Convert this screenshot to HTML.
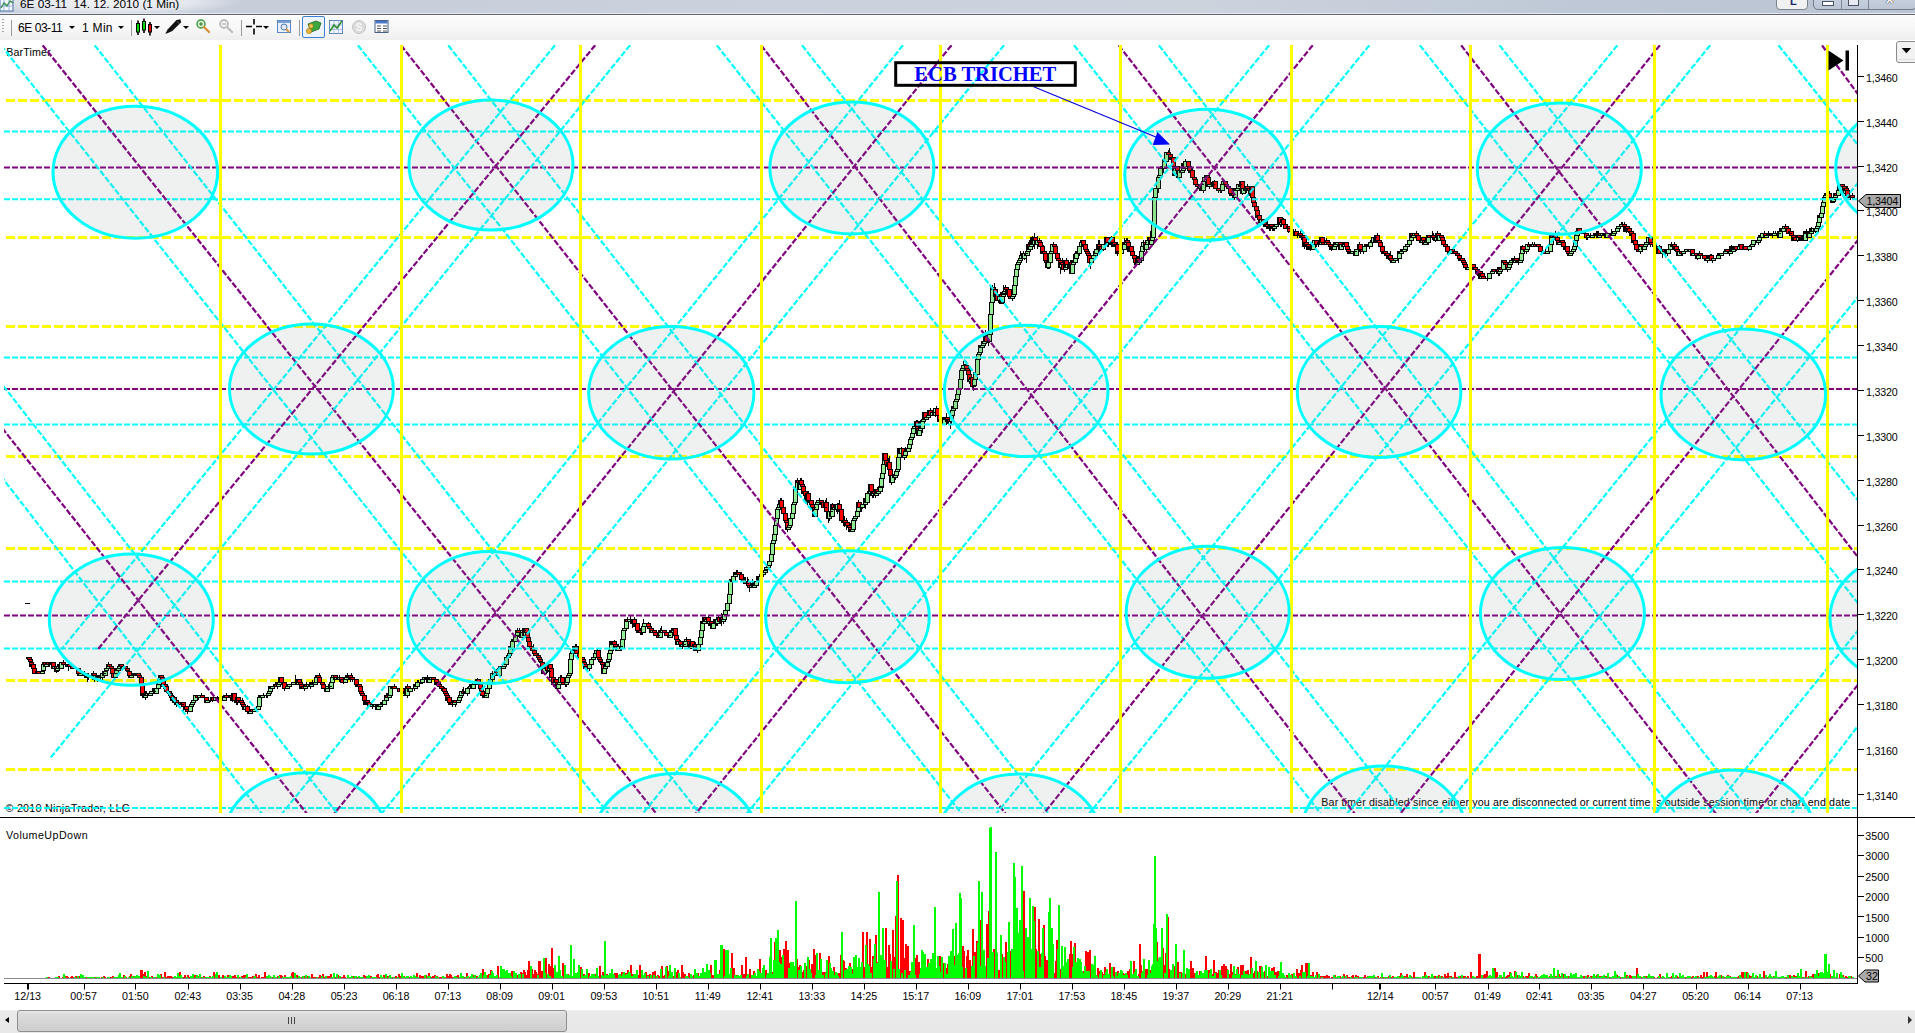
<!DOCTYPE html>
<html><head><meta charset="utf-8"><title>6E 03-11 14. 12. 2010 (1 Min)</title>
<style>
html,body{margin:0;padding:0;background:#fff;}
body{width:1915px;height:1033px;overflow:hidden;position:relative;font-family:"Liberation Sans",sans-serif;}
#title{position:absolute;left:0;top:0;width:1915px;height:14px;background:linear-gradient(90deg,#c9d0dc 0,#c6ceda 300px,#cbd2dd 800px,#ccd3dd 1200px,#bec8d6 1600px,#bac4d3 1915px);}
#title .glow{position:absolute;left:-20px;top:-14px;width:260px;height:30px;background:radial-gradient(ellipse at center,rgba(255,255,255,.75) 0,rgba(255,255,255,.5) 45%,rgba(255,255,255,0) 72%);}
#title .txt{position:absolute;left:20px;top:-3px;font-size:11.800px;line-height:14px;color:#000;white-space:pre;}
#tline{position:absolute;left:0;top:13px;width:1915px;height:2px;background:linear-gradient(#e6eaf2 0,#e6eaf2 50%,#60656d 50%,#60656d 100%);}
#tool{position:absolute;left:0;top:15px;width:1915px;height:25px;background:linear-gradient(#ffffff 0,#ffffff 4%,#fbfbfb 8%,#f8f8f8 50%,#eeeeee 100%);}
#tool .t{position:absolute;top:5.500px;font-size:12px;line-height:14px;color:#000;white-space:pre;}
.sep{position:absolute;top:5px;width:1px;height:16px;background:#9a9a9a;}
.dd{position:absolute;top:11px;width:0;height:0;border-left:3px solid transparent;border-right:3px solid transparent;border-top:3px solid #000;}
svg{position:absolute;left:0;top:0;}
.ax{font-family:"Liberation Sans",sans-serif;font-size:10.7px;fill:#000;}
.sm{font-family:"Liberation Sans",sans-serif;font-size:10.7px;fill:#000;}
#scroll{position:absolute;left:0;top:1010px;width:1915px;height:23px;background:linear-gradient(#efefef 0,#e9e9e9 3px,#e8e8e8 100%);}
#thumb{position:absolute;left:17px;top:0px;width:550px;height:22px;border:1px solid #8e8e8e;border-radius:3px;background:linear-gradient(#e9e9e9 0,#dcdcdc 12%,#d6d6d6 50%,#cdcdcd 100%);box-sizing:border-box;}
</style></head><body>
<div id="title"><div class="glow"></div>
<svg width="16" height="14" viewBox="0 0 16 14"><rect x="0" y="-4" width="13" height="15" fill="#f4f8ff" stroke="#4a6fa5" stroke-width="1"/><path d="M1 8 L4 3 L7 6 L10 1 L13 3" stroke="#2a8a2a" stroke-width="1.4" fill="none"/><path d="M0 6H13M4 -3V11M9 -3V11" stroke="#7b9bd0" stroke-width=".7"/></svg>
<div class="txt">6E 03-11  14. 12. 2010 (1 Min)</div>
<!-- window buttons -->
<div style="position:absolute;left:1776px;top:-4px;width:32px;height:14px;border:1px solid #7a8190;border-radius:0 0 4px 4px;background:#f1f1f1;box-sizing:border-box;"></div>
<div style="position:absolute;left:1790px;top:-5px;font-size:11px;line-height:12px;color:#1a2a6a;font-weight:bold;">L</div>
<div style="position:absolute;left:1813px;top:-4px;width:104px;height:14px;border:1px solid #6f7a8c;border-radius:0 0 5px 5px;background:linear-gradient(#c9d2df,#bcc6d5);box-sizing:border-box;"></div>
<div style="position:absolute;left:1841px;top:0;width:1px;height:10px;background:#7d8797;"></div>
<div style="position:absolute;left:1868px;top:0;width:1px;height:10px;background:#7d8797;"></div>
<div style="position:absolute;left:1822px;top:1px;width:10px;height:3px;border:1px solid #4a5261;background:#fff;"></div>
<div style="position:absolute;left:1848px;top:-3px;width:9px;height:7px;border:1px solid #4a5261;background:#e8ecf2;"></div>
<div style="position:absolute;left:1886px;top:-7px;font-size:13px;line-height:12px;color:#fff;font-weight:bold;text-shadow:0 0 1px #333,0 0 1px #333;">x</div>
</div>
<div id="tline"></div>
<div id="tool">
 <div style="position:absolute;left:2px;top:4px;width:2px;height:15px;background:repeating-linear-gradient(#a8a8a8 0,#a8a8a8 1.500px,transparent 1.500px,transparent 3px);"></div>
 <div class="sep" style="left:11px"></div>
 <div class="t" style="left:18px;letter-spacing:-0.450px">6E 03-11</div><div class="dd" style="left:69px"></div>
 <div class="t" style="left:82px;letter-spacing:0.300px">1 Min</div><div class="dd" style="left:118px"></div>
 <div class="sep" style="left:131px"></div>
 <svg width="400" height="25" viewBox="0 15 400 25" style="left:0;top:0">
  <!-- candle icon -->
  <path d="M138 20.500V35M144 18.500V33M150 22V35.500" stroke="#000" stroke-width="1.600"/>
  <rect x="136" y="23" width="4" height="9.500" fill="#000"/><rect x="137" y="24" width="2" height="7.500" fill="#00e000"/>
  <rect x="142" y="21" width="4" height="9.500" fill="#000"/><rect x="143" y="22" width="2" height="7.500" fill="#00e000"/>
  <rect x="148" y="24" width="4" height="8.500" fill="#000"/><rect x="149" y="25" width="2" height="6.500" fill="#f00000"/>
  <path d="M154 26h6l-3 3z" fill="#000"/>
  <!-- pen -->
  <path d="M165.300 33.800 L167.800 29.300 L176.500 20 L180.300 19.300 L181.200 22.300 L172.300 31 L167.300 33.300 Z" fill="#111"/><path d="M177 21.500 l2.500 2" stroke="#777" stroke-width=".8"/>
  <path d="M183 26h6l-3 3z" fill="#000"/>
  <!-- zoom in -->
  <circle cx="201" cy="24" r="4" fill="#e8f6e0" stroke="#3a9a3a" stroke-width="1.5"/><path d="M199 24h4M201 22v4" stroke="#1a7a1a" stroke-width="1"/><path d="M204 27l5 5" stroke="#d9903a" stroke-width="2.4" stroke-linecap="round"/>
  <!-- zoom out -->
  <circle cx="224" cy="24" r="4" fill="#f0f0f0" stroke="#b0b0b0" stroke-width="1.5"/><path d="M222 24h4" stroke="#aaa" stroke-width="1"/><path d="M227 27l5 5" stroke="#bdbdbd" stroke-width="2.4" stroke-linecap="round"/>
  <!-- crosshair -->
  <path d="M246 26.5h6M256 26.5h6M254 19v5.5M254 28.500v6" stroke="#000" stroke-width="1.6"/>
  <path d="M263 26h6l-3 3z" fill="#000"/>
  <!-- data box -->
  <rect x="277.5" y="20.500" width="13" height="12" fill="#eaf1fb" stroke="#5d86c4" stroke-width="1"/><rect x="278" y="21" width="12" height="2" fill="#7aa0d8"/><circle cx="284" cy="27" r="3" fill="#dbe9fa" stroke="#5578a8" stroke-width="1"/><path d="M286 29l3 3" stroke="#d9903a" stroke-width="1.8"/>
  <!-- selected button -->
  <rect x="302.5" y="16.5" width="22" height="21" rx="1.500" fill="#eef4fb" stroke="#3c7fd8" stroke-width="1"/>
  <path d="M308 24 l8 -3 l5 2 l-2 6 l-8 3z" fill="#3fa63f" stroke="#1d6b1d" stroke-width=".8"/><circle cx="309" cy="31" r="2.600" fill="#e8b73a" stroke="#a67a12" stroke-width=".7"/><circle cx="311" cy="26" r="2.200" fill="#f0c850" stroke="#a67a12" stroke-width=".7"/>
  <!-- chart icon -->
  <rect x="329.5" y="20.500" width="13" height="13" fill="#f3f7fd" stroke="#5d86c4" stroke-width="1"/><path d="M329.500 25h13M329.500 29.500h13M334 20.500v13M338.500 20.500v13" stroke="#9db8e0" stroke-width=".8"/><path d="M330 31l4-6 3 3 5-7" stroke="#2a8a2a" stroke-width="1.500" fill="none"/>
  <!-- disabled S -->
  <circle cx="359" cy="27" r="6.500" fill="#dcdcdc" stroke="#c4c4c4" stroke-width="1"/><text x="359" y="31" font-size="10" text-anchor="middle" fill="#f6f6f6" font-family="Liberation Sans" font-weight="bold">S</text>
  <!-- table icon -->
  <rect x="375" y="20.500" width="13" height="12" fill="#fff" stroke="#4a5f86" stroke-width="1"/><rect x="375.500" y="21" width="12" height="2.500" fill="#4a78c8"/><path d="M377 26h4M383 26h4M377 28.500h4M383 28.500h4M377 31h4M383 31h4" stroke="#555" stroke-width="1"/>
 </svg>
 <div class="sep" style="left:241px"></div>
 <div class="sep" style="left:299px"></div>
</div>

<svg width="1915" height="1033" viewBox="0 0 1915 1033">
<defs><clipPath id="cc"><rect x="4" y="45" width="1853" height="768"/></clipPath>
<clipPath id="vc"><rect x="4" y="818" width="1853" height="161"/></clipPath></defs>
<text x="6.200" y="56" class="sm" textLength="44.500">BarTimer</text>
<text x="5.500" y="812" class="sm" textLength="124">© 2010 NinjaTrader, LLC</text>
<text x="1321.300" y="806" class="sm" textLength="529">Bar timer disabled since either you are disconnected or current time is outside session time or chart end date</text>
<g clip-path="url(#cc)">
<line x1="6" y1="100.5" x2="1857" y2="100.5" stroke="#FFFF00" stroke-width="3" stroke-dasharray="9 3"/>
<line x1="6" y1="237.5" x2="1857" y2="237.5" stroke="#FFFF00" stroke-width="3" stroke-dasharray="9 3"/>
<line x1="6" y1="326.5" x2="1857" y2="326.5" stroke="#FFFF00" stroke-width="3" stroke-dasharray="9 3"/>
<line x1="6" y1="456.5" x2="1857" y2="456.5" stroke="#FFFF00" stroke-width="3" stroke-dasharray="9 3"/>
<line x1="6" y1="548.5" x2="1857" y2="548.5" stroke="#FFFF00" stroke-width="3" stroke-dasharray="9 3"/>
<line x1="6" y1="680.5" x2="1857" y2="680.5" stroke="#FFFF00" stroke-width="3" stroke-dasharray="9 3"/>
<line x1="6" y1="769.5" x2="1857" y2="769.5" stroke="#FFFF00" stroke-width="3" stroke-dasharray="9 3"/>
<g shape-rendering="crispEdges">
<path d="M28.5 657.5V658.0M29.5 657.5V659.7M30.5 659.7V662.0M31.5 662.0V666.5M32.5 664.2V666.5M33.5 664.2V671.0M34.5 668.7V673.2M35.5 671.0V673.2M36.5 673.2V673.2M37.5 671.0V673.2M38.5 671.0V673.2M39.5 671.0V673.2M40.5 671.0V673.2M41.5 671.0V673.2M42.5 671.0V673.2M43.5 664.2V671.0M44.5 662.0V664.2M45.5 662.0V666.5M46.5 664.2V666.5M47.5 662.0V664.2M48.5 662.0V664.2M49.5 664.2V666.5M50.5 662.0V664.2M51.5 662.0V664.2M52.5 662.0V666.5M53.5 662.0V668.7M54.5 666.5V668.7M55.5 666.5V668.7M56.5 666.5V673.2M57.5 668.7V671.0M58.5 664.2V668.7M59.5 664.2V666.5M60.5 664.2V668.7M61.5 662.0V668.7M62.5 662.0V662.0M63.5 659.7V664.2M64.5 664.2V664.2M65.5 664.2V666.5M66.5 664.2V664.2M67.5 664.2V666.5M68.5 664.2V671.0M69.5 664.2V666.5M70.5 666.5V668.7M71.5 664.2V666.5M72.5 666.5V668.7M73.5 668.7V668.7M74.5 668.7V668.7M75.5 668.7V668.7M76.5 668.7V668.7M77.5 668.7V668.7M78.5 668.7V673.2M79.5 673.2V675.4M80.5 673.2V675.4M81.5 673.2V673.2M82.5 671.0V675.4M83.5 673.2V673.2M84.5 671.0V675.4M85.5 673.2V675.4M86.5 673.2V677.7M87.5 675.4V682.2M88.5 675.4V679.9M89.5 677.7V677.7M90.5 677.7V677.7M91.5 675.4V677.7M92.5 675.4V677.7M93.5 671.0V679.9M94.5 673.2V682.2M95.5 673.2V679.9M96.5 673.2V675.4M97.5 675.4V682.2M98.5 675.4V679.9M99.5 675.4V677.7M100.5 675.4V677.7M101.5 675.4V677.7M102.5 671.0V679.9M103.5 673.2V675.4M104.5 673.2V675.4M105.5 671.0V675.4M106.5 668.7V671.0M107.5 668.7V668.7M108.5 662.0V668.7M109.5 664.2V666.5M110.5 664.2V666.5M111.5 666.5V673.2M112.5 668.7V673.2M113.5 673.2V677.7M114.5 675.4V677.7M115.5 673.2V677.7M116.5 668.7V673.2M117.5 666.5V671.0M118.5 666.5V673.2M119.5 664.2V668.7M120.5 664.2V666.5M121.5 664.2V666.5M122.5 664.2V668.7M123.5 666.5V668.7M124.5 666.5V666.5M125.5 666.5V668.7M126.5 668.7V668.7M127.5 668.7V671.0M128.5 671.0V673.2M129.5 668.7V675.4M130.5 675.4V677.7M131.5 675.4V677.7M132.5 673.2V677.7M133.5 675.4V675.4M134.5 675.4V675.4M135.5 673.2V675.4M136.5 673.2V675.4M137.5 673.2V675.4M138.5 673.2V675.4M139.5 675.4V679.9M140.5 675.4V677.7M141.5 677.7V684.4M142.5 684.4V697.9M143.5 691.2V697.9M144.5 691.2V697.9M145.5 691.2V700.1M146.5 691.2V695.6M147.5 693.4V695.6M148.5 693.4V693.4M149.5 693.4V695.6M150.5 693.4V695.6M151.5 691.2V693.4M152.5 688.9V693.4M153.5 691.2V691.2M154.5 688.9V693.4M155.5 688.9V693.4M156.5 688.9V693.4M157.5 686.7V688.9M158.5 684.4V688.9M159.5 679.9V686.7M160.5 675.4V679.9M161.5 675.4V677.7M162.5 675.4V679.9M163.5 679.9V688.9M164.5 684.4V686.7M165.5 684.4V688.9M166.5 686.7V693.4M167.5 691.2V691.2M168.5 688.9V691.2M169.5 691.2V695.6M170.5 693.4V697.9M171.5 695.6V697.9M172.5 697.9V700.1M173.5 697.9V700.1M174.5 695.6V702.4M175.5 700.1V702.4M176.5 700.1V706.9M177.5 702.4V704.6M178.5 702.4V702.4M179.5 702.4V702.4M180.5 702.4V704.6M181.5 704.6V704.6M182.5 702.4V704.6M183.5 702.4V711.3M184.5 704.6V706.9M185.5 706.9V706.9M186.5 706.9V709.1M187.5 709.1V713.6M188.5 709.1V711.3M189.5 709.1V711.3M190.5 706.9V711.3M191.5 704.6V706.9M192.5 702.4V709.1M193.5 697.9V702.4M194.5 700.1V700.1M195.5 695.6V702.4M196.5 695.6V697.9M197.5 695.6V697.9M198.5 697.9V700.1M199.5 695.6V697.9M200.5 695.6V695.6M201.5 693.4V695.6M202.5 695.6V697.9M203.5 697.9V697.9M204.5 697.9V697.9M205.5 697.9V697.9M206.5 697.9V702.4M207.5 700.1V702.4M208.5 700.1V702.4M209.5 700.1V702.4M210.5 700.1V702.4M211.5 700.1V700.1M212.5 697.9V702.4M213.5 697.9V700.1M214.5 700.1V700.1M215.5 697.9V700.1M216.5 697.9V700.1M217.5 695.6V700.1M218.5 697.9V700.1M219.5 697.9V700.1M220.5 695.6V700.1M221.5 697.9V697.9M222.5 695.6V700.1M223.5 697.9V700.1M224.5 697.9V700.1M225.5 695.6V697.9M226.5 693.4V697.9M227.5 697.9V697.9M228.5 697.9V697.9M229.5 697.9V697.9M230.5 695.6V697.9M231.5 695.6V697.9M232.5 697.9V702.4M233.5 693.4V700.1M234.5 693.4V700.1M235.5 700.1V700.1M236.5 700.1V704.6M237.5 697.9V704.6M238.5 697.9V702.4M239.5 702.4V702.4M240.5 697.9V702.4M241.5 700.1V704.6M242.5 697.9V704.6M243.5 704.6V706.9M244.5 706.9V709.1M245.5 706.9V711.3M246.5 706.9V706.9M247.5 704.6V711.3M248.5 711.3V713.6M249.5 711.3V713.6M250.5 709.1V713.6M251.5 709.1V711.3M252.5 709.1V711.3M253.5 709.1V711.3M254.5 709.1V711.3M255.5 709.1V709.1M256.5 709.1V709.1M257.5 709.1V709.1M258.5 706.9V709.1M259.5 695.6V706.9M260.5 695.6V697.9M261.5 695.6V697.9M262.5 695.6V697.9M263.5 693.4V695.6M264.5 695.6V695.6M265.5 695.6V695.6M266.5 695.6V697.9M267.5 693.4V697.9M268.5 693.4V695.6M269.5 691.2V693.4M270.5 686.7V691.2M271.5 686.7V688.9M272.5 686.7V691.2M273.5 686.7V686.7M274.5 686.7V686.7M275.5 682.2V686.7M276.5 682.2V686.7M277.5 686.7V688.9M278.5 684.4V686.7M279.5 682.2V686.7M280.5 677.7V682.2M281.5 677.7V682.2M282.5 682.2V684.4M283.5 679.9V684.4M284.5 682.2V691.2M285.5 686.7V688.9M286.5 688.9V688.9M287.5 686.7V688.9M288.5 686.7V686.7M289.5 684.4V686.7M290.5 684.4V684.4M291.5 684.4V684.4M292.5 684.4V684.4M293.5 682.2V684.4M294.5 682.2V682.2M295.5 675.4V682.2M296.5 682.2V684.4M297.5 682.2V684.4M298.5 679.9V684.4M299.5 679.9V684.4M300.5 682.2V686.7M301.5 684.4V688.9M302.5 684.4V688.9M303.5 686.7V688.9M304.5 688.9V691.2M305.5 684.4V688.9M306.5 682.2V688.9M307.5 686.7V686.7M308.5 684.4V686.7M309.5 684.4V684.4M310.5 684.4V688.9M311.5 682.2V686.7M312.5 679.9V684.4M313.5 682.2V684.4M314.5 679.9V684.4M315.5 679.9V684.4M316.5 677.7V682.2M317.5 675.4V677.7M318.5 675.4V677.7M319.5 673.2V682.2M320.5 682.2V684.4M321.5 682.2V682.2M322.5 682.2V684.4M323.5 684.4V688.9M324.5 688.9V688.9M325.5 686.7V688.9M326.5 686.7V691.2M327.5 686.7V691.2M328.5 684.4V688.9M329.5 686.7V686.7M330.5 686.7V688.9M331.5 682.2V688.9M332.5 677.7V684.4M333.5 675.4V679.9M334.5 675.4V677.7M335.5 675.4V679.9M336.5 677.7V679.9M337.5 677.7V677.7M338.5 677.7V679.9M339.5 675.4V682.2M340.5 677.7V677.7M341.5 677.7V679.9M342.5 679.9V682.2M343.5 682.2V684.4M344.5 682.2V682.2M345.5 679.9V682.2M346.5 677.7V679.9M347.5 673.2V677.7M348.5 675.4V679.9M349.5 675.4V677.7M350.5 675.4V682.2M351.5 673.2V679.9M352.5 677.7V682.2M353.5 679.9V679.9M354.5 679.9V679.9M355.5 679.9V682.2M356.5 679.9V684.4M357.5 684.4V686.7M358.5 684.4V686.7M359.5 684.4V686.7M360.5 686.7V691.2M361.5 691.2V693.4M362.5 693.4V695.6M363.5 693.4V695.6M364.5 693.4V700.1M365.5 700.1V704.6M366.5 700.1V704.6M367.5 700.1V704.6M368.5 700.1V704.6M369.5 702.4V706.9M370.5 706.9V706.9M371.5 706.9V706.9M372.5 704.6V709.1M373.5 704.6V704.6M374.5 704.6V706.9M375.5 704.6V706.9M376.5 704.6V704.6M377.5 704.6V709.1M378.5 704.6V709.1M379.5 704.6V706.9M380.5 704.6V706.9M381.5 702.4V704.6M382.5 702.4V704.6M383.5 702.4V704.6M384.5 700.1V704.6M385.5 700.1V700.1M386.5 693.4V700.1M387.5 693.4V697.9M388.5 697.9V697.9M389.5 695.6V697.9M390.5 686.7V695.6M391.5 686.7V686.7M392.5 686.7V688.9M393.5 686.7V688.9M394.5 684.4V688.9M395.5 686.7V688.9M396.5 688.9V688.9M397.5 688.9V688.9M398.5 688.9V688.9M399.5 688.9V691.2M400.5 688.9V691.2M401.5 688.9V693.4M402.5 688.9V691.2M403.5 691.2V695.6M404.5 693.4V695.6M405.5 691.2V693.4M406.5 688.9V695.6M407.5 684.4V697.9M408.5 686.7V688.9M409.5 688.9V691.2M410.5 688.9V691.2M411.5 688.9V691.2M412.5 688.9V688.9M413.5 688.9V688.9M414.5 688.9V691.2M415.5 684.4V688.9M416.5 682.2V688.9M417.5 679.9V686.7M418.5 679.9V682.2M419.5 682.2V682.2M420.5 679.9V684.4M421.5 682.2V684.4M422.5 679.9V684.4M423.5 679.9V679.9M424.5 677.7V679.9M425.5 677.7V677.7M426.5 677.7V679.9M427.5 675.4V679.9M428.5 677.7V682.2M429.5 677.7V682.2M430.5 677.7V682.2M431.5 677.7V679.9M432.5 677.7V679.9M433.5 677.7V679.9M434.5 677.7V679.9M435.5 679.9V682.2M436.5 679.9V684.4M437.5 682.2V686.7M438.5 682.2V684.4M439.5 684.4V686.7M440.5 686.7V688.9M441.5 686.7V691.2M442.5 688.9V688.9M443.5 688.9V688.9M444.5 686.7V691.2M445.5 691.2V695.6M446.5 693.4V695.6M447.5 695.6V700.1M448.5 697.9V700.1M449.5 697.9V702.4M450.5 700.1V704.6M451.5 702.4V704.6M452.5 702.4V706.9M453.5 704.6V704.6M454.5 700.1V704.6M455.5 700.1V706.9M456.5 700.1V704.6M457.5 700.1V702.4M458.5 700.1V702.4M459.5 697.9V702.4M460.5 691.2V700.1M461.5 691.2V697.9M462.5 688.9V691.2M463.5 686.7V693.4M464.5 693.4V693.4M465.5 691.2V693.4M466.5 691.2V693.4M467.5 686.7V695.6M468.5 686.7V688.9M469.5 688.9V688.9M470.5 686.7V688.9M471.5 684.4V686.7M472.5 682.2V688.9M473.5 684.4V688.9M474.5 682.2V684.4M475.5 679.9V682.2M476.5 682.2V682.2M477.5 677.7V682.2M478.5 679.9V684.4M479.5 682.2V684.4M480.5 682.2V688.9M481.5 688.9V691.2M482.5 688.9V697.9M483.5 693.4V695.6M484.5 695.6V695.6M485.5 695.6V697.9M486.5 693.4V697.9M487.5 688.9V693.4M488.5 688.9V688.9M489.5 682.2V688.9M490.5 679.9V684.4M491.5 677.7V679.9M492.5 671.0V679.9M493.5 673.2V673.2M494.5 673.2V677.7M495.5 675.4V675.4M496.5 668.7V675.4M497.5 671.0V673.2M498.5 673.2V675.4M499.5 668.7V675.4M500.5 666.5V668.7M501.5 666.5V666.5M502.5 666.5V668.7M503.5 666.5V668.7M504.5 664.2V666.5M505.5 664.2V664.2M506.5 655.2V664.2M507.5 655.2V657.5M508.5 655.2V657.5M509.5 653.0V657.5M510.5 646.3V653.0M511.5 644.0V648.5M512.5 641.8V650.8M513.5 639.5V641.8M514.5 639.5V641.8M515.5 635.1V641.8M516.5 635.1V637.3M517.5 628.3V635.1M518.5 630.6V637.3M519.5 628.3V635.1M520.5 632.8V637.3M521.5 632.8V637.3M522.5 628.3V637.3M523.5 630.6V630.6M524.5 630.6V635.1M525.5 628.3V635.1M526.5 628.3V632.8M527.5 632.8V637.3M528.5 635.1V641.8M529.5 641.8V646.3M530.5 646.3V648.5M531.5 646.3V648.5M532.5 648.5V653.0M533.5 644.0V650.8M534.5 648.5V653.0M535.5 653.0V655.2M536.5 653.0V657.5M537.5 653.0V655.2M538.5 653.0V657.5M539.5 655.2V659.7M540.5 659.7V662.0M541.5 662.0V664.2M542.5 659.7V666.5M543.5 666.5V673.2M544.5 666.5V673.2M545.5 666.5V668.7M546.5 664.2V668.7M547.5 664.2V673.2M548.5 671.0V671.0M549.5 664.2V673.2M550.5 664.2V671.0M551.5 666.5V677.7M552.5 675.4V677.7M553.5 675.4V686.7M554.5 682.2V684.4M555.5 679.9V684.4M556.5 679.9V684.4M557.5 682.2V691.2M558.5 684.4V688.9M559.5 679.9V686.7M560.5 675.4V682.2M561.5 675.4V677.7M562.5 677.7V684.4M563.5 682.2V684.4M564.5 684.4V684.4M565.5 684.4V686.7M566.5 679.9V686.7M567.5 677.7V682.2M568.5 673.2V677.7M569.5 673.2V675.4M570.5 659.7V677.7M571.5 653.0V662.0M572.5 646.3V653.0M573.5 650.8V653.0M574.5 648.5V650.8M575.5 644.0V653.0M576.5 644.0V653.0M577.5 653.0V653.0M578.5 650.8V653.0M579.5 653.0V659.7M580.5 655.2V659.7M581.5 657.5V657.5M582.5 657.5V659.7M583.5 659.7V662.0M584.5 659.7V664.2M585.5 662.0V668.7M586.5 664.2V668.7M587.5 666.5V671.0M588.5 668.7V668.7M589.5 662.0V671.0M590.5 664.2V664.2M591.5 657.5V664.2M592.5 657.5V662.0M593.5 657.5V659.7M594.5 657.5V657.5M595.5 653.0V659.7M596.5 650.8V653.0M597.5 648.5V653.0M598.5 650.8V657.5M599.5 657.5V662.0M600.5 657.5V662.0M601.5 662.0V666.5M602.5 662.0V664.2M603.5 664.2V673.2M604.5 668.7V673.2M605.5 664.2V668.7M606.5 662.0V666.5M607.5 657.5V666.5M608.5 659.7V662.0M609.5 653.0V662.0M610.5 650.8V653.0M611.5 641.8V650.8M612.5 641.8V646.3M613.5 641.8V644.0M614.5 639.5V646.3M615.5 641.8V648.5M616.5 644.0V648.5M617.5 648.5V650.8M618.5 644.0V650.8M619.5 646.3V648.5M620.5 646.3V648.5M621.5 646.3V650.8M622.5 639.5V648.5M623.5 628.3V639.5M624.5 628.3V632.8M625.5 628.3V628.3M626.5 619.3V628.3M627.5 617.1V621.6M628.5 621.6V621.6M629.5 619.3V621.6M630.5 614.9V619.3M631.5 619.3V619.3M632.5 619.3V628.3M633.5 619.3V623.8M634.5 617.1V626.1M635.5 623.8V628.3M636.5 623.8V628.3M637.5 623.8V630.6M638.5 626.1V632.8M639.5 630.6V632.8M640.5 628.3V635.1M641.5 632.8V635.1M642.5 632.8V635.1M643.5 619.3V632.8M644.5 623.8V626.1M645.5 623.8V623.8M646.5 623.8V626.1M647.5 623.8V623.8M648.5 621.6V626.1M649.5 626.1V630.6M650.5 628.3V632.8M651.5 626.1V632.8M652.5 630.6V632.8M653.5 630.6V632.8M654.5 630.6V632.8M655.5 632.8V635.1M656.5 635.1V635.1M657.5 635.1V637.3M658.5 635.1V637.3M659.5 637.3V637.3M660.5 628.3V637.3M661.5 626.1V632.8M662.5 630.6V635.1M663.5 630.6V630.6M664.5 630.6V632.8M665.5 632.8V632.8M666.5 632.8V635.1M667.5 635.1V637.3M668.5 632.8V635.1M669.5 635.1V637.3M670.5 632.8V637.3M671.5 628.3V632.8M672.5 628.3V632.8M673.5 628.3V632.8M674.5 628.3V630.6M675.5 628.3V635.1M676.5 635.1V639.5M677.5 635.1V644.0M678.5 639.5V644.0M679.5 639.5V641.8M680.5 639.5V644.0M681.5 644.0V646.3M682.5 644.0V648.5M683.5 644.0V644.0M684.5 644.0V646.3M685.5 641.8V646.3M686.5 637.3V644.0M687.5 639.5V639.5M688.5 639.5V641.8M689.5 641.8V644.0M690.5 644.0V648.5M691.5 641.8V648.5M692.5 641.8V646.3M693.5 646.3V646.3M694.5 641.8V648.5M695.5 641.8V650.8M696.5 648.5V650.8M697.5 648.5V653.0M698.5 644.0V650.8M699.5 641.8V644.0M700.5 635.1V644.0M701.5 630.6V637.3M702.5 619.3V632.8M703.5 621.6V623.8M704.5 617.1V623.8M705.5 617.1V621.6M706.5 619.3V621.6M707.5 617.1V619.3M708.5 614.9V626.1M709.5 621.6V626.1M710.5 621.6V621.6M711.5 621.6V623.8M712.5 623.8V628.3M713.5 623.8V628.3M714.5 623.8V626.1M715.5 619.3V623.8M716.5 619.3V626.1M717.5 619.3V626.1M718.5 614.9V619.3M719.5 617.1V623.8M720.5 619.3V623.8M721.5 612.6V626.1M722.5 614.9V621.6M723.5 619.3V623.8M724.5 612.6V621.6M725.5 610.4V614.9M726.5 610.4V610.4M727.5 603.6V612.6M728.5 603.6V605.9M729.5 592.4V608.1M730.5 581.2V594.7M731.5 576.7V581.2M732.5 579.0V583.4M733.5 576.7V581.2M734.5 576.7V576.7M735.5 572.2V579.0M736.5 570.0V574.5M737.5 570.0V574.5M738.5 572.2V574.5M739.5 574.5V574.5M740.5 574.5V574.5M741.5 572.2V581.2M742.5 579.0V579.0M743.5 576.7V583.4M744.5 576.7V581.2M745.5 576.7V583.4M746.5 583.4V583.4M747.5 576.7V587.9M748.5 579.0V585.7M749.5 585.7V592.4M750.5 585.7V587.9M751.5 585.7V587.9M752.5 579.0V587.9M753.5 581.2V587.9M754.5 583.4V587.9M755.5 581.2V587.9M756.5 581.2V585.7M757.5 581.2V581.2M758.5 576.7V581.2M759.5 576.7V581.2M760.5 576.7V581.2M761.5 574.5V576.7M762.5 574.5V574.5M763.5 572.2V574.5M764.5 572.2V572.2M765.5 570.0V574.5M766.5 567.7V570.0M767.5 567.7V567.7M768.5 565.5V570.0M769.5 558.8V570.0M770.5 561.0V561.0M771.5 549.8V561.0M772.5 540.8V554.3M773.5 540.8V543.0M774.5 531.8V540.8M775.5 520.6V538.6M776.5 518.4V525.1M777.5 509.4V520.6M778.5 507.1V511.6M779.5 502.7V507.1M780.5 498.2V507.1M781.5 498.2V507.1M782.5 507.1V507.1M783.5 504.9V513.9M784.5 511.6V513.9M785.5 513.9V520.6M786.5 518.4V525.1M787.5 520.6V531.8M788.5 525.1V529.6M789.5 522.9V529.6M790.5 516.1V529.6M791.5 516.1V518.4M792.5 513.9V520.6M793.5 504.9V516.1M794.5 502.7V504.9M795.5 486.9V507.1M796.5 486.9V489.2M797.5 478.0V491.4M798.5 480.2V482.5M799.5 480.2V489.2M800.5 478.0V489.2M801.5 478.0V484.7M802.5 484.7V491.4M803.5 484.7V495.9M804.5 486.9V493.7M805.5 491.4V498.2M806.5 495.9V502.7M807.5 491.4V504.9M808.5 491.4V500.4M809.5 500.4V502.7M810.5 500.4V507.1M811.5 500.4V509.4M812.5 502.7V507.1M813.5 507.1V509.4M814.5 507.1V516.1M815.5 507.1V516.1M816.5 504.9V509.4M817.5 502.7V507.1M818.5 500.4V504.9M819.5 498.2V502.7M820.5 500.4V500.4M821.5 500.4V504.9M822.5 500.4V507.1M823.5 502.7V507.1M824.5 507.1V509.4M825.5 500.4V507.1M826.5 498.2V511.6M827.5 507.1V511.6M828.5 511.6V522.9M829.5 511.6V520.6M830.5 507.1V513.9M831.5 511.6V518.4M832.5 502.7V516.1M833.5 504.9V511.6M834.5 504.9V511.6M835.5 504.9V509.4M836.5 504.9V511.6M837.5 502.7V513.9M838.5 502.7V511.6M839.5 500.4V509.4M840.5 507.1V511.6M841.5 504.9V522.9M842.5 520.6V522.9M843.5 513.9V525.1M844.5 516.1V527.3M845.5 520.6V525.1M846.5 518.4V529.6M847.5 520.6V525.1M848.5 525.1V531.8M849.5 525.1V527.3M850.5 522.9V531.8M851.5 527.3V531.8M852.5 527.3V531.8M853.5 518.4V529.6M854.5 516.1V520.6M855.5 513.9V525.1M856.5 513.9V516.1M857.5 509.4V518.4M858.5 500.4V513.9M859.5 502.7V509.4M860.5 507.1V507.1M861.5 507.1V511.6M862.5 504.9V509.4M863.5 498.2V507.1M864.5 504.9V504.9M865.5 498.2V509.4M866.5 498.2V502.7M867.5 491.4V502.7M868.5 493.7V495.9M869.5 491.4V495.9M870.5 484.7V493.7M871.5 484.7V491.4M872.5 491.4V498.2M873.5 491.4V498.2M874.5 489.2V493.7M875.5 491.4V498.2M876.5 489.2V495.9M877.5 486.9V495.9M878.5 489.2V493.7M879.5 489.2V491.4M880.5 486.9V491.4M881.5 478.0V491.4M882.5 464.5V478.0M883.5 457.8V473.5M884.5 453.3V466.8M885.5 453.3V460.0M886.5 460.0V464.5M887.5 464.5V466.8M888.5 457.8V473.5M889.5 455.5V469.0M890.5 466.8V475.7M891.5 475.7V484.7M892.5 473.5V482.5M893.5 473.5V475.7M894.5 473.5V478.0M895.5 475.7V480.2M896.5 471.2V475.7M897.5 469.0V471.2M898.5 455.5V471.2M899.5 448.8V462.3M900.5 448.8V457.8M901.5 446.6V453.3M902.5 448.8V451.0M903.5 448.8V457.8M904.5 455.5V460.0M905.5 446.6V455.5M906.5 448.8V453.3M907.5 446.6V451.0M908.5 448.8V451.0M909.5 442.1V448.8M910.5 437.6V446.6M911.5 437.6V439.8M912.5 430.8V437.6M913.5 426.4V433.1M914.5 421.9V428.6M915.5 426.4V428.6M916.5 419.6V426.4M917.5 419.6V428.6M918.5 428.6V435.3M919.5 430.8V435.3M920.5 419.6V433.1M921.5 421.9V428.6M922.5 421.9V433.1M923.5 419.6V421.9M924.5 412.9V419.6M925.5 412.9V419.6M926.5 417.4V419.6M927.5 417.4V417.4M928.5 412.9V419.6M929.5 410.7V415.1M930.5 408.4V415.1M931.5 415.1V415.1M932.5 410.7V415.1M933.5 412.9V412.9M934.5 412.9V415.1M935.5 408.4V417.4M936.5 406.2V412.9M937.5 408.4V421.9M938.5 412.9V417.4M939.5 412.9V424.1M940.5 419.6V421.9M941.5 415.1V421.9M942.5 417.4V421.9M943.5 417.4V424.1M944.5 417.4V424.1M945.5 419.6V419.6M946.5 412.9V419.6M947.5 417.4V424.1M948.5 419.6V424.1M949.5 419.6V421.9M950.5 419.6V428.6M951.5 415.1V424.1M952.5 408.4V415.1M953.5 406.2V410.7M954.5 406.2V410.7M955.5 394.9V408.4M956.5 399.4V401.7M957.5 394.9V399.4M958.5 386.0V394.9M959.5 386.0V388.2M960.5 379.2V390.5M961.5 368.0V379.2M962.5 368.0V372.5M963.5 361.3V370.3M964.5 363.5V365.8M965.5 363.5V365.8M966.5 361.3V368.0M967.5 368.0V374.7M968.5 370.3V374.7M969.5 372.5V383.7M970.5 379.2V381.5M971.5 374.7V383.7M972.5 377.0V388.2M973.5 386.0V390.5M974.5 379.2V386.0M975.5 370.3V379.2M976.5 372.5V377.0M977.5 359.0V374.7M978.5 354.6V361.3M979.5 350.1V354.6M980.5 345.6V352.3M981.5 341.1V354.6M982.5 343.3V350.1M983.5 343.3V345.6M984.5 341.1V343.3M985.5 329.9V341.1M986.5 332.1V343.3M987.5 341.1V343.3M988.5 341.1V345.6M989.5 332.1V343.3M990.5 314.2V334.4M991.5 300.7V314.2M992.5 285.0V305.2M993.5 287.2V289.5M994.5 282.7V289.5M995.5 289.5V300.7M996.5 294.0V296.2M997.5 291.7V300.7M998.5 298.5V302.9M999.5 294.0V300.7M1000.5 291.7V296.2M1001.5 291.7V302.9M1002.5 296.2V302.9M1003.5 285.0V296.2M1004.5 291.7V298.5M1005.5 285.0V294.0M1006.5 287.2V289.5M1007.5 289.5V294.0M1008.5 287.2V298.5M1009.5 289.5V298.5M1010.5 296.2V298.5M1011.5 294.0V298.5M1012.5 294.0V300.7M1013.5 294.0V296.2M1014.5 285.0V294.0M1015.5 273.8V285.0M1016.5 267.0V276.0M1017.5 262.5V269.3M1018.5 258.1V264.8M1019.5 260.3V264.8M1020.5 251.3V264.8M1021.5 255.8V258.1M1022.5 253.6V255.8M1023.5 251.3V258.1M1024.5 253.6V260.3M1025.5 251.3V253.6M1026.5 253.6V262.5M1027.5 246.8V255.8M1028.5 242.4V255.8M1029.5 240.1V251.3M1030.5 246.8V249.1M1031.5 242.4V249.1M1032.5 235.6V244.6M1033.5 237.9V244.6M1034.5 233.4V249.1M1035.5 237.9V242.4M1036.5 240.1V244.6M1037.5 235.6V249.1M1038.5 240.1V242.4M1039.5 237.9V242.4M1040.5 242.4V246.8M1041.5 246.8V246.8M1042.5 246.8V253.6M1043.5 244.6V255.8M1044.5 251.3V253.6M1045.5 253.6V264.8M1046.5 260.3V264.8M1047.5 260.3V269.3M1048.5 255.8V269.3M1049.5 260.3V269.3M1050.5 251.3V264.8M1051.5 249.1V253.6M1052.5 244.6V251.3M1053.5 242.4V244.6M1054.5 244.6V246.8M1055.5 244.6V253.6M1056.5 253.6V253.6M1057.5 253.6V258.1M1058.5 258.1V260.3M1059.5 258.1V260.3M1060.5 260.3V273.8M1061.5 260.3V267.0M1062.5 258.1V267.0M1063.5 262.5V269.3M1064.5 267.0V271.5M1065.5 260.3V269.3M1066.5 258.1V267.0M1067.5 264.8V267.0M1068.5 260.3V269.3M1069.5 264.8V267.0M1070.5 260.3V267.0M1071.5 260.3V273.8M1072.5 264.8V273.8M1073.5 253.6V267.0M1074.5 258.1V262.5M1075.5 258.1V264.8M1076.5 251.3V260.3M1077.5 251.3V255.8M1078.5 251.3V253.6M1079.5 246.8V255.8M1080.5 244.6V249.1M1081.5 242.4V249.1M1082.5 240.1V242.4M1083.5 240.1V246.8M1084.5 242.4V249.1M1085.5 244.6V249.1M1086.5 249.1V251.3M1087.5 251.3V253.6M1088.5 251.3V260.3M1089.5 255.8V264.8M1090.5 262.5V269.3M1091.5 255.8V264.8M1092.5 255.8V260.3M1093.5 251.3V260.3M1094.5 255.8V260.3M1095.5 251.3V258.1M1096.5 246.8V255.8M1097.5 246.8V249.1M1098.5 240.1V253.6M1099.5 240.1V253.6M1100.5 246.8V249.1M1101.5 246.8V249.1M1102.5 246.8V249.1M1103.5 244.6V251.3M1104.5 244.6V246.8M1105.5 242.4V246.8M1106.5 237.9V244.6M1107.5 237.9V246.8M1108.5 240.1V246.8M1109.5 240.1V242.4M1110.5 240.1V244.6M1111.5 235.6V246.8M1112.5 237.9V246.8M1113.5 237.9V244.6M1114.5 240.1V246.8M1115.5 244.6V246.8M1116.5 244.6V246.8M1117.5 242.4V255.8M1118.5 249.1V253.6M1119.5 251.3V253.6M1120.5 249.1V253.6M1121.5 242.4V255.8M1122.5 249.1V249.1M1123.5 249.1V249.1M1124.5 237.9V249.1M1125.5 242.4V244.6M1126.5 237.9V249.1M1127.5 237.9V242.4M1128.5 242.4V246.8M1129.5 244.6V251.3M1130.5 244.6V251.3M1131.5 246.8V251.3M1132.5 249.1V255.8M1133.5 255.8V258.1M1134.5 255.8V258.1M1135.5 255.8V267.0M1136.5 262.5V264.8M1137.5 255.8V264.8M1138.5 255.8V262.5M1139.5 258.1V264.8M1140.5 260.3V260.3M1141.5 251.3V260.3M1142.5 246.8V255.8M1143.5 240.1V249.1M1144.5 242.4V244.6M1145.5 240.1V249.1M1146.5 242.4V251.3M1147.5 237.9V244.6M1148.5 240.1V240.1M1149.5 237.9V244.6M1150.5 231.1V244.6M1151.5 237.9V246.8M1152.5 237.9V240.1M1153.5 222.2V240.1M1154.5 195.2V224.4M1155.5 188.5V197.5M1156.5 186.3V188.5M1157.5 186.3V190.7M1158.5 175.0V193.0M1159.5 175.0V179.5M1160.5 168.3V177.3M1161.5 168.3V168.3M1162.5 163.8V168.3M1163.5 163.8V172.8M1164.5 159.3V168.3M1165.5 159.3V161.6M1166.5 152.6V161.6M1167.5 152.6V152.6M1168.5 150.3V157.1M1169.5 148.1V157.1M1170.5 154.8V157.1M1171.5 157.1V159.3M1172.5 154.8V159.3M1173.5 157.1V168.3M1174.5 163.8V175.0M1175.5 166.1V175.0M1176.5 166.1V168.3M1177.5 166.1V170.5M1178.5 170.5V177.3M1179.5 170.5V179.5M1180.5 170.5V170.5M1181.5 170.5V172.8M1182.5 168.3V172.8M1183.5 163.8V170.5M1184.5 163.8V170.5M1185.5 159.3V168.3M1186.5 161.6V161.6M1187.5 161.6V163.8M1188.5 161.6V168.3M1189.5 163.8V170.5M1190.5 170.5V172.8M1191.5 170.5V172.8M1192.5 168.3V177.3M1193.5 177.3V177.3M1194.5 175.0V179.5M1195.5 179.5V186.3M1196.5 184.0V186.3M1197.5 184.0V186.3M1198.5 186.3V186.3M1199.5 186.3V190.7M1200.5 184.0V188.5M1201.5 184.0V184.0M1202.5 181.8V190.7M1203.5 181.8V193.0M1204.5 177.3V181.8M1205.5 175.0V179.5M1206.5 175.0V177.3M1207.5 175.0V179.5M1208.5 175.0V186.3M1209.5 184.0V188.5M1210.5 184.0V186.3M1211.5 181.8V184.0M1212.5 184.0V184.0M1213.5 184.0V186.3M1214.5 179.5V188.5M1215.5 181.8V188.5M1216.5 186.3V190.7M1217.5 188.5V188.5M1218.5 188.5V193.0M1219.5 190.7V190.7M1220.5 190.7V193.0M1221.5 190.7V193.0M1222.5 184.0V190.7M1223.5 179.5V184.0M1224.5 179.5V181.8M1225.5 181.8V184.0M1226.5 184.0V186.3M1227.5 186.3V188.5M1228.5 184.0V188.5M1229.5 188.5V190.7M1230.5 188.5V193.0M1231.5 193.0V195.2M1232.5 193.0V195.2M1233.5 193.0V195.2M1234.5 195.2V199.7M1235.5 188.5V197.5M1236.5 188.5V190.7M1237.5 188.5V190.7M1238.5 184.0V188.5M1239.5 184.0V186.3M1240.5 181.8V186.3M1241.5 181.8V186.3M1242.5 181.8V195.2M1243.5 184.0V193.0M1244.5 186.3V190.7M1245.5 188.5V193.0M1246.5 186.3V193.0M1247.5 184.0V190.7M1248.5 188.5V190.7M1249.5 188.5V190.7M1250.5 190.7V195.2M1251.5 186.3V197.5M1252.5 186.3V199.7M1253.5 197.5V204.2M1254.5 202.0V206.4M1255.5 206.4V208.7M1256.5 206.4V210.9M1257.5 210.9V217.7M1258.5 215.4V217.7M1259.5 215.4V219.9M1260.5 219.9V222.2M1261.5 217.7V224.4M1262.5 219.9V222.2M1263.5 219.9V224.4M1264.5 222.2V224.4M1265.5 224.4V226.6M1266.5 224.4V228.9M1267.5 219.9V228.9M1268.5 226.6V226.6M1269.5 224.4V231.1M1270.5 224.4V231.1M1271.5 224.4V228.9M1272.5 226.6V231.1M1273.5 226.6V231.1M1274.5 226.6V231.1M1275.5 226.6V226.6M1276.5 224.4V226.6M1277.5 224.4V226.6M1278.5 224.4V224.4M1279.5 217.7V224.4M1280.5 217.7V226.6M1281.5 219.9V226.6M1282.5 219.9V222.2M1283.5 217.7V224.4M1284.5 222.2V224.4M1285.5 224.4V228.9M1286.5 226.6V228.9M1287.5 228.9V228.9M1288.5 226.6V233.4M1289.5 226.6V231.1M1290.5 228.9V235.6M1291.5 231.1V233.4M1292.5 228.9V231.1M1293.5 228.9V233.4M1294.5 233.4V235.6M1295.5 228.9V235.6M1296.5 231.1V235.6M1297.5 235.6V237.9M1298.5 235.6V235.6M1299.5 233.4V235.6M1300.5 231.1V235.6M1301.5 235.6V240.1M1302.5 235.6V237.9M1303.5 235.6V240.1M1304.5 235.6V249.1M1305.5 242.4V246.8M1306.5 240.1V246.8M1307.5 244.6V246.8M1308.5 242.4V249.1M1309.5 246.8V249.1M1310.5 244.6V251.3M1311.5 246.8V249.1M1312.5 246.8V249.1M1313.5 244.6V249.1M1314.5 240.1V244.6M1315.5 240.1V240.1M1316.5 240.1V246.8M1317.5 244.6V244.6M1318.5 244.6V246.8M1319.5 242.4V244.6M1320.5 242.4V244.6M1321.5 237.9V244.6M1322.5 237.9V242.4M1323.5 242.4V244.6M1324.5 244.6V244.6M1325.5 244.6V244.6M1326.5 237.9V244.6M1327.5 240.1V244.6M1328.5 242.4V244.6M1329.5 244.6V249.1M1330.5 242.4V249.1M1331.5 246.8V251.3M1332.5 246.8V249.1M1333.5 246.8V249.1M1334.5 246.8V249.1M1335.5 242.4V249.1M1336.5 242.4V244.6M1337.5 242.4V246.8M1338.5 242.4V242.4M1339.5 242.4V244.6M1340.5 242.4V249.1M1341.5 244.6V249.1M1342.5 244.6V246.8M1343.5 244.6V246.8M1344.5 244.6V246.8M1345.5 242.4V244.6M1346.5 242.4V246.8M1347.5 246.8V249.1M1348.5 249.1V251.3M1349.5 251.3V253.6M1350.5 249.1V253.6M1351.5 251.3V253.6M1352.5 251.3V253.6M1353.5 251.3V251.3M1354.5 249.1V251.3M1355.5 251.3V255.8M1356.5 249.1V255.8M1357.5 249.1V249.1M1358.5 249.1V249.1M1359.5 242.4V249.1M1360.5 244.6V253.6M1361.5 249.1V251.3M1362.5 249.1V251.3M1363.5 251.3V253.6M1364.5 246.8V251.3M1365.5 246.8V246.8M1366.5 244.6V246.8M1367.5 244.6V246.8M1368.5 244.6V246.8M1369.5 244.6V249.1M1370.5 240.1V246.8M1371.5 242.4V242.4M1372.5 242.4V242.4M1373.5 237.9V242.4M1374.5 237.9V237.9M1375.5 237.9V242.4M1376.5 235.6V242.4M1377.5 233.4V242.4M1378.5 237.9V242.4M1379.5 240.1V244.6M1380.5 242.4V249.1M1381.5 246.8V249.1M1382.5 246.8V251.3M1383.5 251.3V253.6M1384.5 249.1V255.8M1385.5 251.3V253.6M1386.5 253.6V253.6M1387.5 253.6V255.8M1388.5 253.6V260.3M1389.5 255.8V258.1M1390.5 251.3V258.1M1391.5 258.1V260.3M1392.5 260.3V262.5M1393.5 260.3V262.5M1394.5 258.1V260.3M1395.5 258.1V262.5M1396.5 258.1V258.1M1397.5 258.1V258.1M1398.5 258.1V262.5M1399.5 251.3V258.1M1400.5 251.3V253.6M1401.5 251.3V253.6M1402.5 249.1V251.3M1403.5 249.1V251.3M1404.5 249.1V251.3M1405.5 246.8V249.1M1406.5 246.8V246.8M1407.5 244.6V251.3M1408.5 244.6V244.6M1409.5 240.1V244.6M1410.5 240.1V240.1M1411.5 233.4V242.4M1412.5 233.4V237.9M1413.5 235.6V237.9M1414.5 233.4V237.9M1415.5 233.4V233.4M1416.5 231.1V235.6M1417.5 235.6V235.6M1418.5 235.6V240.1M1419.5 240.1V240.1M1420.5 240.1V240.1M1421.5 240.1V242.4M1422.5 237.9V242.4M1423.5 237.9V240.1M1424.5 240.1V244.6M1425.5 242.4V244.6M1426.5 240.1V242.4M1427.5 237.9V242.4M1428.5 235.6V244.6M1429.5 235.6V237.9M1430.5 237.9V237.9M1431.5 237.9V237.9M1432.5 231.1V240.1M1433.5 233.4V237.9M1434.5 235.6V237.9M1435.5 237.9V242.4M1436.5 235.6V240.1M1437.5 231.1V237.9M1438.5 233.4V240.1M1439.5 235.6V240.1M1440.5 235.6V235.6M1441.5 235.6V237.9M1442.5 237.9V240.1M1443.5 240.1V244.6M1444.5 242.4V244.6M1445.5 244.6V246.8M1446.5 244.6V246.8M1447.5 244.6V251.3M1448.5 251.3V251.3M1449.5 251.3V253.6M1450.5 249.1V253.6M1451.5 249.1V251.3M1452.5 249.1V251.3M1453.5 249.1V251.3M1454.5 251.3V251.3M1455.5 251.3V253.6M1456.5 251.3V255.8M1457.5 253.6V255.8M1458.5 255.8V255.8M1459.5 255.8V258.1M1460.5 258.1V260.3M1461.5 258.1V260.3M1462.5 258.1V260.3M1463.5 260.3V264.8M1464.5 262.5V267.0M1465.5 264.8V267.0M1466.5 267.0V267.0M1467.5 267.0V269.3M1468.5 267.0V269.3M1469.5 267.0V267.0M1470.5 267.0V267.0M1471.5 267.0V269.3M1472.5 264.8V269.3M1473.5 264.8V269.3M1474.5 267.0V269.3M1475.5 267.0V269.3M1476.5 269.3V269.3M1477.5 269.3V276.0M1478.5 271.5V273.8M1479.5 271.5V271.5M1480.5 271.5V278.3M1481.5 273.8V278.3M1482.5 273.8V278.3M1483.5 276.0V278.3M1484.5 278.3V278.3M1485.5 278.3V278.3M1486.5 278.3V278.3M1487.5 278.3V280.5M1488.5 278.3V278.3M1489.5 273.8V278.3M1490.5 273.8V273.8M1491.5 271.5V273.8M1492.5 271.5V273.8M1493.5 269.3V273.8M1494.5 269.3V271.5M1495.5 271.5V271.5M1496.5 271.5V271.5M1497.5 267.0V273.8M1498.5 269.3V276.0M1499.5 271.5V276.0M1500.5 267.0V271.5M1501.5 267.0V269.3M1502.5 269.3V269.3M1503.5 260.3V269.3M1504.5 260.3V262.5M1505.5 262.5V267.0M1506.5 262.5V264.8M1507.5 264.8V271.5M1508.5 267.0V269.3M1509.5 264.8V267.0M1510.5 262.5V264.8M1511.5 258.1V262.5M1512.5 260.3V260.3M1513.5 258.1V260.3M1514.5 255.8V262.5M1515.5 258.1V262.5M1516.5 258.1V262.5M1517.5 260.3V262.5M1518.5 260.3V264.8M1519.5 260.3V262.5M1520.5 258.1V262.5M1521.5 251.3V262.5M1522.5 244.6V253.6M1523.5 246.8V249.1M1524.5 249.1V251.3M1525.5 249.1V251.3M1526.5 249.1V253.6M1527.5 244.6V251.3M1528.5 242.4V244.6M1529.5 244.6V246.8M1530.5 246.8V246.8M1531.5 244.6V246.8M1532.5 242.4V246.8M1533.5 244.6V246.8M1534.5 242.4V244.6M1535.5 244.6V246.8M1536.5 246.8V246.8M1537.5 244.6V246.8M1538.5 244.6V246.8M1539.5 244.6V246.8M1540.5 246.8V251.3M1541.5 251.3V253.6M1542.5 251.3V251.3M1543.5 251.3V253.6M1544.5 251.3V251.3M1545.5 249.1V253.6M1546.5 253.6V253.6M1547.5 251.3V253.6M1548.5 251.3V253.6M1549.5 249.1V251.3M1550.5 244.6V251.3M1551.5 235.6V244.6M1552.5 233.4V240.1M1553.5 235.6V240.1M1554.5 233.4V240.1M1555.5 231.1V240.1M1556.5 237.9V240.1M1557.5 237.9V240.1M1558.5 240.1V244.6M1559.5 242.4V244.6M1560.5 240.1V242.4M1561.5 240.1V244.6M1562.5 240.1V242.4M1563.5 242.4V249.1M1564.5 246.8V246.8M1565.5 246.8V249.1M1566.5 246.8V249.1M1567.5 246.8V253.6M1568.5 251.3V255.8M1569.5 253.6V255.8M1570.5 253.6V255.8M1571.5 251.3V253.6M1572.5 251.3V253.6M1573.5 246.8V251.3M1574.5 244.6V249.1M1575.5 237.9V249.1M1576.5 235.6V242.4M1577.5 231.1V237.9M1578.5 228.9V231.1M1579.5 228.9V233.4M1580.5 233.4V233.4M1581.5 231.1V233.4M1582.5 231.1V231.1M1583.5 231.1V233.4M1584.5 233.4V233.4M1585.5 233.4V233.4M1586.5 233.4V240.1M1587.5 237.9V240.1M1588.5 235.6V237.9M1589.5 235.6V235.6M1590.5 233.4V235.6M1591.5 235.6V237.9M1592.5 235.6V237.9M1593.5 233.4V235.6M1594.5 235.6V235.6M1595.5 233.4V235.6M1596.5 231.1V235.6M1597.5 231.1V235.6M1598.5 231.1V237.9M1599.5 233.4V237.9M1600.5 233.4V235.6M1601.5 235.6V235.6M1602.5 233.4V235.6M1603.5 233.4V233.4M1604.5 233.4V235.6M1605.5 233.4V235.6M1606.5 233.4V237.9M1607.5 233.4V237.9M1608.5 233.4V233.4M1609.5 233.4V235.6M1610.5 233.4V233.4M1611.5 228.9V233.4M1612.5 233.4V235.6M1613.5 231.1V235.6M1614.5 231.1V233.4M1615.5 231.1V231.1M1616.5 231.1V231.1M1617.5 226.6V231.1M1618.5 226.6V228.9M1619.5 226.6V226.6M1620.5 224.4V228.9M1621.5 222.2V226.6M1622.5 222.2V224.4M1623.5 224.4V224.4M1624.5 222.2V226.6M1625.5 224.4V231.1M1626.5 226.6V233.4M1627.5 226.6V231.1M1628.5 228.9V233.4M1629.5 228.9V231.1M1630.5 231.1V231.1M1631.5 231.1V235.6M1632.5 233.4V235.6M1633.5 231.1V242.4M1634.5 240.1V244.6M1635.5 240.1V244.6M1636.5 242.4V251.3M1637.5 249.1V251.3M1638.5 249.1V251.3M1639.5 251.3V251.3M1640.5 244.6V253.6M1641.5 244.6V249.1M1642.5 244.6V246.8M1643.5 246.8V249.1M1644.5 246.8V249.1M1645.5 244.6V246.8M1646.5 242.4V244.6M1647.5 242.4V242.4M1648.5 237.9V244.6M1649.5 237.9V237.9M1650.5 237.9V246.8M1651.5 242.4V244.6M1652.5 244.6V244.6M1653.5 242.4V244.6M1654.5 240.1V249.1M1655.5 246.8V249.1M1656.5 249.1V249.1M1657.5 249.1V253.6M1658.5 246.8V253.6M1659.5 244.6V253.6M1660.5 253.6V253.6M1661.5 251.3V253.6M1662.5 249.1V258.1M1663.5 249.1V251.3M1664.5 249.1V251.3M1665.5 249.1V258.1M1666.5 249.1V253.6M1667.5 249.1V255.8M1668.5 249.1V253.6M1669.5 249.1V249.1M1670.5 244.6V249.1M1671.5 242.4V244.6M1672.5 244.6V249.1M1673.5 244.6V249.1M1674.5 242.4V251.3M1675.5 246.8V249.1M1676.5 244.6V249.1M1677.5 249.1V253.6M1678.5 251.3V255.8M1679.5 251.3V255.8M1680.5 251.3V251.3M1681.5 251.3V253.6M1682.5 253.6V255.8M1683.5 251.3V253.6M1684.5 251.3V251.3M1685.5 251.3V251.3M1686.5 249.1V251.3M1687.5 249.1V249.1M1688.5 249.1V249.1M1689.5 249.1V251.3M1690.5 249.1V251.3M1691.5 249.1V249.1M1692.5 249.1V255.8M1693.5 253.6V255.8M1694.5 251.3V253.6M1695.5 253.6V253.6M1696.5 253.6V258.1M1697.5 255.8V260.3M1698.5 255.8V258.1M1699.5 251.3V255.8M1700.5 253.6V255.8M1701.5 253.6V255.8M1702.5 255.8V255.8M1703.5 255.8V255.8M1704.5 255.8V260.3M1705.5 258.1V258.1M1706.5 258.1V260.3M1707.5 258.1V262.5M1708.5 255.8V258.1M1709.5 255.8V258.1M1710.5 253.6V258.1M1711.5 253.6V260.3M1712.5 260.3V262.5M1713.5 258.1V260.3M1714.5 258.1V258.1M1715.5 258.1V258.1M1716.5 258.1V258.1M1717.5 255.8V258.1M1718.5 255.8V258.1M1719.5 253.6V255.8M1720.5 253.6V258.1M1721.5 253.6V255.8M1722.5 253.6V253.6M1723.5 253.6V253.6M1724.5 253.6V253.6M1725.5 251.3V253.6M1726.5 249.1V253.6M1727.5 249.1V253.6M1728.5 251.3V253.6M1729.5 251.3V255.8M1730.5 251.3V253.6M1731.5 244.6V251.3M1732.5 246.8V251.3M1733.5 246.8V251.3M1734.5 246.8V249.1M1735.5 246.8V251.3M1736.5 246.8V251.3M1737.5 249.1V249.1M1738.5 249.1V249.1M1739.5 246.8V249.1M1740.5 244.6V246.8M1741.5 244.6V249.1M1742.5 246.8V249.1M1743.5 249.1V249.1M1744.5 246.8V249.1M1745.5 246.8V249.1M1746.5 249.1V249.1M1747.5 246.8V249.1M1748.5 246.8V251.3M1749.5 244.6V249.1M1750.5 244.6V246.8M1751.5 246.8V249.1M1752.5 242.4V246.8M1753.5 240.1V244.6M1754.5 240.1V242.4M1755.5 240.1V244.6M1756.5 240.1V242.4M1757.5 240.1V242.4M1758.5 237.9V244.6M1759.5 237.9V242.4M1760.5 233.4V237.9M1761.5 235.6V237.9M1762.5 233.4V237.9M1763.5 233.4V233.4M1764.5 231.1V235.6M1765.5 233.4V237.9M1766.5 233.4V237.9M1767.5 235.6V235.6M1768.5 231.1V237.9M1769.5 233.4V235.6M1770.5 233.4V235.6M1771.5 233.4V235.6M1772.5 233.4V237.9M1773.5 231.1V235.6M1774.5 233.4V235.6M1775.5 231.1V233.4M1776.5 233.4V233.4M1777.5 231.1V233.4M1778.5 231.1V233.4M1779.5 231.1V237.9M1780.5 231.1V237.9M1781.5 228.9V231.1M1782.5 228.9V231.1M1783.5 228.9V231.1M1784.5 226.6V228.9M1785.5 224.4V228.9M1786.5 226.6V231.1M1787.5 228.9V228.9M1788.5 228.9V233.4M1789.5 233.4V235.6M1790.5 231.1V233.4M1791.5 231.1V235.6M1792.5 233.4V235.6M1793.5 235.6V240.1M1794.5 237.9V240.1M1795.5 237.9V240.1M1796.5 240.1V240.1M1797.5 237.9V242.4M1798.5 235.6V240.1M1799.5 235.6V237.9M1800.5 235.6V240.1M1801.5 235.6V240.1M1802.5 237.9V240.1M1803.5 235.6V240.1M1804.5 235.6V240.1M1805.5 231.1V240.1M1806.5 228.9V235.6M1807.5 231.1V233.4M1808.5 231.1V237.9M1809.5 231.1V237.9M1810.5 228.9V233.4M1811.5 226.6V233.4M1812.5 228.9V231.1M1813.5 228.9V233.4M1814.5 228.9V228.9M1815.5 226.6V233.4M1816.5 228.9V231.1M1817.5 226.6V228.9M1818.5 219.9V228.9M1819.5 215.4V224.4M1820.5 215.4V217.7M1821.5 213.2V217.7M1822.5 206.4V217.7M1823.5 202.0V206.4M1824.5 197.5V204.2M1825.5 195.2V197.5M1826.5 193.0V195.2M1827.5 193.0V195.2M1828.5 190.7V197.5M1829.5 190.7V199.7M1830.5 199.7V202.0M1831.5 197.5V202.0M1832.5 197.5V202.0M1833.5 197.5V202.0M1834.5 197.5V199.7M1835.5 193.0V199.7M1836.5 193.0V195.2M1837.5 195.2V195.2M1838.5 190.7V195.2M1839.5 184.0V190.7M1840.5 184.0V190.7M1841.5 184.0V190.7M1842.5 184.0V188.5M1843.5 186.3V186.3M1844.5 186.3V193.0M1845.5 188.5V195.2M1846.5 188.5V190.7M1847.5 186.3V195.2M1848.5 193.0V197.5M1849.5 195.2V197.5M1850.5 197.5V199.7M1851.5 195.2V197.5M1852.5 193.0V199.7" stroke="#000" stroke-width="1" fill="none"/>
<path d="M26.5 657.5h4v0.5h-4z" fill="#90EE90" stroke="#000" stroke-width="1"/>
<path d="M27.5 657.5h4v2.2h-4zM28.5 659.7h4v2.2h-4zM29.5 662.0h4v4.5h-4z" fill="#FF0000" stroke="#000" stroke-width="1"/>
<path d="M30.5 664.2h4v2.2h-4z" fill="#90EE90" stroke="#000" stroke-width="1"/>
<path d="M31.5 664.2h4v4.5h-4zM32.5 668.7h4v4.5h-4z" fill="#FF0000" stroke="#000" stroke-width="1"/>
<path d="M35.5 671.0h4v2.2h-4z" fill="#90EE90" stroke="#000" stroke-width="1"/>
<path d="M36.5 671.0h4v2.2h-4z" fill="#FF0000" stroke="#000" stroke-width="1"/>
<path d="M40.5 671.0h4v2.2h-4zM41.5 664.2h4v6.7h-4zM42.5 662.0h4v2.2h-4z" fill="#90EE90" stroke="#000" stroke-width="1"/>
<path d="M43.5 662.0h4v4.5h-4z" fill="#FF0000" stroke="#000" stroke-width="1"/>
<path d="M44.5 664.2h4v2.2h-4zM45.5 662.0h4v2.2h-4z" fill="#90EE90" stroke="#000" stroke-width="1"/>
<path d="M46.5 662.0h4v2.2h-4z" fill="#FF0000" stroke="#000" stroke-width="1"/>
<path d="M48.5 662.0h4v2.2h-4z" fill="#90EE90" stroke="#000" stroke-width="1"/>
<path d="M49.5 662.0h4v2.2h-4z" fill="#FF0000" stroke="#000" stroke-width="1"/>
<path d="M50.5 662.0h4v2.2h-4z" fill="#90EE90" stroke="#000" stroke-width="1"/>
<path d="M51.5 662.0h4v6.7h-4z" fill="#FF0000" stroke="#000" stroke-width="1"/>
<path d="M52.5 666.5h4v2.2h-4z" fill="#90EE90" stroke="#000" stroke-width="1"/>
<path d="M54.5 666.5h4v4.5h-4z" fill="#FF0000" stroke="#000" stroke-width="1"/>
<path d="M55.5 668.7h4v2.2h-4zM56.5 666.5h4v2.2h-4zM57.5 664.2h4v2.2h-4z" fill="#90EE90" stroke="#000" stroke-width="1"/>
<path d="M58.5 664.2h4v4.5h-4z" fill="#FF0000" stroke="#000" stroke-width="1"/>
<path d="M59.5 662.0h4v6.7h-4z" fill="#90EE90" stroke="#000" stroke-width="1"/>
<path d="M61.5 662.0h4v2.2h-4zM65.5 664.2h4v2.2h-4z" fill="#FF0000" stroke="#000" stroke-width="1"/>
<path d="M66.5 664.2h4v2.2h-4z" fill="#90EE90" stroke="#000" stroke-width="1"/>
<path d="M67.5 664.2h4v2.2h-4zM70.5 666.5h4v2.2h-4zM76.5 668.7h4v4.5h-4zM77.5 673.2h4v2.2h-4z" fill="#FF0000" stroke="#000" stroke-width="1"/>
<path d="M78.5 673.2h4v2.2h-4z" fill="#90EE90" stroke="#000" stroke-width="1"/>
<path d="M82.5 673.2h4v2.2h-4z" fill="#FF0000" stroke="#000" stroke-width="1"/>
<path d="M83.5 673.2h4v2.2h-4z" fill="#90EE90" stroke="#000" stroke-width="1"/>
<path d="M84.5 673.2h4v4.5h-4z" fill="#FF0000" stroke="#000" stroke-width="1"/>
<path d="M85.5 675.4h4v2.2h-4z" fill="#90EE90" stroke="#000" stroke-width="1"/>
<path d="M86.5 675.4h4v2.2h-4z" fill="#FF0000" stroke="#000" stroke-width="1"/>
<path d="M89.5 675.4h4v2.2h-4z" fill="#90EE90" stroke="#000" stroke-width="1"/>
<path d="M90.5 675.4h4v2.2h-4z" fill="#FF0000" stroke="#000" stroke-width="1"/>
<path d="M91.5 673.2h4v4.5h-4z" fill="#90EE90" stroke="#000" stroke-width="1"/>
<path d="M92.5 673.2h4v6.7h-4z" fill="#FF0000" stroke="#000" stroke-width="1"/>
<path d="M93.5 675.4h4v4.5h-4z" fill="#90EE90" stroke="#000" stroke-width="1"/>
<path d="M95.5 675.4h4v4.5h-4z" fill="#FF0000" stroke="#000" stroke-width="1"/>
<path d="M96.5 675.4h4v4.5h-4z" fill="#90EE90" stroke="#000" stroke-width="1"/>
<path d="M97.5 675.4h4v2.2h-4z" fill="#FF0000" stroke="#000" stroke-width="1"/>
<path d="M98.5 675.4h4v2.2h-4z" fill="#90EE90" stroke="#000" stroke-width="1"/>
<path d="M99.5 675.4h4v2.2h-4z" fill="#FF0000" stroke="#000" stroke-width="1"/>
<path d="M100.5 673.2h4v4.5h-4z" fill="#90EE90" stroke="#000" stroke-width="1"/>
<path d="M102.5 673.2h4v2.2h-4z" fill="#FF0000" stroke="#000" stroke-width="1"/>
<path d="M103.5 671.0h4v4.5h-4zM104.5 668.7h4v2.2h-4zM106.5 664.2h4v4.5h-4z" fill="#90EE90" stroke="#000" stroke-width="1"/>
<path d="M107.5 664.2h4v2.2h-4zM109.5 666.5h4v2.2h-4zM110.5 668.7h4v4.5h-4zM111.5 673.2h4v4.5h-4z" fill="#FF0000" stroke="#000" stroke-width="1"/>
<path d="M113.5 673.2h4v4.5h-4zM114.5 668.7h4v4.5h-4z" fill="#90EE90" stroke="#000" stroke-width="1"/>
<path d="M115.5 668.7h4v2.2h-4z" fill="#FF0000" stroke="#000" stroke-width="1"/>
<path d="M116.5 668.7h4v2.2h-4zM117.5 666.5h4v2.2h-4zM118.5 664.2h4v2.2h-4z" fill="#90EE90" stroke="#000" stroke-width="1"/>
<path d="M119.5 664.2h4v2.2h-4zM120.5 666.5h4v2.2h-4z" fill="#FF0000" stroke="#000" stroke-width="1"/>
<path d="M121.5 666.5h4v2.2h-4z" fill="#90EE90" stroke="#000" stroke-width="1"/>
<path d="M123.5 666.5h4v2.2h-4zM125.5 668.7h4v2.2h-4zM127.5 671.0h4v4.5h-4zM128.5 675.4h4v2.2h-4z" fill="#FF0000" stroke="#000" stroke-width="1"/>
<path d="M129.5 675.4h4v2.2h-4zM133.5 673.2h4v2.2h-4z" fill="#90EE90" stroke="#000" stroke-width="1"/>
<path d="M134.5 673.2h4v2.2h-4z" fill="#FF0000" stroke="#000" stroke-width="1"/>
<path d="M135.5 673.2h4v2.2h-4z" fill="#90EE90" stroke="#000" stroke-width="1"/>
<path d="M136.5 673.2h4v2.2h-4zM137.5 675.4h4v2.2h-4zM139.5 677.7h4v6.7h-4zM140.5 684.4h4v11.2h-4z" fill="#FF0000" stroke="#000" stroke-width="1"/>
<path d="M141.5 693.4h4v2.2h-4z" fill="#90EE90" stroke="#000" stroke-width="1"/>
<path d="M142.5 693.4h4v4.5h-4z" fill="#FF0000" stroke="#000" stroke-width="1"/>
<path d="M143.5 693.4h4v4.5h-4z" fill="#90EE90" stroke="#000" stroke-width="1"/>
<path d="M144.5 693.4h4v2.2h-4z" fill="#FF0000" stroke="#000" stroke-width="1"/>
<path d="M145.5 693.4h4v2.2h-4z" fill="#90EE90" stroke="#000" stroke-width="1"/>
<path d="M147.5 693.4h4v2.2h-4z" fill="#FF0000" stroke="#000" stroke-width="1"/>
<path d="M148.5 693.4h4v2.2h-4zM149.5 691.2h4v2.2h-4zM152.5 688.9h4v2.2h-4z" fill="#90EE90" stroke="#000" stroke-width="1"/>
<path d="M153.5 688.9h4v4.5h-4z" fill="#FF0000" stroke="#000" stroke-width="1"/>
<path d="M154.5 688.9h4v4.5h-4zM156.5 684.4h4v4.5h-4zM157.5 679.9h4v4.5h-4zM158.5 675.4h4v4.5h-4z" fill="#90EE90" stroke="#000" stroke-width="1"/>
<path d="M159.5 675.4h4v2.2h-4zM160.5 677.7h4v2.2h-4zM161.5 679.9h4v6.7h-4z" fill="#FF0000" stroke="#000" stroke-width="1"/>
<path d="M162.5 684.4h4v2.2h-4z" fill="#90EE90" stroke="#000" stroke-width="1"/>
<path d="M163.5 684.4h4v2.2h-4zM164.5 686.7h4v4.5h-4zM167.5 691.2h4v2.2h-4zM168.5 693.4h4v2.2h-4zM169.5 695.6h4v2.2h-4zM170.5 697.9h4v2.2h-4z" fill="#FF0000" stroke="#000" stroke-width="1"/>
<path d="M171.5 697.9h4v2.2h-4z" fill="#90EE90" stroke="#000" stroke-width="1"/>
<path d="M172.5 697.9h4v4.5h-4z" fill="#FF0000" stroke="#000" stroke-width="1"/>
<path d="M173.5 700.1h4v2.2h-4z" fill="#90EE90" stroke="#000" stroke-width="1"/>
<path d="M174.5 700.1h4v4.5h-4z" fill="#FF0000" stroke="#000" stroke-width="1"/>
<path d="M175.5 702.4h4v2.2h-4z" fill="#90EE90" stroke="#000" stroke-width="1"/>
<path d="M178.5 702.4h4v2.2h-4z" fill="#FF0000" stroke="#000" stroke-width="1"/>
<path d="M180.5 702.4h4v2.2h-4z" fill="#90EE90" stroke="#000" stroke-width="1"/>
<path d="M181.5 702.4h4v4.5h-4zM184.5 706.9h4v2.2h-4zM185.5 709.1h4v2.2h-4z" fill="#FF0000" stroke="#000" stroke-width="1"/>
<path d="M188.5 706.9h4v4.5h-4zM189.5 704.6h4v2.2h-4zM190.5 702.4h4v2.2h-4zM191.5 700.1h4v2.2h-4zM193.5 695.6h4v4.5h-4z" fill="#90EE90" stroke="#000" stroke-width="1"/>
<path d="M195.5 695.6h4v2.2h-4z" fill="#FF0000" stroke="#000" stroke-width="1"/>
<path d="M197.5 695.6h4v2.2h-4z" fill="#90EE90" stroke="#000" stroke-width="1"/>
<path d="M200.5 695.6h4v2.2h-4zM204.5 697.9h4v4.5h-4z" fill="#FF0000" stroke="#000" stroke-width="1"/>
<path d="M205.5 700.1h4v2.2h-4zM210.5 697.9h4v2.2h-4z" fill="#90EE90" stroke="#000" stroke-width="1"/>
<path d="M211.5 697.9h4v2.2h-4z" fill="#FF0000" stroke="#000" stroke-width="1"/>
<path d="M213.5 697.9h4v2.2h-4z" fill="#90EE90" stroke="#000" stroke-width="1"/>
<path d="M217.5 697.9h4v2.2h-4z" fill="#FF0000" stroke="#000" stroke-width="1"/>
<path d="M218.5 697.9h4v2.2h-4z" fill="#90EE90" stroke="#000" stroke-width="1"/>
<path d="M221.5 697.9h4v2.2h-4z" fill="#FF0000" stroke="#000" stroke-width="1"/>
<path d="M222.5 697.9h4v2.2h-4zM223.5 695.6h4v2.2h-4z" fill="#90EE90" stroke="#000" stroke-width="1"/>
<path d="M224.5 695.6h4v2.2h-4z" fill="#FF0000" stroke="#000" stroke-width="1"/>
<path d="M228.5 695.6h4v2.2h-4z" fill="#90EE90" stroke="#000" stroke-width="1"/>
<path d="M229.5 695.6h4v2.2h-4zM230.5 697.9h4v2.2h-4z" fill="#FF0000" stroke="#000" stroke-width="1"/>
<path d="M231.5 693.4h4v6.7h-4z" fill="#90EE90" stroke="#000" stroke-width="1"/>
<path d="M232.5 693.4h4v6.7h-4zM234.5 700.1h4v2.2h-4z" fill="#FF0000" stroke="#000" stroke-width="1"/>
<path d="M235.5 697.9h4v4.5h-4z" fill="#90EE90" stroke="#000" stroke-width="1"/>
<path d="M236.5 697.9h4v4.5h-4z" fill="#FF0000" stroke="#000" stroke-width="1"/>
<path d="M238.5 700.1h4v2.2h-4z" fill="#90EE90" stroke="#000" stroke-width="1"/>
<path d="M239.5 700.1h4v2.2h-4zM240.5 702.4h4v2.2h-4zM241.5 704.6h4v2.2h-4zM242.5 706.9h4v2.2h-4z" fill="#FF0000" stroke="#000" stroke-width="1"/>
<path d="M243.5 706.9h4v2.2h-4z" fill="#90EE90" stroke="#000" stroke-width="1"/>
<path d="M245.5 706.9h4v4.5h-4zM247.5 711.3h4v2.2h-4z" fill="#FF0000" stroke="#000" stroke-width="1"/>
<path d="M248.5 711.3h4v2.2h-4zM249.5 709.1h4v2.2h-4z" fill="#90EE90" stroke="#000" stroke-width="1"/>
<path d="M250.5 709.1h4v2.2h-4z" fill="#FF0000" stroke="#000" stroke-width="1"/>
<path d="M252.5 709.1h4v2.2h-4zM256.5 706.9h4v2.2h-4zM257.5 697.9h4v9.0h-4zM258.5 695.6h4v2.2h-4z" fill="#90EE90" stroke="#000" stroke-width="1"/>
<path d="M259.5 695.6h4v2.2h-4z" fill="#FF0000" stroke="#000" stroke-width="1"/>
<path d="M260.5 695.6h4v2.2h-4zM266.5 693.4h4v2.2h-4zM267.5 691.2h4v2.2h-4zM268.5 686.7h4v4.5h-4z" fill="#90EE90" stroke="#000" stroke-width="1"/>
<path d="M269.5 686.7h4v2.2h-4z" fill="#FF0000" stroke="#000" stroke-width="1"/>
<path d="M270.5 686.7h4v2.2h-4zM273.5 684.4h4v2.2h-4z" fill="#90EE90" stroke="#000" stroke-width="1"/>
<path d="M274.5 684.4h4v2.2h-4z" fill="#FF0000" stroke="#000" stroke-width="1"/>
<path d="M276.5 684.4h4v2.2h-4zM277.5 682.2h4v2.2h-4zM278.5 677.7h4v4.5h-4z" fill="#90EE90" stroke="#000" stroke-width="1"/>
<path d="M279.5 677.7h4v4.5h-4zM282.5 682.2h4v6.7h-4z" fill="#FF0000" stroke="#000" stroke-width="1"/>
<path d="M285.5 686.7h4v2.2h-4zM287.5 684.4h4v2.2h-4zM291.5 682.2h4v2.2h-4z" fill="#90EE90" stroke="#000" stroke-width="1"/>
<path d="M295.5 682.2h4v2.2h-4z" fill="#FF0000" stroke="#000" stroke-width="1"/>
<path d="M296.5 679.9h4v4.5h-4z" fill="#90EE90" stroke="#000" stroke-width="1"/>
<path d="M297.5 679.9h4v2.2h-4zM298.5 682.2h4v2.2h-4zM299.5 684.4h4v4.5h-4z" fill="#FF0000" stroke="#000" stroke-width="1"/>
<path d="M300.5 686.7h4v2.2h-4z" fill="#90EE90" stroke="#000" stroke-width="1"/>
<path d="M301.5 686.7h4v2.2h-4z" fill="#FF0000" stroke="#000" stroke-width="1"/>
<path d="M303.5 684.4h4v4.5h-4z" fill="#90EE90" stroke="#000" stroke-width="1"/>
<path d="M304.5 684.4h4v2.2h-4z" fill="#FF0000" stroke="#000" stroke-width="1"/>
<path d="M306.5 684.4h4v2.2h-4z" fill="#90EE90" stroke="#000" stroke-width="1"/>
<path d="M308.5 684.4h4v2.2h-4z" fill="#FF0000" stroke="#000" stroke-width="1"/>
<path d="M309.5 682.2h4v4.5h-4z" fill="#90EE90" stroke="#000" stroke-width="1"/>
<path d="M310.5 682.2h4v2.2h-4z" fill="#FF0000" stroke="#000" stroke-width="1"/>
<path d="M311.5 682.2h4v2.2h-4z" fill="#90EE90" stroke="#000" stroke-width="1"/>
<path d="M312.5 682.2h4v2.2h-4z" fill="#FF0000" stroke="#000" stroke-width="1"/>
<path d="M313.5 682.2h4v2.2h-4zM314.5 677.7h4v4.5h-4zM315.5 675.4h4v2.2h-4z" fill="#90EE90" stroke="#000" stroke-width="1"/>
<path d="M316.5 675.4h4v2.2h-4zM317.5 677.7h4v4.5h-4zM320.5 682.2h4v2.2h-4zM321.5 684.4h4v4.5h-4zM324.5 688.9h4v2.2h-4z" fill="#FF0000" stroke="#000" stroke-width="1"/>
<path d="M325.5 686.7h4v4.5h-4z" fill="#90EE90" stroke="#000" stroke-width="1"/>
<path d="M328.5 686.7h4v2.2h-4z" fill="#FF0000" stroke="#000" stroke-width="1"/>
<path d="M329.5 682.2h4v6.7h-4zM330.5 677.7h4v4.5h-4zM331.5 675.4h4v2.2h-4z" fill="#90EE90" stroke="#000" stroke-width="1"/>
<path d="M333.5 675.4h4v4.5h-4z" fill="#FF0000" stroke="#000" stroke-width="1"/>
<path d="M334.5 677.7h4v2.2h-4z" fill="#90EE90" stroke="#000" stroke-width="1"/>
<path d="M336.5 677.7h4v2.2h-4z" fill="#FF0000" stroke="#000" stroke-width="1"/>
<path d="M337.5 677.7h4v2.2h-4z" fill="#90EE90" stroke="#000" stroke-width="1"/>
<path d="M339.5 677.7h4v2.2h-4zM340.5 679.9h4v2.2h-4z" fill="#FF0000" stroke="#000" stroke-width="1"/>
<path d="M343.5 679.9h4v2.2h-4zM344.5 677.7h4v2.2h-4zM345.5 675.4h4v2.2h-4z" fill="#90EE90" stroke="#000" stroke-width="1"/>
<path d="M346.5 675.4h4v2.2h-4z" fill="#FF0000" stroke="#000" stroke-width="1"/>
<path d="M347.5 675.4h4v2.2h-4z" fill="#90EE90" stroke="#000" stroke-width="1"/>
<path d="M348.5 675.4h4v4.5h-4z" fill="#FF0000" stroke="#000" stroke-width="1"/>
<path d="M349.5 677.7h4v2.2h-4z" fill="#90EE90" stroke="#000" stroke-width="1"/>
<path d="M350.5 677.7h4v2.2h-4zM354.5 679.9h4v4.5h-4zM355.5 684.4h4v2.2h-4z" fill="#FF0000" stroke="#000" stroke-width="1"/>
<path d="M356.5 684.4h4v2.2h-4z" fill="#90EE90" stroke="#000" stroke-width="1"/>
<path d="M357.5 684.4h4v2.2h-4zM358.5 686.7h4v4.5h-4zM359.5 691.2h4v2.2h-4zM360.5 693.4h4v2.2h-4zM362.5 695.6h4v4.5h-4zM363.5 700.1h4v4.5h-4z" fill="#FF0000" stroke="#000" stroke-width="1"/>
<path d="M364.5 700.1h4v4.5h-4z" fill="#90EE90" stroke="#000" stroke-width="1"/>
<path d="M365.5 700.1h4v4.5h-4z" fill="#FF0000" stroke="#000" stroke-width="1"/>
<path d="M366.5 702.4h4v2.2h-4z" fill="#90EE90" stroke="#000" stroke-width="1"/>
<path d="M367.5 702.4h4v4.5h-4z" fill="#FF0000" stroke="#000" stroke-width="1"/>
<path d="M370.5 704.6h4v2.2h-4z" fill="#90EE90" stroke="#000" stroke-width="1"/>
<path d="M372.5 704.6h4v2.2h-4z" fill="#FF0000" stroke="#000" stroke-width="1"/>
<path d="M373.5 704.6h4v2.2h-4z" fill="#90EE90" stroke="#000" stroke-width="1"/>
<path d="M375.5 704.6h4v4.5h-4z" fill="#FF0000" stroke="#000" stroke-width="1"/>
<path d="M376.5 704.6h4v4.5h-4z" fill="#90EE90" stroke="#000" stroke-width="1"/>
<path d="M377.5 704.6h4v2.2h-4z" fill="#FF0000" stroke="#000" stroke-width="1"/>
<path d="M378.5 704.6h4v2.2h-4zM380.5 702.4h4v2.2h-4z" fill="#90EE90" stroke="#000" stroke-width="1"/>
<path d="M381.5 702.4h4v2.2h-4z" fill="#FF0000" stroke="#000" stroke-width="1"/>
<path d="M382.5 700.1h4v4.5h-4zM384.5 695.6h4v4.5h-4z" fill="#90EE90" stroke="#000" stroke-width="1"/>
<path d="M385.5 695.6h4v2.2h-4z" fill="#FF0000" stroke="#000" stroke-width="1"/>
<path d="M387.5 695.6h4v2.2h-4zM388.5 686.7h4v9.0h-4z" fill="#90EE90" stroke="#000" stroke-width="1"/>
<path d="M390.5 686.7h4v2.2h-4z" fill="#FF0000" stroke="#000" stroke-width="1"/>
<path d="M391.5 686.7h4v2.2h-4z" fill="#90EE90" stroke="#000" stroke-width="1"/>
<path d="M392.5 686.7h4v2.2h-4zM397.5 688.9h4v2.2h-4z" fill="#FF0000" stroke="#000" stroke-width="1"/>
<path d="M399.5 688.9h4v2.2h-4z" fill="#90EE90" stroke="#000" stroke-width="1"/>
<path d="M400.5 688.9h4v2.2h-4zM401.5 691.2h4v4.5h-4z" fill="#FF0000" stroke="#000" stroke-width="1"/>
<path d="M402.5 693.4h4v2.2h-4zM403.5 691.2h4v2.2h-4z" fill="#90EE90" stroke="#000" stroke-width="1"/>
<path d="M404.5 691.2h4v4.5h-4z" fill="#FF0000" stroke="#000" stroke-width="1"/>
<path d="M405.5 686.7h4v9.0h-4z" fill="#90EE90" stroke="#000" stroke-width="1"/>
<path d="M406.5 686.7h4v2.2h-4zM407.5 688.9h4v2.2h-4z" fill="#FF0000" stroke="#000" stroke-width="1"/>
<path d="M408.5 688.9h4v2.2h-4zM413.5 684.4h4v4.5h-4z" fill="#90EE90" stroke="#000" stroke-width="1"/>
<path d="M414.5 684.4h4v2.2h-4z" fill="#FF0000" stroke="#000" stroke-width="1"/>
<path d="M415.5 682.2h4v4.5h-4zM420.5 679.9h4v2.2h-4zM422.5 677.7h4v2.2h-4z" fill="#90EE90" stroke="#000" stroke-width="1"/>
<path d="M424.5 677.7h4v2.2h-4z" fill="#FF0000" stroke="#000" stroke-width="1"/>
<path d="M425.5 677.7h4v2.2h-4z" fill="#90EE90" stroke="#000" stroke-width="1"/>
<path d="M426.5 677.7h4v4.5h-4z" fill="#FF0000" stroke="#000" stroke-width="1"/>
<path d="M427.5 677.7h4v4.5h-4z" fill="#90EE90" stroke="#000" stroke-width="1"/>
<path d="M428.5 677.7h4v2.2h-4z" fill="#FF0000" stroke="#000" stroke-width="1"/>
<path d="M429.5 677.7h4v2.2h-4z" fill="#90EE90" stroke="#000" stroke-width="1"/>
<path d="M431.5 677.7h4v2.2h-4zM434.5 679.9h4v4.5h-4z" fill="#FF0000" stroke="#000" stroke-width="1"/>
<path d="M435.5 682.2h4v2.2h-4z" fill="#90EE90" stroke="#000" stroke-width="1"/>
<path d="M436.5 682.2h4v2.2h-4zM437.5 684.4h4v2.2h-4zM439.5 686.7h4v2.2h-4zM442.5 688.9h4v2.2h-4zM443.5 691.2h4v2.2h-4zM444.5 693.4h4v2.2h-4zM445.5 695.6h4v4.5h-4z" fill="#FF0000" stroke="#000" stroke-width="1"/>
<path d="M446.5 697.9h4v2.2h-4z" fill="#90EE90" stroke="#000" stroke-width="1"/>
<path d="M447.5 697.9h4v4.5h-4zM448.5 702.4h4v2.2h-4z" fill="#FF0000" stroke="#000" stroke-width="1"/>
<path d="M449.5 702.4h4v2.2h-4z" fill="#90EE90" stroke="#000" stroke-width="1"/>
<path d="M450.5 702.4h4v2.2h-4z" fill="#FF0000" stroke="#000" stroke-width="1"/>
<path d="M452.5 700.1h4v4.5h-4z" fill="#90EE90" stroke="#000" stroke-width="1"/>
<path d="M453.5 700.1h4v2.2h-4z" fill="#FF0000" stroke="#000" stroke-width="1"/>
<path d="M456.5 700.1h4v2.2h-4zM457.5 697.9h4v2.2h-4zM458.5 695.6h4v2.2h-4zM459.5 691.2h4v4.5h-4z" fill="#90EE90" stroke="#000" stroke-width="1"/>
<path d="M461.5 691.2h4v2.2h-4z" fill="#FF0000" stroke="#000" stroke-width="1"/>
<path d="M463.5 691.2h4v2.2h-4z" fill="#90EE90" stroke="#000" stroke-width="1"/>
<path d="M464.5 691.2h4v2.2h-4z" fill="#FF0000" stroke="#000" stroke-width="1"/>
<path d="M465.5 688.9h4v4.5h-4zM468.5 686.7h4v2.2h-4zM469.5 684.4h4v2.2h-4z" fill="#90EE90" stroke="#000" stroke-width="1"/>
<path d="M470.5 684.4h4v4.5h-4z" fill="#FF0000" stroke="#000" stroke-width="1"/>
<path d="M471.5 684.4h4v4.5h-4zM472.5 682.2h4v2.2h-4zM475.5 679.9h4v2.2h-4z" fill="#90EE90" stroke="#000" stroke-width="1"/>
<path d="M476.5 679.9h4v2.2h-4zM477.5 682.2h4v2.2h-4zM478.5 684.4h4v4.5h-4zM479.5 688.9h4v2.2h-4zM480.5 691.2h4v4.5h-4zM483.5 695.6h4v2.2h-4z" fill="#FF0000" stroke="#000" stroke-width="1"/>
<path d="M484.5 693.4h4v4.5h-4zM485.5 688.9h4v4.5h-4zM487.5 682.2h4v6.7h-4zM488.5 679.9h4v2.2h-4zM490.5 673.2h4v6.7h-4z" fill="#90EE90" stroke="#000" stroke-width="1"/>
<path d="M492.5 673.2h4v2.2h-4z" fill="#FF0000" stroke="#000" stroke-width="1"/>
<path d="M494.5 671.0h4v4.5h-4z" fill="#90EE90" stroke="#000" stroke-width="1"/>
<path d="M495.5 671.0h4v2.2h-4zM496.5 673.2h4v2.2h-4z" fill="#FF0000" stroke="#000" stroke-width="1"/>
<path d="M497.5 668.7h4v6.7h-4zM498.5 666.5h4v2.2h-4z" fill="#90EE90" stroke="#000" stroke-width="1"/>
<path d="M500.5 666.5h4v2.2h-4z" fill="#FF0000" stroke="#000" stroke-width="1"/>
<path d="M501.5 666.5h4v2.2h-4zM502.5 664.2h4v2.2h-4zM504.5 657.5h4v6.7h-4zM506.5 655.2h4v2.2h-4zM507.5 653.0h4v2.2h-4zM508.5 646.3h4v6.7h-4z" fill="#90EE90" stroke="#000" stroke-width="1"/>
<path d="M509.5 646.3h4v2.2h-4z" fill="#FF0000" stroke="#000" stroke-width="1"/>
<path d="M510.5 641.8h4v6.7h-4zM511.5 639.5h4v2.2h-4z" fill="#90EE90" stroke="#000" stroke-width="1"/>
<path d="M512.5 639.5h4v2.2h-4z" fill="#FF0000" stroke="#000" stroke-width="1"/>
<path d="M513.5 635.1h4v6.7h-4zM515.5 630.6h4v4.5h-4z" fill="#90EE90" stroke="#000" stroke-width="1"/>
<path d="M516.5 630.6h4v2.2h-4zM519.5 632.8h4v4.5h-4z" fill="#FF0000" stroke="#000" stroke-width="1"/>
<path d="M520.5 630.6h4v6.7h-4z" fill="#90EE90" stroke="#000" stroke-width="1"/>
<path d="M522.5 630.6h4v4.5h-4z" fill="#FF0000" stroke="#000" stroke-width="1"/>
<path d="M523.5 628.3h4v6.7h-4z" fill="#90EE90" stroke="#000" stroke-width="1"/>
<path d="M524.5 628.3h4v4.5h-4zM525.5 632.8h4v4.5h-4zM526.5 637.3h4v4.5h-4zM527.5 641.8h4v4.5h-4zM529.5 646.3h4v2.2h-4zM530.5 648.5h4v2.2h-4zM532.5 650.8h4v2.2h-4zM533.5 653.0h4v2.2h-4zM536.5 655.2h4v2.2h-4zM537.5 657.5h4v2.2h-4zM538.5 659.7h4v2.2h-4zM540.5 662.0h4v4.5h-4zM541.5 666.5h4v6.7h-4z" fill="#FF0000" stroke="#000" stroke-width="1"/>
<path d="M542.5 666.5h4v6.7h-4z" fill="#90EE90" stroke="#000" stroke-width="1"/>
<path d="M543.5 666.5h4v2.2h-4z" fill="#FF0000" stroke="#000" stroke-width="1"/>
<path d="M544.5 664.2h4v4.5h-4z" fill="#90EE90" stroke="#000" stroke-width="1"/>
<path d="M545.5 664.2h4v6.7h-4z" fill="#FF0000" stroke="#000" stroke-width="1"/>
<path d="M547.5 664.2h4v6.7h-4z" fill="#90EE90" stroke="#000" stroke-width="1"/>
<path d="M548.5 664.2h4v4.5h-4zM549.5 668.7h4v9.0h-4zM551.5 677.7h4v6.7h-4z" fill="#FF0000" stroke="#000" stroke-width="1"/>
<path d="M552.5 682.2h4v2.2h-4zM553.5 679.9h4v2.2h-4z" fill="#90EE90" stroke="#000" stroke-width="1"/>
<path d="M554.5 679.9h4v2.2h-4zM555.5 682.2h4v6.7h-4z" fill="#FF0000" stroke="#000" stroke-width="1"/>
<path d="M556.5 684.4h4v4.5h-4zM557.5 682.2h4v2.2h-4zM558.5 677.7h4v4.5h-4z" fill="#90EE90" stroke="#000" stroke-width="1"/>
<path d="M560.5 677.7h4v4.5h-4zM561.5 682.2h4v2.2h-4z" fill="#FF0000" stroke="#000" stroke-width="1"/>
<path d="M564.5 682.2h4v2.2h-4zM565.5 677.7h4v4.5h-4zM566.5 675.4h4v2.2h-4zM567.5 673.2h4v2.2h-4zM568.5 659.7h4v13.5h-4zM569.5 653.0h4v6.7h-4zM570.5 650.8h4v2.2h-4zM573.5 646.3h4v4.5h-4z" fill="#90EE90" stroke="#000" stroke-width="1"/>
<path d="M574.5 646.3h4v6.7h-4zM577.5 653.0h4v4.5h-4zM580.5 657.5h4v2.2h-4zM581.5 659.7h4v2.2h-4zM582.5 662.0h4v2.2h-4zM583.5 664.2h4v4.5h-4z" fill="#FF0000" stroke="#000" stroke-width="1"/>
<path d="M584.5 666.5h4v2.2h-4z" fill="#90EE90" stroke="#000" stroke-width="1"/>
<path d="M585.5 666.5h4v2.2h-4z" fill="#FF0000" stroke="#000" stroke-width="1"/>
<path d="M587.5 664.2h4v4.5h-4zM589.5 659.7h4v4.5h-4zM591.5 657.5h4v2.2h-4zM593.5 653.0h4v4.5h-4zM594.5 650.8h4v2.2h-4z" fill="#90EE90" stroke="#000" stroke-width="1"/>
<path d="M596.5 650.8h4v6.7h-4zM597.5 657.5h4v2.2h-4zM598.5 659.7h4v2.2h-4zM600.5 662.0h4v2.2h-4zM601.5 664.2h4v9.0h-4z" fill="#FF0000" stroke="#000" stroke-width="1"/>
<path d="M602.5 668.7h4v4.5h-4zM603.5 664.2h4v4.5h-4z" fill="#90EE90" stroke="#000" stroke-width="1"/>
<path d="M604.5 664.2h4v2.2h-4z" fill="#FF0000" stroke="#000" stroke-width="1"/>
<path d="M605.5 662.0h4v4.5h-4zM606.5 659.7h4v2.2h-4zM607.5 653.0h4v6.7h-4zM608.5 650.8h4v2.2h-4zM609.5 641.8h4v9.0h-4z" fill="#90EE90" stroke="#000" stroke-width="1"/>
<path d="M610.5 641.8h4v2.2h-4z" fill="#FF0000" stroke="#000" stroke-width="1"/>
<path d="M611.5 641.8h4v2.2h-4z" fill="#90EE90" stroke="#000" stroke-width="1"/>
<path d="M612.5 641.8h4v2.2h-4zM613.5 644.0h4v2.2h-4zM614.5 646.3h4v2.2h-4zM615.5 648.5h4v2.2h-4z" fill="#FF0000" stroke="#000" stroke-width="1"/>
<path d="M616.5 646.3h4v4.5h-4z" fill="#90EE90" stroke="#000" stroke-width="1"/>
<path d="M619.5 646.3h4v2.2h-4z" fill="#FF0000" stroke="#000" stroke-width="1"/>
<path d="M620.5 639.5h4v9.0h-4zM621.5 630.6h4v9.0h-4zM622.5 628.3h4v2.2h-4zM624.5 619.3h4v9.0h-4z" fill="#90EE90" stroke="#000" stroke-width="1"/>
<path d="M625.5 619.3h4v2.2h-4z" fill="#FF0000" stroke="#000" stroke-width="1"/>
<path d="M627.5 619.3h4v2.2h-4z" fill="#90EE90" stroke="#000" stroke-width="1"/>
<path d="M630.5 619.3h4v4.5h-4z" fill="#FF0000" stroke="#000" stroke-width="1"/>
<path d="M631.5 619.3h4v4.5h-4z" fill="#90EE90" stroke="#000" stroke-width="1"/>
<path d="M632.5 619.3h4v4.5h-4zM633.5 623.8h4v2.2h-4z" fill="#FF0000" stroke="#000" stroke-width="1"/>
<path d="M634.5 623.8h4v2.2h-4z" fill="#90EE90" stroke="#000" stroke-width="1"/>
<path d="M635.5 623.8h4v6.7h-4zM636.5 630.6h4v2.2h-4z" fill="#FF0000" stroke="#000" stroke-width="1"/>
<path d="M637.5 630.6h4v2.2h-4z" fill="#90EE90" stroke="#000" stroke-width="1"/>
<path d="M638.5 630.6h4v2.2h-4z" fill="#FF0000" stroke="#000" stroke-width="1"/>
<path d="M641.5 626.1h4v6.7h-4zM642.5 623.8h4v2.2h-4z" fill="#90EE90" stroke="#000" stroke-width="1"/>
<path d="M646.5 623.8h4v2.2h-4zM647.5 626.1h4v2.2h-4zM649.5 628.3h4v4.5h-4z" fill="#FF0000" stroke="#000" stroke-width="1"/>
<path d="M650.5 630.6h4v2.2h-4z" fill="#90EE90" stroke="#000" stroke-width="1"/>
<path d="M652.5 630.6h4v2.2h-4zM653.5 632.8h4v2.2h-4zM656.5 635.1h4v2.2h-4z" fill="#FF0000" stroke="#000" stroke-width="1"/>
<path d="M658.5 630.6h4v6.7h-4z" fill="#90EE90" stroke="#000" stroke-width="1"/>
<path d="M659.5 630.6h4v2.2h-4z" fill="#FF0000" stroke="#000" stroke-width="1"/>
<path d="M660.5 630.6h4v2.2h-4z" fill="#90EE90" stroke="#000" stroke-width="1"/>
<path d="M662.5 630.6h4v2.2h-4zM664.5 632.8h4v2.2h-4zM667.5 635.1h4v2.2h-4z" fill="#FF0000" stroke="#000" stroke-width="1"/>
<path d="M668.5 632.8h4v4.5h-4zM669.5 630.6h4v2.2h-4z" fill="#90EE90" stroke="#000" stroke-width="1"/>
<path d="M670.5 630.6h4v2.2h-4z" fill="#FF0000" stroke="#000" stroke-width="1"/>
<path d="M671.5 630.6h4v2.2h-4zM672.5 628.3h4v2.2h-4z" fill="#90EE90" stroke="#000" stroke-width="1"/>
<path d="M673.5 628.3h4v6.7h-4zM674.5 635.1h4v4.5h-4zM675.5 639.5h4v4.5h-4z" fill="#FF0000" stroke="#000" stroke-width="1"/>
<path d="M676.5 641.8h4v2.2h-4z" fill="#90EE90" stroke="#000" stroke-width="1"/>
<path d="M678.5 641.8h4v2.2h-4zM679.5 644.0h4v2.2h-4z" fill="#FF0000" stroke="#000" stroke-width="1"/>
<path d="M680.5 644.0h4v2.2h-4z" fill="#90EE90" stroke="#000" stroke-width="1"/>
<path d="M682.5 644.0h4v2.2h-4z" fill="#FF0000" stroke="#000" stroke-width="1"/>
<path d="M683.5 641.8h4v4.5h-4zM684.5 639.5h4v2.2h-4z" fill="#90EE90" stroke="#000" stroke-width="1"/>
<path d="M686.5 639.5h4v2.2h-4zM687.5 641.8h4v2.2h-4zM688.5 644.0h4v4.5h-4z" fill="#FF0000" stroke="#000" stroke-width="1"/>
<path d="M689.5 641.8h4v6.7h-4z" fill="#90EE90" stroke="#000" stroke-width="1"/>
<path d="M690.5 641.8h4v4.5h-4z" fill="#FF0000" stroke="#000" stroke-width="1"/>
<path d="M692.5 644.0h4v2.2h-4z" fill="#90EE90" stroke="#000" stroke-width="1"/>
<path d="M693.5 644.0h4v6.7h-4z" fill="#FF0000" stroke="#000" stroke-width="1"/>
<path d="M694.5 648.5h4v2.2h-4z" fill="#90EE90" stroke="#000" stroke-width="1"/>
<path d="M695.5 648.5h4v2.2h-4z" fill="#FF0000" stroke="#000" stroke-width="1"/>
<path d="M696.5 644.0h4v6.7h-4zM698.5 637.3h4v6.7h-4zM699.5 630.6h4v6.7h-4zM700.5 621.6h4v9.0h-4z" fill="#90EE90" stroke="#000" stroke-width="1"/>
<path d="M701.5 621.6h4v2.2h-4z" fill="#FF0000" stroke="#000" stroke-width="1"/>
<path d="M702.5 617.1h4v6.7h-4z" fill="#90EE90" stroke="#000" stroke-width="1"/>
<path d="M703.5 617.1h4v4.5h-4z" fill="#FF0000" stroke="#000" stroke-width="1"/>
<path d="M704.5 619.3h4v2.2h-4zM705.5 617.1h4v2.2h-4z" fill="#90EE90" stroke="#000" stroke-width="1"/>
<path d="M706.5 617.1h4v6.7h-4z" fill="#FF0000" stroke="#000" stroke-width="1"/>
<path d="M707.5 621.6h4v2.2h-4z" fill="#90EE90" stroke="#000" stroke-width="1"/>
<path d="M709.5 621.6h4v2.2h-4zM710.5 623.8h4v4.5h-4z" fill="#FF0000" stroke="#000" stroke-width="1"/>
<path d="M711.5 623.8h4v4.5h-4zM713.5 619.3h4v4.5h-4z" fill="#90EE90" stroke="#000" stroke-width="1"/>
<path d="M714.5 619.3h4v4.5h-4z" fill="#FF0000" stroke="#000" stroke-width="1"/>
<path d="M715.5 619.3h4v4.5h-4zM716.5 617.1h4v2.2h-4z" fill="#90EE90" stroke="#000" stroke-width="1"/>
<path d="M717.5 617.1h4v4.5h-4z" fill="#FF0000" stroke="#000" stroke-width="1"/>
<path d="M719.5 617.1h4v4.5h-4z" fill="#90EE90" stroke="#000" stroke-width="1"/>
<path d="M720.5 617.1h4v4.5h-4z" fill="#FF0000" stroke="#000" stroke-width="1"/>
<path d="M721.5 619.3h4v2.2h-4zM722.5 614.9h4v4.5h-4zM723.5 610.4h4v4.5h-4zM725.5 603.6h4v6.7h-4zM727.5 594.7h4v9.0h-4zM728.5 581.2h4v13.5h-4zM729.5 579.0h4v2.2h-4z" fill="#90EE90" stroke="#000" stroke-width="1"/>
<path d="M730.5 579.0h4v2.2h-4z" fill="#FF0000" stroke="#000" stroke-width="1"/>
<path d="M731.5 576.7h4v4.5h-4zM733.5 572.2h4v4.5h-4z" fill="#90EE90" stroke="#000" stroke-width="1"/>
<path d="M734.5 572.2h4v2.2h-4z" fill="#FF0000" stroke="#000" stroke-width="1"/>
<path d="M735.5 572.2h4v2.2h-4z" fill="#90EE90" stroke="#000" stroke-width="1"/>
<path d="M736.5 572.2h4v2.2h-4zM739.5 574.5h4v4.5h-4zM741.5 579.0h4v2.2h-4zM743.5 581.2h4v2.2h-4z" fill="#FF0000" stroke="#000" stroke-width="1"/>
<path d="M745.5 581.2h4v2.2h-4z" fill="#90EE90" stroke="#000" stroke-width="1"/>
<path d="M746.5 581.2h4v4.5h-4zM747.5 585.7h4v2.2h-4z" fill="#FF0000" stroke="#000" stroke-width="1"/>
<path d="M749.5 585.7h4v2.2h-4zM750.5 583.4h4v2.2h-4z" fill="#90EE90" stroke="#000" stroke-width="1"/>
<path d="M751.5 583.4h4v4.5h-4z" fill="#FF0000" stroke="#000" stroke-width="1"/>
<path d="M752.5 583.4h4v4.5h-4z" fill="#90EE90" stroke="#000" stroke-width="1"/>
<path d="M753.5 583.4h4v2.2h-4z" fill="#FF0000" stroke="#000" stroke-width="1"/>
<path d="M754.5 581.2h4v4.5h-4zM756.5 576.7h4v4.5h-4z" fill="#90EE90" stroke="#000" stroke-width="1"/>
<path d="M757.5 576.7h4v4.5h-4z" fill="#FF0000" stroke="#000" stroke-width="1"/>
<path d="M758.5 576.7h4v4.5h-4zM759.5 574.5h4v2.2h-4zM761.5 572.2h4v2.2h-4zM763.5 570.0h4v2.2h-4zM764.5 567.7h4v2.2h-4zM766.5 565.5h4v2.2h-4zM767.5 561.0h4v4.5h-4zM769.5 554.3h4v6.7h-4zM770.5 543.0h4v11.2h-4zM771.5 540.8h4v2.2h-4zM772.5 534.1h4v6.7h-4zM773.5 525.1h4v9.0h-4zM774.5 518.4h4v6.7h-4zM775.5 509.4h4v9.0h-4zM776.5 507.1h4v2.2h-4zM777.5 504.9h4v2.2h-4zM778.5 500.4h4v4.5h-4z" fill="#90EE90" stroke="#000" stroke-width="1"/>
<path d="M779.5 500.4h4v6.7h-4zM781.5 507.1h4v6.7h-4zM783.5 513.9h4v6.7h-4zM784.5 520.6h4v2.2h-4zM785.5 522.9h4v6.7h-4z" fill="#FF0000" stroke="#000" stroke-width="1"/>
<path d="M786.5 527.3h4v2.2h-4zM787.5 525.1h4v2.2h-4zM788.5 518.4h4v6.7h-4zM790.5 513.9h4v4.5h-4zM791.5 504.9h4v9.0h-4zM792.5 502.7h4v2.2h-4zM793.5 489.2h4v13.5h-4zM795.5 480.2h4v9.0h-4z" fill="#90EE90" stroke="#000" stroke-width="1"/>
<path d="M796.5 480.2h4v2.2h-4zM797.5 482.5h4v6.7h-4z" fill="#FF0000" stroke="#000" stroke-width="1"/>
<path d="M798.5 480.2h4v9.0h-4z" fill="#90EE90" stroke="#000" stroke-width="1"/>
<path d="M799.5 480.2h4v4.5h-4zM800.5 484.7h4v2.2h-4zM801.5 486.9h4v6.7h-4z" fill="#FF0000" stroke="#000" stroke-width="1"/>
<path d="M802.5 491.4h4v2.2h-4z" fill="#90EE90" stroke="#000" stroke-width="1"/>
<path d="M803.5 491.4h4v4.5h-4zM804.5 495.9h4v4.5h-4z" fill="#FF0000" stroke="#000" stroke-width="1"/>
<path d="M805.5 493.7h4v6.7h-4z" fill="#90EE90" stroke="#000" stroke-width="1"/>
<path d="M806.5 493.7h4v6.7h-4zM807.5 500.4h4v2.2h-4z" fill="#FF0000" stroke="#000" stroke-width="1"/>
<path d="M808.5 500.4h4v2.2h-4z" fill="#90EE90" stroke="#000" stroke-width="1"/>
<path d="M809.5 500.4h4v4.5h-4zM810.5 504.9h4v2.2h-4zM812.5 507.1h4v9.0h-4z" fill="#FF0000" stroke="#000" stroke-width="1"/>
<path d="M813.5 509.4h4v6.7h-4zM814.5 504.9h4v4.5h-4zM815.5 502.7h4v2.2h-4zM816.5 500.4h4v2.2h-4z" fill="#90EE90" stroke="#000" stroke-width="1"/>
<path d="M819.5 500.4h4v4.5h-4z" fill="#FF0000" stroke="#000" stroke-width="1"/>
<path d="M820.5 502.7h4v2.2h-4z" fill="#90EE90" stroke="#000" stroke-width="1"/>
<path d="M821.5 502.7h4v4.5h-4z" fill="#FF0000" stroke="#000" stroke-width="1"/>
<path d="M823.5 502.7h4v4.5h-4z" fill="#90EE90" stroke="#000" stroke-width="1"/>
<path d="M824.5 502.7h4v9.0h-4zM826.5 511.6h4v6.7h-4z" fill="#FF0000" stroke="#000" stroke-width="1"/>
<path d="M827.5 511.6h4v6.7h-4z" fill="#90EE90" stroke="#000" stroke-width="1"/>
<path d="M829.5 511.6h4v4.5h-4z" fill="#FF0000" stroke="#000" stroke-width="1"/>
<path d="M830.5 504.9h4v11.2h-4z" fill="#90EE90" stroke="#000" stroke-width="1"/>
<path d="M831.5 504.9h4v4.5h-4z" fill="#FF0000" stroke="#000" stroke-width="1"/>
<path d="M832.5 507.1h4v2.2h-4zM833.5 504.9h4v2.2h-4z" fill="#90EE90" stroke="#000" stroke-width="1"/>
<path d="M834.5 504.9h4v4.5h-4z" fill="#FF0000" stroke="#000" stroke-width="1"/>
<path d="M835.5 504.9h4v4.5h-4z" fill="#90EE90" stroke="#000" stroke-width="1"/>
<path d="M837.5 504.9h4v4.5h-4zM839.5 509.4h4v11.2h-4zM841.5 520.6h4v2.2h-4z" fill="#FF0000" stroke="#000" stroke-width="1"/>
<path d="M842.5 520.6h4v2.2h-4z" fill="#90EE90" stroke="#000" stroke-width="1"/>
<path d="M843.5 520.6h4v4.5h-4z" fill="#FF0000" stroke="#000" stroke-width="1"/>
<path d="M844.5 522.9h4v2.2h-4z" fill="#90EE90" stroke="#000" stroke-width="1"/>
<path d="M845.5 522.9h4v2.2h-4zM847.5 525.1h4v2.2h-4zM848.5 527.3h4v2.2h-4zM849.5 529.6h4v2.2h-4z" fill="#FF0000" stroke="#000" stroke-width="1"/>
<path d="M850.5 529.6h4v2.2h-4zM851.5 520.6h4v9.0h-4zM852.5 518.4h4v2.2h-4zM853.5 516.1h4v2.2h-4zM855.5 511.6h4v4.5h-4zM856.5 502.7h4v9.0h-4z" fill="#90EE90" stroke="#000" stroke-width="1"/>
<path d="M857.5 502.7h4v4.5h-4z" fill="#FF0000" stroke="#000" stroke-width="1"/>
<path d="M860.5 504.9h4v2.2h-4zM863.5 498.2h4v6.7h-4z" fill="#90EE90" stroke="#000" stroke-width="1"/>
<path d="M864.5 498.2h4v4.5h-4z" fill="#FF0000" stroke="#000" stroke-width="1"/>
<path d="M865.5 493.7h4v9.0h-4zM868.5 484.7h4v9.0h-4z" fill="#90EE90" stroke="#000" stroke-width="1"/>
<path d="M869.5 484.7h4v6.7h-4zM870.5 491.4h4v4.5h-4z" fill="#FF0000" stroke="#000" stroke-width="1"/>
<path d="M871.5 491.4h4v4.5h-4z" fill="#90EE90" stroke="#000" stroke-width="1"/>
<path d="M872.5 491.4h4v2.2h-4zM873.5 493.7h4v2.2h-4z" fill="#FF0000" stroke="#000" stroke-width="1"/>
<path d="M874.5 489.2h4v6.7h-4z" fill="#90EE90" stroke="#000" stroke-width="1"/>
<path d="M875.5 489.2h4v4.5h-4z" fill="#FF0000" stroke="#000" stroke-width="1"/>
<path d="M876.5 491.4h4v2.2h-4zM878.5 486.9h4v4.5h-4zM879.5 478.0h4v9.0h-4zM880.5 473.5h4v4.5h-4zM881.5 464.5h4v9.0h-4zM882.5 453.3h4v11.2h-4z" fill="#90EE90" stroke="#000" stroke-width="1"/>
<path d="M883.5 453.3h4v6.7h-4zM884.5 460.0h4v4.5h-4zM885.5 464.5h4v2.2h-4z" fill="#FF0000" stroke="#000" stroke-width="1"/>
<path d="M886.5 462.3h4v4.5h-4z" fill="#90EE90" stroke="#000" stroke-width="1"/>
<path d="M887.5 462.3h4v6.7h-4zM888.5 469.0h4v6.7h-4zM889.5 475.7h4v6.7h-4z" fill="#FF0000" stroke="#000" stroke-width="1"/>
<path d="M890.5 475.7h4v6.7h-4z" fill="#90EE90" stroke="#000" stroke-width="1"/>
<path d="M892.5 475.7h4v2.2h-4z" fill="#FF0000" stroke="#000" stroke-width="1"/>
<path d="M893.5 475.7h4v2.2h-4zM894.5 471.2h4v4.5h-4zM895.5 469.0h4v2.2h-4zM896.5 457.8h4v11.2h-4zM897.5 448.8h4v9.0h-4z" fill="#90EE90" stroke="#000" stroke-width="1"/>
<path d="M898.5 448.8h4v4.5h-4z" fill="#FF0000" stroke="#000" stroke-width="1"/>
<path d="M899.5 448.8h4v4.5h-4z" fill="#90EE90" stroke="#000" stroke-width="1"/>
<path d="M901.5 448.8h4v9.0h-4z" fill="#FF0000" stroke="#000" stroke-width="1"/>
<path d="M902.5 455.5h4v2.2h-4zM903.5 451.0h4v4.5h-4zM904.5 448.8h4v2.2h-4z" fill="#90EE90" stroke="#000" stroke-width="1"/>
<path d="M905.5 448.8h4v2.2h-4z" fill="#FF0000" stroke="#000" stroke-width="1"/>
<path d="M906.5 448.8h4v2.2h-4zM907.5 444.3h4v4.5h-4zM908.5 439.8h4v4.5h-4zM909.5 437.6h4v2.2h-4zM910.5 433.1h4v4.5h-4zM911.5 428.6h4v4.5h-4zM912.5 426.4h4v2.2h-4zM914.5 421.9h4v4.5h-4z" fill="#90EE90" stroke="#000" stroke-width="1"/>
<path d="M915.5 421.9h4v6.7h-4zM916.5 428.6h4v6.7h-4z" fill="#FF0000" stroke="#000" stroke-width="1"/>
<path d="M917.5 430.8h4v4.5h-4zM918.5 421.9h4v9.0h-4z" fill="#90EE90" stroke="#000" stroke-width="1"/>
<path d="M919.5 421.9h4v6.7h-4z" fill="#FF0000" stroke="#000" stroke-width="1"/>
<path d="M920.5 421.9h4v6.7h-4zM921.5 419.6h4v2.2h-4zM922.5 412.9h4v6.7h-4z" fill="#90EE90" stroke="#000" stroke-width="1"/>
<path d="M923.5 412.9h4v6.7h-4z" fill="#FF0000" stroke="#000" stroke-width="1"/>
<path d="M924.5 417.4h4v2.2h-4zM926.5 415.1h4v2.2h-4zM927.5 410.7h4v4.5h-4z" fill="#90EE90" stroke="#000" stroke-width="1"/>
<path d="M928.5 410.7h4v4.5h-4z" fill="#FF0000" stroke="#000" stroke-width="1"/>
<path d="M930.5 412.9h4v2.2h-4z" fill="#90EE90" stroke="#000" stroke-width="1"/>
<path d="M932.5 412.9h4v2.2h-4z" fill="#FF0000" stroke="#000" stroke-width="1"/>
<path d="M933.5 408.4h4v6.7h-4z" fill="#90EE90" stroke="#000" stroke-width="1"/>
<path d="M935.5 408.4h4v6.7h-4zM937.5 415.1h4v6.7h-4z" fill="#FF0000" stroke="#000" stroke-width="1"/>
<path d="M938.5 419.6h4v2.2h-4z" fill="#90EE90" stroke="#000" stroke-width="1"/>
<path d="M941.5 419.6h4v4.5h-4z" fill="#FF0000" stroke="#000" stroke-width="1"/>
<path d="M942.5 419.6h4v4.5h-4zM944.5 417.4h4v2.2h-4z" fill="#90EE90" stroke="#000" stroke-width="1"/>
<path d="M945.5 417.4h4v4.5h-4z" fill="#FF0000" stroke="#000" stroke-width="1"/>
<path d="M946.5 419.6h4v2.2h-4z" fill="#90EE90" stroke="#000" stroke-width="1"/>
<path d="M947.5 419.6h4v2.2h-4z" fill="#FF0000" stroke="#000" stroke-width="1"/>
<path d="M949.5 415.1h4v6.7h-4zM950.5 410.7h4v4.5h-4zM951.5 406.2h4v4.5h-4z" fill="#90EE90" stroke="#000" stroke-width="1"/>
<path d="M952.5 406.2h4v2.2h-4z" fill="#FF0000" stroke="#000" stroke-width="1"/>
<path d="M953.5 401.7h4v6.7h-4zM954.5 399.4h4v2.2h-4zM955.5 394.9h4v4.5h-4zM956.5 388.2h4v6.7h-4zM958.5 379.2h4v9.0h-4zM959.5 370.3h4v9.0h-4zM960.5 368.0h4v2.2h-4zM961.5 365.8h4v2.2h-4z" fill="#90EE90" stroke="#000" stroke-width="1"/>
<path d="M964.5 365.8h4v2.2h-4zM965.5 368.0h4v2.2h-4zM966.5 370.3h4v4.5h-4zM967.5 374.7h4v6.7h-4z" fill="#FF0000" stroke="#000" stroke-width="1"/>
<path d="M968.5 379.2h4v2.2h-4zM969.5 377.0h4v2.2h-4z" fill="#90EE90" stroke="#000" stroke-width="1"/>
<path d="M970.5 377.0h4v9.0h-4z" fill="#FF0000" stroke="#000" stroke-width="1"/>
<path d="M972.5 379.2h4v6.7h-4zM973.5 372.5h4v6.7h-4z" fill="#90EE90" stroke="#000" stroke-width="1"/>
<path d="M974.5 372.5h4v2.2h-4z" fill="#FF0000" stroke="#000" stroke-width="1"/>
<path d="M975.5 359.0h4v15.7h-4zM976.5 354.6h4v4.5h-4zM977.5 352.3h4v2.2h-4zM978.5 345.6h4v6.7h-4z" fill="#90EE90" stroke="#000" stroke-width="1"/>
<path d="M979.5 345.6h4v2.2h-4z" fill="#FF0000" stroke="#000" stroke-width="1"/>
<path d="M980.5 345.6h4v2.2h-4zM981.5 343.3h4v2.2h-4zM982.5 341.1h4v2.2h-4zM983.5 336.6h4v4.5h-4z" fill="#90EE90" stroke="#000" stroke-width="1"/>
<path d="M984.5 336.6h4v4.5h-4z" fill="#FF0000" stroke="#000" stroke-width="1"/>
<path d="M987.5 334.4h4v6.7h-4zM988.5 314.2h4v20.2h-4zM989.5 302.9h4v11.2h-4zM990.5 287.2h4v15.7h-4z" fill="#90EE90" stroke="#000" stroke-width="1"/>
<path d="M991.5 287.2h4v2.2h-4zM993.5 289.5h4v6.7h-4z" fill="#FF0000" stroke="#000" stroke-width="1"/>
<path d="M994.5 294.0h4v2.2h-4z" fill="#90EE90" stroke="#000" stroke-width="1"/>
<path d="M995.5 294.0h4v6.7h-4z" fill="#FF0000" stroke="#000" stroke-width="1"/>
<path d="M997.5 296.2h4v4.5h-4zM998.5 294.0h4v2.2h-4z" fill="#90EE90" stroke="#000" stroke-width="1"/>
<path d="M999.5 294.0h4v9.0h-4z" fill="#FF0000" stroke="#000" stroke-width="1"/>
<path d="M1000.5 296.2h4v6.7h-4zM1001.5 294.0h4v2.2h-4zM1002.5 291.7h4v2.2h-4zM1003.5 287.2h4v4.5h-4z" fill="#90EE90" stroke="#000" stroke-width="1"/>
<path d="M1004.5 287.2h4v2.2h-4zM1005.5 289.5h4v4.5h-4z" fill="#FF0000" stroke="#000" stroke-width="1"/>
<path d="M1006.5 289.5h4v4.5h-4z" fill="#90EE90" stroke="#000" stroke-width="1"/>
<path d="M1007.5 289.5h4v6.7h-4zM1008.5 296.2h4v2.2h-4z" fill="#FF0000" stroke="#000" stroke-width="1"/>
<path d="M1010.5 296.2h4v2.2h-4zM1011.5 294.0h4v2.2h-4zM1012.5 285.0h4v9.0h-4zM1013.5 276.0h4v9.0h-4zM1014.5 269.3h4v6.7h-4zM1015.5 264.8h4v4.5h-4zM1016.5 262.5h4v2.2h-4zM1017.5 260.3h4v2.2h-4zM1018.5 258.1h4v2.2h-4zM1019.5 255.8h4v2.2h-4zM1020.5 253.6h4v2.2h-4z" fill="#90EE90" stroke="#000" stroke-width="1"/>
<path d="M1021.5 253.6h4v4.5h-4z" fill="#FF0000" stroke="#000" stroke-width="1"/>
<path d="M1022.5 253.6h4v4.5h-4z" fill="#90EE90" stroke="#000" stroke-width="1"/>
<path d="M1024.5 253.6h4v2.2h-4z" fill="#FF0000" stroke="#000" stroke-width="1"/>
<path d="M1025.5 251.3h4v4.5h-4zM1026.5 244.6h4v6.7h-4z" fill="#90EE90" stroke="#000" stroke-width="1"/>
<path d="M1027.5 244.6h4v4.5h-4z" fill="#FF0000" stroke="#000" stroke-width="1"/>
<path d="M1028.5 246.8h4v2.2h-4zM1029.5 244.6h4v2.2h-4zM1030.5 237.9h4v6.7h-4z" fill="#90EE90" stroke="#000" stroke-width="1"/>
<path d="M1031.5 237.9h4v6.7h-4z" fill="#FF0000" stroke="#000" stroke-width="1"/>
<path d="M1032.5 237.9h4v6.7h-4z" fill="#90EE90" stroke="#000" stroke-width="1"/>
<path d="M1033.5 237.9h4v2.2h-4zM1034.5 240.1h4v4.5h-4z" fill="#FF0000" stroke="#000" stroke-width="1"/>
<path d="M1035.5 240.1h4v4.5h-4z" fill="#90EE90" stroke="#000" stroke-width="1"/>
<path d="M1037.5 240.1h4v2.2h-4zM1038.5 242.4h4v4.5h-4zM1040.5 246.8h4v6.7h-4z" fill="#FF0000" stroke="#000" stroke-width="1"/>
<path d="M1041.5 251.3h4v2.2h-4z" fill="#90EE90" stroke="#000" stroke-width="1"/>
<path d="M1042.5 251.3h4v2.2h-4zM1043.5 253.6h4v6.7h-4zM1044.5 260.3h4v2.2h-4zM1045.5 262.5h4v4.5h-4z" fill="#FF0000" stroke="#000" stroke-width="1"/>
<path d="M1046.5 260.3h4v6.7h-4z" fill="#90EE90" stroke="#000" stroke-width="1"/>
<path d="M1047.5 260.3h4v2.2h-4z" fill="#FF0000" stroke="#000" stroke-width="1"/>
<path d="M1048.5 253.6h4v9.0h-4zM1049.5 251.3h4v2.2h-4zM1050.5 244.6h4v6.7h-4z" fill="#90EE90" stroke="#000" stroke-width="1"/>
<path d="M1052.5 244.6h4v2.2h-4zM1053.5 246.8h4v6.7h-4zM1055.5 253.6h4v4.5h-4zM1056.5 258.1h4v2.2h-4zM1058.5 260.3h4v6.7h-4z" fill="#FF0000" stroke="#000" stroke-width="1"/>
<path d="M1059.5 262.5h4v4.5h-4z" fill="#90EE90" stroke="#000" stroke-width="1"/>
<path d="M1060.5 262.5h4v2.2h-4zM1061.5 264.8h4v4.5h-4z" fill="#FF0000" stroke="#000" stroke-width="1"/>
<path d="M1063.5 260.3h4v9.0h-4z" fill="#90EE90" stroke="#000" stroke-width="1"/>
<path d="M1064.5 260.3h4v6.7h-4z" fill="#FF0000" stroke="#000" stroke-width="1"/>
<path d="M1065.5 264.8h4v2.2h-4z" fill="#90EE90" stroke="#000" stroke-width="1"/>
<path d="M1067.5 264.8h4v2.2h-4z" fill="#FF0000" stroke="#000" stroke-width="1"/>
<path d="M1068.5 262.5h4v4.5h-4z" fill="#90EE90" stroke="#000" stroke-width="1"/>
<path d="M1069.5 262.5h4v11.2h-4z" fill="#FF0000" stroke="#000" stroke-width="1"/>
<path d="M1070.5 264.8h4v9.0h-4zM1071.5 260.3h4v4.5h-4z" fill="#90EE90" stroke="#000" stroke-width="1"/>
<path d="M1072.5 260.3h4v2.2h-4z" fill="#FF0000" stroke="#000" stroke-width="1"/>
<path d="M1073.5 258.1h4v4.5h-4zM1074.5 253.6h4v4.5h-4zM1075.5 251.3h4v2.2h-4z" fill="#90EE90" stroke="#000" stroke-width="1"/>
<path d="M1076.5 251.3h4v2.2h-4z" fill="#FF0000" stroke="#000" stroke-width="1"/>
<path d="M1077.5 246.8h4v6.7h-4zM1079.5 242.4h4v4.5h-4zM1080.5 240.1h4v2.2h-4z" fill="#90EE90" stroke="#000" stroke-width="1"/>
<path d="M1081.5 240.1h4v6.7h-4z" fill="#FF0000" stroke="#000" stroke-width="1"/>
<path d="M1082.5 244.6h4v2.2h-4z" fill="#90EE90" stroke="#000" stroke-width="1"/>
<path d="M1083.5 244.6h4v4.5h-4zM1084.5 249.1h4v2.2h-4zM1085.5 251.3h4v2.2h-4zM1086.5 253.6h4v2.2h-4zM1087.5 255.8h4v6.7h-4z" fill="#FF0000" stroke="#000" stroke-width="1"/>
<path d="M1089.5 258.1h4v4.5h-4zM1091.5 255.8h4v2.2h-4zM1093.5 253.6h4v2.2h-4zM1094.5 249.1h4v4.5h-4zM1096.5 244.6h4v4.5h-4z" fill="#90EE90" stroke="#000" stroke-width="1"/>
<path d="M1097.5 244.6h4v4.5h-4z" fill="#FF0000" stroke="#000" stroke-width="1"/>
<path d="M1098.5 246.8h4v2.2h-4z" fill="#90EE90" stroke="#000" stroke-width="1"/>
<path d="M1099.5 246.8h4v2.2h-4z" fill="#FF0000" stroke="#000" stroke-width="1"/>
<path d="M1101.5 244.6h4v4.5h-4zM1104.5 237.9h4v6.7h-4z" fill="#90EE90" stroke="#000" stroke-width="1"/>
<path d="M1105.5 237.9h4v6.7h-4z" fill="#FF0000" stroke="#000" stroke-width="1"/>
<path d="M1106.5 242.4h4v2.2h-4z" fill="#90EE90" stroke="#000" stroke-width="1"/>
<path d="M1108.5 242.4h4v2.2h-4z" fill="#FF0000" stroke="#000" stroke-width="1"/>
<path d="M1109.5 237.9h4v6.7h-4z" fill="#90EE90" stroke="#000" stroke-width="1"/>
<path d="M1110.5 237.9h4v6.7h-4z" fill="#FF0000" stroke="#000" stroke-width="1"/>
<path d="M1111.5 242.4h4v2.2h-4z" fill="#90EE90" stroke="#000" stroke-width="1"/>
<path d="M1112.5 242.4h4v2.2h-4zM1113.5 244.6h4v2.2h-4z" fill="#FF0000" stroke="#000" stroke-width="1"/>
<path d="M1114.5 244.6h4v2.2h-4z" fill="#90EE90" stroke="#000" stroke-width="1"/>
<path d="M1115.5 244.6h4v9.0h-4z" fill="#FF0000" stroke="#000" stroke-width="1"/>
<path d="M1116.5 251.3h4v2.2h-4z" fill="#90EE90" stroke="#000" stroke-width="1"/>
<path d="M1117.5 251.3h4v2.2h-4z" fill="#FF0000" stroke="#000" stroke-width="1"/>
<path d="M1119.5 249.1h4v4.5h-4zM1122.5 242.4h4v6.7h-4z" fill="#90EE90" stroke="#000" stroke-width="1"/>
<path d="M1123.5 242.4h4v2.2h-4z" fill="#FF0000" stroke="#000" stroke-width="1"/>
<path d="M1124.5 240.1h4v4.5h-4z" fill="#90EE90" stroke="#000" stroke-width="1"/>
<path d="M1125.5 240.1h4v2.2h-4zM1126.5 242.4h4v4.5h-4zM1127.5 246.8h4v4.5h-4z" fill="#FF0000" stroke="#000" stroke-width="1"/>
<path d="M1128.5 246.8h4v4.5h-4z" fill="#90EE90" stroke="#000" stroke-width="1"/>
<path d="M1129.5 246.8h4v4.5h-4zM1130.5 251.3h4v4.5h-4zM1132.5 255.8h4v2.2h-4zM1133.5 258.1h4v4.5h-4zM1134.5 262.5h4v2.2h-4z" fill="#FF0000" stroke="#000" stroke-width="1"/>
<path d="M1135.5 258.1h4v6.7h-4z" fill="#90EE90" stroke="#000" stroke-width="1"/>
<path d="M1136.5 258.1h4v4.5h-4z" fill="#FF0000" stroke="#000" stroke-width="1"/>
<path d="M1137.5 260.3h4v2.2h-4zM1139.5 251.3h4v9.0h-4zM1140.5 246.8h4v4.5h-4zM1141.5 242.4h4v4.5h-4z" fill="#90EE90" stroke="#000" stroke-width="1"/>
<path d="M1143.5 242.4h4v6.7h-4z" fill="#FF0000" stroke="#000" stroke-width="1"/>
<path d="M1144.5 244.6h4v4.5h-4zM1145.5 240.1h4v4.5h-4zM1147.5 237.9h4v2.2h-4z" fill="#90EE90" stroke="#000" stroke-width="1"/>
<path d="M1148.5 237.9h4v6.7h-4z" fill="#FF0000" stroke="#000" stroke-width="1"/>
<path d="M1149.5 240.1h4v4.5h-4zM1150.5 237.9h4v2.2h-4zM1151.5 224.4h4v13.5h-4zM1152.5 197.5h4v26.9h-4zM1153.5 188.5h4v9.0h-4zM1156.5 177.3h4v11.2h-4zM1157.5 175.0h4v2.2h-4zM1158.5 168.3h4v6.7h-4zM1160.5 166.1h4v2.2h-4z" fill="#90EE90" stroke="#000" stroke-width="1"/>
<path d="M1161.5 166.1h4v2.2h-4z" fill="#FF0000" stroke="#000" stroke-width="1"/>
<path d="M1162.5 159.3h4v9.0h-4z" fill="#90EE90" stroke="#000" stroke-width="1"/>
<path d="M1163.5 159.3h4v2.2h-4z" fill="#FF0000" stroke="#000" stroke-width="1"/>
<path d="M1164.5 152.6h4v9.0h-4z" fill="#90EE90" stroke="#000" stroke-width="1"/>
<path d="M1166.5 152.6h4v2.2h-4zM1168.5 154.8h4v2.2h-4zM1169.5 157.1h4v2.2h-4z" fill="#FF0000" stroke="#000" stroke-width="1"/>
<path d="M1170.5 157.1h4v2.2h-4z" fill="#90EE90" stroke="#000" stroke-width="1"/>
<path d="M1171.5 157.1h4v9.0h-4zM1172.5 166.1h4v9.0h-4z" fill="#FF0000" stroke="#000" stroke-width="1"/>
<path d="M1173.5 168.3h4v6.7h-4zM1174.5 166.1h4v2.2h-4z" fill="#90EE90" stroke="#000" stroke-width="1"/>
<path d="M1175.5 166.1h4v4.5h-4zM1176.5 170.5h4v6.7h-4z" fill="#FF0000" stroke="#000" stroke-width="1"/>
<path d="M1177.5 170.5h4v6.7h-4z" fill="#90EE90" stroke="#000" stroke-width="1"/>
<path d="M1179.5 170.5h4v2.2h-4z" fill="#FF0000" stroke="#000" stroke-width="1"/>
<path d="M1180.5 170.5h4v2.2h-4zM1181.5 163.8h4v6.7h-4z" fill="#90EE90" stroke="#000" stroke-width="1"/>
<path d="M1182.5 163.8h4v4.5h-4z" fill="#FF0000" stroke="#000" stroke-width="1"/>
<path d="M1183.5 161.6h4v6.7h-4z" fill="#90EE90" stroke="#000" stroke-width="1"/>
<path d="M1186.5 161.6h4v4.5h-4zM1187.5 166.1h4v4.5h-4zM1188.5 170.5h4v2.2h-4z" fill="#FF0000" stroke="#000" stroke-width="1"/>
<path d="M1189.5 170.5h4v2.2h-4z" fill="#90EE90" stroke="#000" stroke-width="1"/>
<path d="M1190.5 170.5h4v6.7h-4zM1192.5 177.3h4v2.2h-4zM1193.5 179.5h4v4.5h-4zM1195.5 184.0h4v2.2h-4zM1197.5 186.3h4v2.2h-4z" fill="#FF0000" stroke="#000" stroke-width="1"/>
<path d="M1198.5 184.0h4v4.5h-4z" fill="#90EE90" stroke="#000" stroke-width="1"/>
<path d="M1200.5 184.0h4v6.7h-4z" fill="#FF0000" stroke="#000" stroke-width="1"/>
<path d="M1201.5 181.8h4v9.0h-4zM1202.5 177.3h4v4.5h-4zM1204.5 175.0h4v2.2h-4z" fill="#90EE90" stroke="#000" stroke-width="1"/>
<path d="M1205.5 175.0h4v2.2h-4zM1206.5 177.3h4v9.0h-4z" fill="#FF0000" stroke="#000" stroke-width="1"/>
<path d="M1207.5 184.0h4v2.2h-4z" fill="#90EE90" stroke="#000" stroke-width="1"/>
<path d="M1211.5 184.0h4v2.2h-4z" fill="#FF0000" stroke="#000" stroke-width="1"/>
<path d="M1212.5 181.8h4v4.5h-4z" fill="#90EE90" stroke="#000" stroke-width="1"/>
<path d="M1213.5 181.8h4v6.7h-4zM1216.5 188.5h4v2.2h-4z" fill="#FF0000" stroke="#000" stroke-width="1"/>
<path d="M1220.5 184.0h4v6.7h-4zM1221.5 181.8h4v2.2h-4z" fill="#90EE90" stroke="#000" stroke-width="1"/>
<path d="M1223.5 181.8h4v2.2h-4zM1224.5 184.0h4v2.2h-4zM1226.5 186.3h4v2.2h-4zM1228.5 188.5h4v4.5h-4zM1229.5 193.0h4v2.2h-4z" fill="#FF0000" stroke="#000" stroke-width="1"/>
<path d="M1230.5 193.0h4v2.2h-4z" fill="#90EE90" stroke="#000" stroke-width="1"/>
<path d="M1231.5 193.0h4v2.2h-4zM1232.5 195.2h4v2.2h-4z" fill="#FF0000" stroke="#000" stroke-width="1"/>
<path d="M1233.5 188.5h4v9.0h-4z" fill="#90EE90" stroke="#000" stroke-width="1"/>
<path d="M1234.5 188.5h4v2.2h-4z" fill="#FF0000" stroke="#000" stroke-width="1"/>
<path d="M1235.5 188.5h4v2.2h-4zM1236.5 184.0h4v4.5h-4z" fill="#90EE90" stroke="#000" stroke-width="1"/>
<path d="M1238.5 184.0h4v2.2h-4z" fill="#FF0000" stroke="#000" stroke-width="1"/>
<path d="M1239.5 181.8h4v4.5h-4z" fill="#90EE90" stroke="#000" stroke-width="1"/>
<path d="M1240.5 181.8h4v11.2h-4z" fill="#FF0000" stroke="#000" stroke-width="1"/>
<path d="M1241.5 188.5h4v4.5h-4z" fill="#90EE90" stroke="#000" stroke-width="1"/>
<path d="M1243.5 188.5h4v2.2h-4z" fill="#FF0000" stroke="#000" stroke-width="1"/>
<path d="M1244.5 186.3h4v4.5h-4z" fill="#90EE90" stroke="#000" stroke-width="1"/>
<path d="M1245.5 186.3h4v4.5h-4z" fill="#FF0000" stroke="#000" stroke-width="1"/>
<path d="M1246.5 188.5h4v2.2h-4z" fill="#90EE90" stroke="#000" stroke-width="1"/>
<path d="M1247.5 188.5h4v2.2h-4zM1248.5 190.7h4v4.5h-4z" fill="#FF0000" stroke="#000" stroke-width="1"/>
<path d="M1249.5 186.3h4v9.0h-4z" fill="#90EE90" stroke="#000" stroke-width="1"/>
<path d="M1250.5 186.3h4v11.2h-4zM1251.5 197.5h4v4.5h-4zM1252.5 202.0h4v4.5h-4zM1254.5 206.4h4v4.5h-4zM1255.5 210.9h4v6.7h-4z" fill="#FF0000" stroke="#000" stroke-width="1"/>
<path d="M1256.5 215.4h4v2.2h-4z" fill="#90EE90" stroke="#000" stroke-width="1"/>
<path d="M1257.5 215.4h4v4.5h-4zM1258.5 219.9h4v2.2h-4z" fill="#FF0000" stroke="#000" stroke-width="1"/>
<path d="M1259.5 219.9h4v2.2h-4z" fill="#90EE90" stroke="#000" stroke-width="1"/>
<path d="M1261.5 219.9h4v2.2h-4zM1262.5 222.2h4v2.2h-4zM1263.5 224.4h4v2.2h-4z" fill="#FF0000" stroke="#000" stroke-width="1"/>
<path d="M1264.5 224.4h4v2.2h-4z" fill="#90EE90" stroke="#000" stroke-width="1"/>
<path d="M1265.5 224.4h4v2.2h-4zM1267.5 226.6h4v2.2h-4z" fill="#FF0000" stroke="#000" stroke-width="1"/>
<path d="M1268.5 224.4h4v4.5h-4z" fill="#90EE90" stroke="#000" stroke-width="1"/>
<path d="M1269.5 224.4h4v4.5h-4z" fill="#FF0000" stroke="#000" stroke-width="1"/>
<path d="M1270.5 226.6h4v2.2h-4z" fill="#90EE90" stroke="#000" stroke-width="1"/>
<path d="M1271.5 226.6h4v2.2h-4z" fill="#FF0000" stroke="#000" stroke-width="1"/>
<path d="M1272.5 226.6h4v2.2h-4zM1274.5 224.4h4v2.2h-4zM1277.5 217.7h4v6.7h-4z" fill="#90EE90" stroke="#000" stroke-width="1"/>
<path d="M1278.5 217.7h4v6.7h-4z" fill="#FF0000" stroke="#000" stroke-width="1"/>
<path d="M1279.5 222.2h4v2.2h-4zM1280.5 219.9h4v2.2h-4z" fill="#90EE90" stroke="#000" stroke-width="1"/>
<path d="M1281.5 219.9h4v4.5h-4zM1283.5 224.4h4v4.5h-4z" fill="#FF0000" stroke="#000" stroke-width="1"/>
<path d="M1286.5 226.6h4v2.2h-4z" fill="#90EE90" stroke="#000" stroke-width="1"/>
<path d="M1287.5 226.6h4v4.5h-4zM1291.5 231.1h4v2.2h-4zM1292.5 233.4h4v2.2h-4z" fill="#FF0000" stroke="#000" stroke-width="1"/>
<path d="M1293.5 231.1h4v4.5h-4z" fill="#90EE90" stroke="#000" stroke-width="1"/>
<path d="M1294.5 231.1h4v4.5h-4z" fill="#FF0000" stroke="#000" stroke-width="1"/>
<path d="M1297.5 233.4h4v2.2h-4z" fill="#90EE90" stroke="#000" stroke-width="1"/>
<path d="M1298.5 233.4h4v2.2h-4zM1299.5 235.6h4v2.2h-4z" fill="#FF0000" stroke="#000" stroke-width="1"/>
<path d="M1300.5 235.6h4v2.2h-4z" fill="#90EE90" stroke="#000" stroke-width="1"/>
<path d="M1301.5 235.6h4v2.2h-4zM1302.5 237.9h4v9.0h-4z" fill="#FF0000" stroke="#000" stroke-width="1"/>
<path d="M1303.5 242.4h4v4.5h-4z" fill="#90EE90" stroke="#000" stroke-width="1"/>
<path d="M1304.5 242.4h4v4.5h-4z" fill="#FF0000" stroke="#000" stroke-width="1"/>
<path d="M1305.5 244.6h4v2.2h-4z" fill="#90EE90" stroke="#000" stroke-width="1"/>
<path d="M1306.5 244.6h4v4.5h-4z" fill="#FF0000" stroke="#000" stroke-width="1"/>
<path d="M1307.5 246.8h4v2.2h-4z" fill="#90EE90" stroke="#000" stroke-width="1"/>
<path d="M1308.5 246.8h4v2.2h-4z" fill="#FF0000" stroke="#000" stroke-width="1"/>
<path d="M1309.5 246.8h4v2.2h-4z" fill="#90EE90" stroke="#000" stroke-width="1"/>
<path d="M1310.5 246.8h4v2.2h-4z" fill="#FF0000" stroke="#000" stroke-width="1"/>
<path d="M1311.5 244.6h4v4.5h-4zM1312.5 240.1h4v4.5h-4z" fill="#90EE90" stroke="#000" stroke-width="1"/>
<path d="M1314.5 240.1h4v4.5h-4z" fill="#FF0000" stroke="#000" stroke-width="1"/>
<path d="M1317.5 242.4h4v2.2h-4z" fill="#90EE90" stroke="#000" stroke-width="1"/>
<path d="M1318.5 242.4h4v2.2h-4z" fill="#FF0000" stroke="#000" stroke-width="1"/>
<path d="M1319.5 237.9h4v6.7h-4z" fill="#90EE90" stroke="#000" stroke-width="1"/>
<path d="M1320.5 237.9h4v4.5h-4zM1321.5 242.4h4v2.2h-4z" fill="#FF0000" stroke="#000" stroke-width="1"/>
<path d="M1324.5 240.1h4v4.5h-4z" fill="#90EE90" stroke="#000" stroke-width="1"/>
<path d="M1325.5 240.1h4v2.2h-4zM1326.5 242.4h4v2.2h-4zM1328.5 244.6h4v2.2h-4zM1329.5 246.8h4v2.2h-4z" fill="#FF0000" stroke="#000" stroke-width="1"/>
<path d="M1330.5 246.8h4v2.2h-4z" fill="#90EE90" stroke="#000" stroke-width="1"/>
<path d="M1331.5 246.8h4v2.2h-4z" fill="#FF0000" stroke="#000" stroke-width="1"/>
<path d="M1332.5 246.8h4v2.2h-4zM1333.5 242.4h4v4.5h-4z" fill="#90EE90" stroke="#000" stroke-width="1"/>
<path d="M1334.5 242.4h4v2.2h-4z" fill="#FF0000" stroke="#000" stroke-width="1"/>
<path d="M1335.5 242.4h4v2.2h-4z" fill="#90EE90" stroke="#000" stroke-width="1"/>
<path d="M1338.5 242.4h4v6.7h-4z" fill="#FF0000" stroke="#000" stroke-width="1"/>
<path d="M1339.5 244.6h4v4.5h-4z" fill="#90EE90" stroke="#000" stroke-width="1"/>
<path d="M1341.5 244.6h4v2.2h-4z" fill="#FF0000" stroke="#000" stroke-width="1"/>
<path d="M1342.5 244.6h4v2.2h-4zM1343.5 242.4h4v2.2h-4z" fill="#90EE90" stroke="#000" stroke-width="1"/>
<path d="M1344.5 242.4h4v4.5h-4zM1345.5 246.8h4v2.2h-4zM1346.5 249.1h4v2.2h-4zM1347.5 251.3h4v2.2h-4z" fill="#FF0000" stroke="#000" stroke-width="1"/>
<path d="M1348.5 251.3h4v2.2h-4z" fill="#90EE90" stroke="#000" stroke-width="1"/>
<path d="M1349.5 251.3h4v2.2h-4z" fill="#FF0000" stroke="#000" stroke-width="1"/>
<path d="M1350.5 251.3h4v2.2h-4z" fill="#90EE90" stroke="#000" stroke-width="1"/>
<path d="M1353.5 251.3h4v4.5h-4z" fill="#FF0000" stroke="#000" stroke-width="1"/>
<path d="M1354.5 249.1h4v6.7h-4zM1357.5 244.6h4v4.5h-4z" fill="#90EE90" stroke="#000" stroke-width="1"/>
<path d="M1358.5 244.6h4v6.7h-4z" fill="#FF0000" stroke="#000" stroke-width="1"/>
<path d="M1359.5 249.1h4v2.2h-4z" fill="#90EE90" stroke="#000" stroke-width="1"/>
<path d="M1360.5 249.1h4v2.2h-4z" fill="#FF0000" stroke="#000" stroke-width="1"/>
<path d="M1362.5 246.8h4v4.5h-4zM1364.5 244.6h4v2.2h-4z" fill="#90EE90" stroke="#000" stroke-width="1"/>
<path d="M1365.5 244.6h4v2.2h-4z" fill="#FF0000" stroke="#000" stroke-width="1"/>
<path d="M1366.5 244.6h4v2.2h-4z" fill="#90EE90" stroke="#000" stroke-width="1"/>
<path d="M1367.5 244.6h4v2.2h-4z" fill="#FF0000" stroke="#000" stroke-width="1"/>
<path d="M1368.5 242.4h4v4.5h-4zM1371.5 237.9h4v4.5h-4z" fill="#90EE90" stroke="#000" stroke-width="1"/>
<path d="M1373.5 237.9h4v4.5h-4z" fill="#FF0000" stroke="#000" stroke-width="1"/>
<path d="M1374.5 235.6h4v6.7h-4z" fill="#90EE90" stroke="#000" stroke-width="1"/>
<path d="M1375.5 235.6h4v6.7h-4z" fill="#FF0000" stroke="#000" stroke-width="1"/>
<path d="M1376.5 240.1h4v2.2h-4z" fill="#90EE90" stroke="#000" stroke-width="1"/>
<path d="M1377.5 240.1h4v2.2h-4zM1378.5 242.4h4v4.5h-4zM1380.5 246.8h4v4.5h-4zM1381.5 251.3h4v2.2h-4z" fill="#FF0000" stroke="#000" stroke-width="1"/>
<path d="M1382.5 251.3h4v2.2h-4z" fill="#90EE90" stroke="#000" stroke-width="1"/>
<path d="M1383.5 251.3h4v2.2h-4zM1385.5 253.6h4v2.2h-4zM1386.5 255.8h4v2.2h-4z" fill="#FF0000" stroke="#000" stroke-width="1"/>
<path d="M1387.5 255.8h4v2.2h-4z" fill="#90EE90" stroke="#000" stroke-width="1"/>
<path d="M1388.5 255.8h4v2.2h-4zM1389.5 258.1h4v2.2h-4zM1390.5 260.3h4v2.2h-4z" fill="#FF0000" stroke="#000" stroke-width="1"/>
<path d="M1391.5 260.3h4v2.2h-4zM1393.5 258.1h4v2.2h-4zM1397.5 251.3h4v6.7h-4z" fill="#90EE90" stroke="#000" stroke-width="1"/>
<path d="M1398.5 251.3h4v2.2h-4z" fill="#FF0000" stroke="#000" stroke-width="1"/>
<path d="M1399.5 251.3h4v2.2h-4zM1400.5 249.1h4v2.2h-4z" fill="#90EE90" stroke="#000" stroke-width="1"/>
<path d="M1401.5 249.1h4v2.2h-4z" fill="#FF0000" stroke="#000" stroke-width="1"/>
<path d="M1402.5 249.1h4v2.2h-4zM1403.5 246.8h4v2.2h-4zM1405.5 244.6h4v2.2h-4zM1407.5 240.1h4v4.5h-4zM1409.5 233.4h4v6.7h-4z" fill="#90EE90" stroke="#000" stroke-width="1"/>
<path d="M1410.5 233.4h4v4.5h-4z" fill="#FF0000" stroke="#000" stroke-width="1"/>
<path d="M1411.5 235.6h4v2.2h-4zM1412.5 233.4h4v2.2h-4z" fill="#90EE90" stroke="#000" stroke-width="1"/>
<path d="M1414.5 233.4h4v2.2h-4zM1416.5 235.6h4v4.5h-4zM1419.5 240.1h4v2.2h-4z" fill="#FF0000" stroke="#000" stroke-width="1"/>
<path d="M1420.5 237.9h4v4.5h-4z" fill="#90EE90" stroke="#000" stroke-width="1"/>
<path d="M1421.5 237.9h4v2.2h-4zM1422.5 240.1h4v4.5h-4z" fill="#FF0000" stroke="#000" stroke-width="1"/>
<path d="M1423.5 242.4h4v2.2h-4zM1424.5 240.1h4v2.2h-4z" fill="#90EE90" stroke="#000" stroke-width="1"/>
<path d="M1425.5 240.1h4v2.2h-4z" fill="#FF0000" stroke="#000" stroke-width="1"/>
<path d="M1426.5 235.6h4v6.7h-4z" fill="#90EE90" stroke="#000" stroke-width="1"/>
<path d="M1427.5 235.6h4v2.2h-4z" fill="#FF0000" stroke="#000" stroke-width="1"/>
<path d="M1430.5 235.6h4v2.2h-4z" fill="#90EE90" stroke="#000" stroke-width="1"/>
<path d="M1431.5 235.6h4v2.2h-4zM1433.5 237.9h4v2.2h-4z" fill="#FF0000" stroke="#000" stroke-width="1"/>
<path d="M1434.5 237.9h4v2.2h-4zM1435.5 233.4h4v4.5h-4z" fill="#90EE90" stroke="#000" stroke-width="1"/>
<path d="M1436.5 233.4h4v6.7h-4z" fill="#FF0000" stroke="#000" stroke-width="1"/>
<path d="M1437.5 235.6h4v4.5h-4z" fill="#90EE90" stroke="#000" stroke-width="1"/>
<path d="M1439.5 235.6h4v2.2h-4zM1440.5 237.9h4v2.2h-4zM1441.5 240.1h4v4.5h-4zM1443.5 244.6h4v2.2h-4zM1445.5 246.8h4v4.5h-4zM1447.5 251.3h4v2.2h-4z" fill="#FF0000" stroke="#000" stroke-width="1"/>
<path d="M1448.5 251.3h4v2.2h-4zM1449.5 249.1h4v2.2h-4z" fill="#90EE90" stroke="#000" stroke-width="1"/>
<path d="M1450.5 249.1h4v2.2h-4zM1453.5 251.3h4v2.2h-4zM1455.5 253.6h4v2.2h-4zM1457.5 255.8h4v2.2h-4zM1458.5 258.1h4v2.2h-4z" fill="#FF0000" stroke="#000" stroke-width="1"/>
<path d="M1459.5 258.1h4v2.2h-4z" fill="#90EE90" stroke="#000" stroke-width="1"/>
<path d="M1460.5 258.1h4v2.2h-4zM1461.5 260.3h4v2.2h-4zM1462.5 262.5h4v2.2h-4zM1463.5 264.8h4v2.2h-4zM1465.5 267.0h4v2.2h-4z" fill="#FF0000" stroke="#000" stroke-width="1"/>
<path d="M1466.5 267.0h4v2.2h-4zM1470.5 264.8h4v2.2h-4z" fill="#90EE90" stroke="#000" stroke-width="1"/>
<path d="M1471.5 264.8h4v4.5h-4z" fill="#FF0000" stroke="#000" stroke-width="1"/>
<path d="M1472.5 267.0h4v2.2h-4z" fill="#90EE90" stroke="#000" stroke-width="1"/>
<path d="M1473.5 267.0h4v2.2h-4zM1475.5 269.3h4v4.5h-4z" fill="#FF0000" stroke="#000" stroke-width="1"/>
<path d="M1476.5 271.5h4v2.2h-4z" fill="#90EE90" stroke="#000" stroke-width="1"/>
<path d="M1478.5 271.5h4v6.7h-4z" fill="#FF0000" stroke="#000" stroke-width="1"/>
<path d="M1479.5 273.8h4v4.5h-4z" fill="#90EE90" stroke="#000" stroke-width="1"/>
<path d="M1480.5 273.8h4v2.2h-4zM1481.5 276.0h4v2.2h-4z" fill="#FF0000" stroke="#000" stroke-width="1"/>
<path d="M1487.5 273.8h4v4.5h-4zM1490.5 271.5h4v2.2h-4zM1491.5 269.3h4v2.2h-4z" fill="#90EE90" stroke="#000" stroke-width="1"/>
<path d="M1492.5 269.3h4v2.2h-4z" fill="#FF0000" stroke="#000" stroke-width="1"/>
<path d="M1495.5 269.3h4v2.2h-4z" fill="#90EE90" stroke="#000" stroke-width="1"/>
<path d="M1496.5 269.3h4v4.5h-4z" fill="#FF0000" stroke="#000" stroke-width="1"/>
<path d="M1497.5 271.5h4v2.2h-4zM1498.5 267.0h4v4.5h-4z" fill="#90EE90" stroke="#000" stroke-width="1"/>
<path d="M1499.5 267.0h4v2.2h-4z" fill="#FF0000" stroke="#000" stroke-width="1"/>
<path d="M1501.5 260.3h4v9.0h-4z" fill="#90EE90" stroke="#000" stroke-width="1"/>
<path d="M1502.5 260.3h4v2.2h-4zM1503.5 262.5h4v2.2h-4zM1505.5 264.8h4v4.5h-4z" fill="#FF0000" stroke="#000" stroke-width="1"/>
<path d="M1506.5 267.0h4v2.2h-4zM1507.5 264.8h4v2.2h-4zM1508.5 262.5h4v2.2h-4zM1509.5 260.3h4v2.2h-4zM1511.5 258.1h4v2.2h-4z" fill="#90EE90" stroke="#000" stroke-width="1"/>
<path d="M1512.5 258.1h4v4.5h-4z" fill="#FF0000" stroke="#000" stroke-width="1"/>
<path d="M1513.5 258.1h4v4.5h-4z" fill="#90EE90" stroke="#000" stroke-width="1"/>
<path d="M1514.5 258.1h4v2.2h-4zM1515.5 260.3h4v2.2h-4z" fill="#FF0000" stroke="#000" stroke-width="1"/>
<path d="M1516.5 260.3h4v2.2h-4z" fill="#90EE90" stroke="#000" stroke-width="1"/>
<path d="M1517.5 260.3h4v2.2h-4z" fill="#FF0000" stroke="#000" stroke-width="1"/>
<path d="M1518.5 260.3h4v2.2h-4zM1519.5 253.6h4v6.7h-4zM1520.5 246.8h4v6.7h-4z" fill="#90EE90" stroke="#000" stroke-width="1"/>
<path d="M1521.5 246.8h4v2.2h-4zM1523.5 249.1h4v2.2h-4z" fill="#FF0000" stroke="#000" stroke-width="1"/>
<path d="M1524.5 249.1h4v2.2h-4zM1525.5 244.6h4v4.5h-4z" fill="#90EE90" stroke="#000" stroke-width="1"/>
<path d="M1527.5 244.6h4v2.2h-4z" fill="#FF0000" stroke="#000" stroke-width="1"/>
<path d="M1529.5 244.6h4v2.2h-4z" fill="#90EE90" stroke="#000" stroke-width="1"/>
<path d="M1530.5 244.6h4v2.2h-4z" fill="#FF0000" stroke="#000" stroke-width="1"/>
<path d="M1531.5 244.6h4v2.2h-4z" fill="#90EE90" stroke="#000" stroke-width="1"/>
<path d="M1533.5 244.6h4v2.2h-4z" fill="#FF0000" stroke="#000" stroke-width="1"/>
<path d="M1535.5 244.6h4v2.2h-4z" fill="#90EE90" stroke="#000" stroke-width="1"/>
<path d="M1536.5 244.6h4v2.2h-4zM1538.5 246.8h4v4.5h-4zM1543.5 251.3h4v2.2h-4z" fill="#FF0000" stroke="#000" stroke-width="1"/>
<path d="M1545.5 251.3h4v2.2h-4zM1548.5 244.6h4v6.7h-4zM1549.5 235.6h4v9.0h-4z" fill="#90EE90" stroke="#000" stroke-width="1"/>
<path d="M1550.5 235.6h4v2.2h-4z" fill="#FF0000" stroke="#000" stroke-width="1"/>
<path d="M1552.5 233.4h4v4.5h-4z" fill="#90EE90" stroke="#000" stroke-width="1"/>
<path d="M1553.5 233.4h4v4.5h-4zM1555.5 237.9h4v2.2h-4zM1556.5 240.1h4v4.5h-4z" fill="#FF0000" stroke="#000" stroke-width="1"/>
<path d="M1557.5 242.4h4v2.2h-4zM1559.5 240.1h4v2.2h-4z" fill="#90EE90" stroke="#000" stroke-width="1"/>
<path d="M1560.5 240.1h4v2.2h-4zM1561.5 242.4h4v4.5h-4zM1563.5 246.8h4v2.2h-4z" fill="#FF0000" stroke="#000" stroke-width="1"/>
<path d="M1564.5 246.8h4v2.2h-4z" fill="#90EE90" stroke="#000" stroke-width="1"/>
<path d="M1565.5 246.8h4v4.5h-4zM1566.5 251.3h4v2.2h-4zM1567.5 253.6h4v2.2h-4z" fill="#FF0000" stroke="#000" stroke-width="1"/>
<path d="M1568.5 253.6h4v2.2h-4zM1569.5 251.3h4v2.2h-4zM1571.5 249.1h4v2.2h-4zM1572.5 246.8h4v2.2h-4zM1573.5 240.1h4v6.7h-4zM1574.5 235.6h4v4.5h-4zM1575.5 231.1h4v4.5h-4zM1576.5 228.9h4v2.2h-4z" fill="#90EE90" stroke="#000" stroke-width="1"/>
<path d="M1577.5 228.9h4v4.5h-4z" fill="#FF0000" stroke="#000" stroke-width="1"/>
<path d="M1579.5 231.1h4v2.2h-4z" fill="#90EE90" stroke="#000" stroke-width="1"/>
<path d="M1581.5 231.1h4v2.2h-4zM1584.5 233.4h4v4.5h-4z" fill="#FF0000" stroke="#000" stroke-width="1"/>
<path d="M1586.5 235.6h4v2.2h-4z" fill="#90EE90" stroke="#000" stroke-width="1"/>
<path d="M1589.5 235.6h4v2.2h-4z" fill="#FF0000" stroke="#000" stroke-width="1"/>
<path d="M1590.5 235.6h4v2.2h-4zM1593.5 233.4h4v2.2h-4z" fill="#90EE90" stroke="#000" stroke-width="1"/>
<path d="M1594.5 233.4h4v2.2h-4z" fill="#FF0000" stroke="#000" stroke-width="1"/>
<path d="M1595.5 233.4h4v2.2h-4z" fill="#90EE90" stroke="#000" stroke-width="1"/>
<path d="M1596.5 233.4h4v4.5h-4z" fill="#FF0000" stroke="#000" stroke-width="1"/>
<path d="M1597.5 233.4h4v4.5h-4z" fill="#90EE90" stroke="#000" stroke-width="1"/>
<path d="M1598.5 233.4h4v2.2h-4z" fill="#FF0000" stroke="#000" stroke-width="1"/>
<path d="M1600.5 233.4h4v2.2h-4z" fill="#90EE90" stroke="#000" stroke-width="1"/>
<path d="M1602.5 233.4h4v2.2h-4z" fill="#FF0000" stroke="#000" stroke-width="1"/>
<path d="M1603.5 233.4h4v2.2h-4z" fill="#90EE90" stroke="#000" stroke-width="1"/>
<path d="M1604.5 233.4h4v4.5h-4z" fill="#FF0000" stroke="#000" stroke-width="1"/>
<path d="M1605.5 233.4h4v4.5h-4z" fill="#90EE90" stroke="#000" stroke-width="1"/>
<path d="M1610.5 233.4h4v2.2h-4z" fill="#FF0000" stroke="#000" stroke-width="1"/>
<path d="M1611.5 233.4h4v2.2h-4zM1612.5 231.1h4v2.2h-4zM1615.5 228.9h4v2.2h-4zM1616.5 226.6h4v2.2h-4zM1619.5 224.4h4v2.2h-4z" fill="#90EE90" stroke="#000" stroke-width="1"/>
<path d="M1622.5 224.4h4v2.2h-4zM1623.5 226.6h4v4.5h-4z" fill="#FF0000" stroke="#000" stroke-width="1"/>
<path d="M1624.5 226.6h4v4.5h-4z" fill="#90EE90" stroke="#000" stroke-width="1"/>
<path d="M1625.5 226.6h4v4.5h-4z" fill="#FF0000" stroke="#000" stroke-width="1"/>
<path d="M1626.5 228.9h4v2.2h-4z" fill="#90EE90" stroke="#000" stroke-width="1"/>
<path d="M1627.5 228.9h4v2.2h-4zM1629.5 231.1h4v4.5h-4z" fill="#FF0000" stroke="#000" stroke-width="1"/>
<path d="M1630.5 233.4h4v2.2h-4z" fill="#90EE90" stroke="#000" stroke-width="1"/>
<path d="M1631.5 233.4h4v9.0h-4z" fill="#FF0000" stroke="#000" stroke-width="1"/>
<path d="M1632.5 240.1h4v2.2h-4z" fill="#90EE90" stroke="#000" stroke-width="1"/>
<path d="M1633.5 240.1h4v4.5h-4zM1634.5 244.6h4v4.5h-4zM1636.5 249.1h4v2.2h-4z" fill="#FF0000" stroke="#000" stroke-width="1"/>
<path d="M1638.5 244.6h4v6.7h-4z" fill="#90EE90" stroke="#000" stroke-width="1"/>
<path d="M1639.5 244.6h4v2.2h-4zM1641.5 246.8h4v2.2h-4z" fill="#FF0000" stroke="#000" stroke-width="1"/>
<path d="M1642.5 246.8h4v2.2h-4zM1643.5 244.6h4v2.2h-4zM1644.5 242.4h4v2.2h-4zM1646.5 237.9h4v4.5h-4z" fill="#90EE90" stroke="#000" stroke-width="1"/>
<path d="M1648.5 237.9h4v4.5h-4zM1649.5 242.4h4v2.2h-4zM1652.5 244.6h4v2.2h-4zM1653.5 246.8h4v2.2h-4zM1655.5 249.1h4v4.5h-4z" fill="#FF0000" stroke="#000" stroke-width="1"/>
<path d="M1656.5 246.8h4v6.7h-4z" fill="#90EE90" stroke="#000" stroke-width="1"/>
<path d="M1657.5 246.8h4v6.7h-4z" fill="#FF0000" stroke="#000" stroke-width="1"/>
<path d="M1660.5 249.1h4v4.5h-4z" fill="#90EE90" stroke="#000" stroke-width="1"/>
<path d="M1662.5 249.1h4v2.2h-4zM1663.5 251.3h4v2.2h-4z" fill="#FF0000" stroke="#000" stroke-width="1"/>
<path d="M1664.5 249.1h4v4.5h-4z" fill="#90EE90" stroke="#000" stroke-width="1"/>
<path d="M1665.5 249.1h4v4.5h-4z" fill="#FF0000" stroke="#000" stroke-width="1"/>
<path d="M1666.5 249.1h4v4.5h-4zM1668.5 244.6h4v4.5h-4z" fill="#90EE90" stroke="#000" stroke-width="1"/>
<path d="M1670.5 244.6h4v2.2h-4z" fill="#FF0000" stroke="#000" stroke-width="1"/>
<path d="M1671.5 244.6h4v2.2h-4z" fill="#90EE90" stroke="#000" stroke-width="1"/>
<path d="M1672.5 244.6h4v4.5h-4z" fill="#FF0000" stroke="#000" stroke-width="1"/>
<path d="M1673.5 246.8h4v2.2h-4z" fill="#90EE90" stroke="#000" stroke-width="1"/>
<path d="M1674.5 246.8h4v2.2h-4zM1675.5 249.1h4v2.2h-4zM1676.5 251.3h4v4.5h-4z" fill="#FF0000" stroke="#000" stroke-width="1"/>
<path d="M1677.5 251.3h4v4.5h-4z" fill="#90EE90" stroke="#000" stroke-width="1"/>
<path d="M1679.5 251.3h4v2.2h-4z" fill="#FF0000" stroke="#000" stroke-width="1"/>
<path d="M1681.5 251.3h4v2.2h-4zM1684.5 249.1h4v2.2h-4z" fill="#90EE90" stroke="#000" stroke-width="1"/>
<path d="M1687.5 249.1h4v2.2h-4z" fill="#FF0000" stroke="#000" stroke-width="1"/>
<path d="M1688.5 249.1h4v2.2h-4z" fill="#90EE90" stroke="#000" stroke-width="1"/>
<path d="M1690.5 249.1h4v6.7h-4z" fill="#FF0000" stroke="#000" stroke-width="1"/>
<path d="M1691.5 253.6h4v2.2h-4z" fill="#90EE90" stroke="#000" stroke-width="1"/>
<path d="M1694.5 253.6h4v2.2h-4zM1695.5 255.8h4v2.2h-4z" fill="#FF0000" stroke="#000" stroke-width="1"/>
<path d="M1696.5 255.8h4v2.2h-4zM1697.5 253.6h4v2.2h-4z" fill="#90EE90" stroke="#000" stroke-width="1"/>
<path d="M1698.5 253.6h4v2.2h-4zM1702.5 255.8h4v2.2h-4zM1704.5 258.1h4v2.2h-4z" fill="#FF0000" stroke="#000" stroke-width="1"/>
<path d="M1705.5 258.1h4v2.2h-4zM1706.5 255.8h4v2.2h-4z" fill="#90EE90" stroke="#000" stroke-width="1"/>
<path d="M1707.5 255.8h4v2.2h-4z" fill="#FF0000" stroke="#000" stroke-width="1"/>
<path d="M1708.5 255.8h4v2.2h-4z" fill="#90EE90" stroke="#000" stroke-width="1"/>
<path d="M1709.5 255.8h4v4.5h-4z" fill="#FF0000" stroke="#000" stroke-width="1"/>
<path d="M1711.5 258.1h4v2.2h-4zM1716.5 255.8h4v2.2h-4zM1717.5 253.6h4v2.2h-4z" fill="#90EE90" stroke="#000" stroke-width="1"/>
<path d="M1718.5 253.6h4v2.2h-4z" fill="#FF0000" stroke="#000" stroke-width="1"/>
<path d="M1719.5 253.6h4v2.2h-4zM1723.5 251.3h4v2.2h-4zM1724.5 249.1h4v2.2h-4z" fill="#90EE90" stroke="#000" stroke-width="1"/>
<path d="M1725.5 249.1h4v2.2h-4zM1727.5 251.3h4v2.2h-4z" fill="#FF0000" stroke="#000" stroke-width="1"/>
<path d="M1728.5 251.3h4v2.2h-4zM1729.5 246.8h4v4.5h-4z" fill="#90EE90" stroke="#000" stroke-width="1"/>
<path d="M1730.5 246.8h4v4.5h-4z" fill="#FF0000" stroke="#000" stroke-width="1"/>
<path d="M1731.5 246.8h4v4.5h-4z" fill="#90EE90" stroke="#000" stroke-width="1"/>
<path d="M1732.5 246.8h4v2.2h-4z" fill="#FF0000" stroke="#000" stroke-width="1"/>
<path d="M1733.5 246.8h4v2.2h-4z" fill="#90EE90" stroke="#000" stroke-width="1"/>
<path d="M1734.5 246.8h4v2.2h-4z" fill="#FF0000" stroke="#000" stroke-width="1"/>
<path d="M1737.5 246.8h4v2.2h-4zM1738.5 244.6h4v2.2h-4z" fill="#90EE90" stroke="#000" stroke-width="1"/>
<path d="M1739.5 244.6h4v4.5h-4z" fill="#FF0000" stroke="#000" stroke-width="1"/>
<path d="M1742.5 246.8h4v2.2h-4z" fill="#90EE90" stroke="#000" stroke-width="1"/>
<path d="M1743.5 246.8h4v2.2h-4z" fill="#FF0000" stroke="#000" stroke-width="1"/>
<path d="M1747.5 246.8h4v2.2h-4zM1750.5 244.6h4v2.2h-4zM1751.5 240.1h4v4.5h-4z" fill="#90EE90" stroke="#000" stroke-width="1"/>
<path d="M1755.5 240.1h4v2.2h-4z" fill="#FF0000" stroke="#000" stroke-width="1"/>
<path d="M1756.5 240.1h4v2.2h-4zM1757.5 237.9h4v2.2h-4zM1758.5 235.6h4v2.2h-4z" fill="#90EE90" stroke="#000" stroke-width="1"/>
<path d="M1759.5 235.6h4v2.2h-4z" fill="#FF0000" stroke="#000" stroke-width="1"/>
<path d="M1760.5 233.4h4v4.5h-4z" fill="#90EE90" stroke="#000" stroke-width="1"/>
<path d="M1763.5 233.4h4v4.5h-4z" fill="#FF0000" stroke="#000" stroke-width="1"/>
<path d="M1764.5 235.6h4v2.2h-4zM1766.5 233.4h4v2.2h-4z" fill="#90EE90" stroke="#000" stroke-width="1"/>
<path d="M1767.5 233.4h4v2.2h-4z" fill="#FF0000" stroke="#000" stroke-width="1"/>
<path d="M1768.5 233.4h4v2.2h-4z" fill="#90EE90" stroke="#000" stroke-width="1"/>
<path d="M1769.5 233.4h4v2.2h-4z" fill="#FF0000" stroke="#000" stroke-width="1"/>
<path d="M1770.5 233.4h4v2.2h-4z" fill="#90EE90" stroke="#000" stroke-width="1"/>
<path d="M1771.5 233.4h4v2.2h-4z" fill="#FF0000" stroke="#000" stroke-width="1"/>
<path d="M1772.5 233.4h4v2.2h-4z" fill="#90EE90" stroke="#000" stroke-width="1"/>
<path d="M1777.5 233.4h4v4.5h-4z" fill="#FF0000" stroke="#000" stroke-width="1"/>
<path d="M1778.5 231.1h4v6.7h-4zM1779.5 228.9h4v2.2h-4z" fill="#90EE90" stroke="#000" stroke-width="1"/>
<path d="M1780.5 228.9h4v2.2h-4z" fill="#FF0000" stroke="#000" stroke-width="1"/>
<path d="M1781.5 228.9h4v2.2h-4zM1782.5 226.6h4v2.2h-4z" fill="#90EE90" stroke="#000" stroke-width="1"/>
<path d="M1784.5 226.6h4v2.2h-4zM1786.5 228.9h4v4.5h-4z" fill="#FF0000" stroke="#000" stroke-width="1"/>
<path d="M1788.5 231.1h4v2.2h-4z" fill="#90EE90" stroke="#000" stroke-width="1"/>
<path d="M1789.5 231.1h4v4.5h-4zM1791.5 235.6h4v4.5h-4z" fill="#FF0000" stroke="#000" stroke-width="1"/>
<path d="M1792.5 237.9h4v2.2h-4z" fill="#90EE90" stroke="#000" stroke-width="1"/>
<path d="M1793.5 237.9h4v2.2h-4z" fill="#FF0000" stroke="#000" stroke-width="1"/>
<path d="M1796.5 235.6h4v4.5h-4z" fill="#90EE90" stroke="#000" stroke-width="1"/>
<path d="M1797.5 235.6h4v2.2h-4zM1798.5 237.9h4v2.2h-4z" fill="#FF0000" stroke="#000" stroke-width="1"/>
<path d="M1799.5 237.9h4v2.2h-4z" fill="#90EE90" stroke="#000" stroke-width="1"/>
<path d="M1800.5 237.9h4v2.2h-4z" fill="#FF0000" stroke="#000" stroke-width="1"/>
<path d="M1801.5 235.6h4v4.5h-4z" fill="#90EE90" stroke="#000" stroke-width="1"/>
<path d="M1802.5 235.6h4v4.5h-4z" fill="#FF0000" stroke="#000" stroke-width="1"/>
<path d="M1803.5 231.1h4v9.0h-4z" fill="#90EE90" stroke="#000" stroke-width="1"/>
<path d="M1804.5 231.1h4v2.2h-4z" fill="#FF0000" stroke="#000" stroke-width="1"/>
<path d="M1805.5 231.1h4v2.2h-4z" fill="#90EE90" stroke="#000" stroke-width="1"/>
<path d="M1806.5 231.1h4v6.7h-4z" fill="#FF0000" stroke="#000" stroke-width="1"/>
<path d="M1807.5 231.1h4v6.7h-4z" fill="#90EE90" stroke="#000" stroke-width="1"/>
<path d="M1808.5 231.1h4v2.2h-4z" fill="#FF0000" stroke="#000" stroke-width="1"/>
<path d="M1809.5 228.9h4v4.5h-4z" fill="#90EE90" stroke="#000" stroke-width="1"/>
<path d="M1810.5 228.9h4v2.2h-4z" fill="#FF0000" stroke="#000" stroke-width="1"/>
<path d="M1811.5 228.9h4v2.2h-4z" fill="#90EE90" stroke="#000" stroke-width="1"/>
<path d="M1813.5 228.9h4v2.2h-4z" fill="#FF0000" stroke="#000" stroke-width="1"/>
<path d="M1814.5 228.9h4v2.2h-4zM1815.5 226.6h4v2.2h-4zM1816.5 222.2h4v4.5h-4zM1817.5 215.4h4v6.7h-4z" fill="#90EE90" stroke="#000" stroke-width="1"/>
<path d="M1818.5 215.4h4v2.2h-4z" fill="#FF0000" stroke="#000" stroke-width="1"/>
<path d="M1819.5 213.2h4v4.5h-4zM1820.5 206.4h4v6.7h-4zM1821.5 202.0h4v4.5h-4zM1822.5 197.5h4v4.5h-4zM1823.5 195.2h4v2.2h-4zM1824.5 193.0h4v2.2h-4z" fill="#90EE90" stroke="#000" stroke-width="1"/>
<path d="M1825.5 193.0h4v2.2h-4z" fill="#FF0000" stroke="#000" stroke-width="1"/>
<path d="M1826.5 193.0h4v2.2h-4z" fill="#90EE90" stroke="#000" stroke-width="1"/>
<path d="M1827.5 193.0h4v6.7h-4z" fill="#FF0000" stroke="#000" stroke-width="1"/>
<path d="M1829.5 197.5h4v2.2h-4z" fill="#90EE90" stroke="#000" stroke-width="1"/>
<path d="M1830.5 197.5h4v4.5h-4z" fill="#FF0000" stroke="#000" stroke-width="1"/>
<path d="M1831.5 199.7h4v2.2h-4zM1832.5 197.5h4v2.2h-4zM1833.5 193.0h4v4.5h-4z" fill="#90EE90" stroke="#000" stroke-width="1"/>
<path d="M1834.5 193.0h4v2.2h-4z" fill="#FF0000" stroke="#000" stroke-width="1"/>
<path d="M1836.5 190.7h4v4.5h-4zM1837.5 184.0h4v6.7h-4z" fill="#90EE90" stroke="#000" stroke-width="1"/>
<path d="M1838.5 184.0h4v6.7h-4z" fill="#FF0000" stroke="#000" stroke-width="1"/>
<path d="M1839.5 184.0h4v6.7h-4z" fill="#90EE90" stroke="#000" stroke-width="1"/>
<path d="M1840.5 184.0h4v2.2h-4zM1842.5 186.3h4v6.7h-4z" fill="#FF0000" stroke="#000" stroke-width="1"/>
<path d="M1843.5 188.5h4v4.5h-4z" fill="#90EE90" stroke="#000" stroke-width="1"/>
<path d="M1844.5 188.5h4v2.2h-4zM1845.5 190.7h4v4.5h-4zM1847.5 195.2h4v2.2h-4z" fill="#FF0000" stroke="#000" stroke-width="1"/>
<path d="M1849.5 195.2h4v2.2h-4z" fill="#90EE90" stroke="#000" stroke-width="1"/>
<path d="M1850.5 195.2h4v2.2h-4z" fill="#FF0000" stroke="#000" stroke-width="1"/>
<path d="M33.0 673.2h5M34.0 673.2h5M37.0 673.2h5M38.0 673.2h5M39.0 673.2h5M47.0 664.2h5M53.0 666.5h5M60.0 662.0h5M62.0 664.2h5M63.0 664.2h5M64.0 664.2h5M68.0 666.5h5M69.0 666.5h5M71.0 668.7h5M72.0 668.7h5M73.0 668.7h5M74.0 668.7h5M75.0 668.7h5M79.0 673.2h5M80.0 673.2h5M81.0 673.2h5M87.0 677.7h5M88.0 677.7h5M94.0 675.4h5M101.0 673.2h5M105.0 668.7h5M108.0 666.5h5M112.0 677.7h5M122.0 666.5h5M124.0 668.7h5M126.0 671.0h5M130.0 675.4h5M131.0 675.4h5M132.0 675.4h5M138.0 677.7h5M146.0 693.4h5M150.0 691.2h5M151.0 691.2h5M155.0 688.9h5M165.0 691.2h5M166.0 691.2h5M176.0 702.4h5M177.0 702.4h5M179.0 704.6h5M182.0 706.9h5M183.0 706.9h5M186.0 711.3h5M187.0 711.3h5M192.0 700.1h5M194.0 695.6h5M196.0 697.9h5M198.0 695.6h5M199.0 695.6h5M201.0 697.9h5M202.0 697.9h5M203.0 697.9h5M206.0 700.1h5M207.0 700.1h5M208.0 700.1h5M209.0 700.1h5M212.0 700.1h5M214.0 697.9h5M215.0 697.9h5M216.0 697.9h5M219.0 697.9h5M220.0 697.9h5M225.0 697.9h5M226.0 697.9h5M227.0 697.9h5M233.0 700.1h5M237.0 702.4h5M244.0 706.9h5M246.0 711.3h5M251.0 711.3h5M253.0 709.1h5M254.0 709.1h5M255.0 709.1h5M261.0 695.6h5M262.0 695.6h5M263.0 695.6h5M264.0 695.6h5M265.0 695.6h5M271.0 686.7h5M272.0 686.7h5M275.0 686.7h5M280.0 682.2h5M281.0 682.2h5M283.0 688.9h5M284.0 688.9h5M286.0 686.7h5M288.0 684.4h5M289.0 684.4h5M290.0 684.4h5M292.0 682.2h5M293.0 682.2h5M294.0 682.2h5M302.0 688.9h5M305.0 686.7h5M307.0 684.4h5M318.0 682.2h5M319.0 682.2h5M322.0 688.9h5M323.0 688.9h5M326.0 686.7h5M327.0 686.7h5M332.0 675.4h5M335.0 677.7h5M338.0 677.7h5M341.0 682.2h5M342.0 682.2h5M351.0 679.9h5M352.0 679.9h5M353.0 679.9h5M361.0 695.6h5M368.0 706.9h5M369.0 706.9h5M371.0 704.6h5M374.0 704.6h5M379.0 704.6h5M383.0 700.1h5M386.0 697.9h5M389.0 686.7h5M393.0 688.9h5M394.0 688.9h5M395.0 688.9h5M396.0 688.9h5M398.0 691.2h5M409.0 688.9h5M410.0 688.9h5M411.0 688.9h5M412.0 688.9h5M416.0 682.2h5M417.0 682.2h5M418.0 682.2h5M419.0 682.2h5M421.0 679.9h5M423.0 677.7h5M430.0 677.7h5M432.0 679.9h5M433.0 679.9h5M438.0 686.7h5M440.0 688.9h5M441.0 688.9h5M451.0 704.6h5M454.0 702.4h5M455.0 702.4h5M460.0 691.2h5M462.0 693.4h5M466.0 688.9h5M467.0 688.9h5M473.0 682.2h5M474.0 682.2h5M481.0 695.6h5M482.0 695.6h5M486.0 688.9h5M489.0 679.9h5M491.0 673.2h5M493.0 675.4h5M499.0 666.5h5M503.0 664.2h5M505.0 657.5h5M514.0 635.1h5M517.0 632.8h5M518.0 632.8h5M521.0 630.6h5M528.0 646.3h5M531.0 650.8h5M534.0 655.2h5M535.0 655.2h5M539.0 662.0h5M546.0 671.0h5M550.0 677.7h5M559.0 677.7h5M562.0 684.4h5M563.0 684.4h5M571.0 650.8h5M572.0 650.8h5M575.0 653.0h5M576.0 653.0h5M578.0 657.5h5M579.0 657.5h5M586.0 668.7h5M588.0 664.2h5M590.0 659.7h5M592.0 657.5h5M595.0 650.8h5M599.0 662.0h5M617.0 646.3h5M618.0 646.3h5M623.0 628.3h5M626.0 621.6h5M628.0 619.3h5M629.0 619.3h5M639.0 632.8h5M640.0 632.8h5M643.0 623.8h5M644.0 623.8h5M645.0 623.8h5M648.0 628.3h5M651.0 630.6h5M654.0 635.1h5M655.0 635.1h5M657.0 637.3h5M661.0 630.6h5M663.0 632.8h5M665.0 635.1h5M666.0 635.1h5M677.0 641.8h5M681.0 644.0h5M685.0 639.5h5M691.0 646.3h5M697.0 644.0h5M708.0 621.6h5M712.0 623.8h5M718.0 621.6h5M724.0 610.4h5M726.0 603.6h5M732.0 576.7h5M737.0 574.5h5M738.0 574.5h5M740.0 579.0h5M742.0 581.2h5M744.0 583.4h5M748.0 587.9h5M755.0 581.2h5M760.0 574.5h5M762.0 572.2h5M765.0 567.7h5M768.0 561.0h5M780.0 507.1h5M782.0 513.9h5M789.0 518.4h5M794.0 489.2h5M811.0 507.1h5M817.0 500.4h5M818.0 500.4h5M822.0 507.1h5M825.0 511.6h5M828.0 511.6h5M836.0 504.9h5M838.0 509.4h5M840.0 520.6h5M846.0 525.1h5M854.0 516.1h5M858.0 507.1h5M859.0 507.1h5M861.0 504.9h5M862.0 504.9h5M866.0 493.7h5M867.0 493.7h5M877.0 491.4h5M891.0 475.7h5M900.0 448.8h5M913.0 426.4h5M925.0 417.4h5M929.0 415.1h5M931.0 412.9h5M934.0 408.4h5M936.0 415.1h5M939.0 419.6h5M940.0 419.6h5M943.0 419.6h5M948.0 421.9h5M957.0 388.2h5M962.0 365.8h5M963.0 365.8h5M971.0 386.0h5M985.0 341.1h5M986.0 341.1h5M992.0 289.5h5M996.0 300.7h5M1009.0 298.5h5M1023.0 253.6h5M1036.0 240.1h5M1039.0 246.8h5M1051.0 244.6h5M1054.0 253.6h5M1057.0 260.3h5M1062.0 269.3h5M1066.0 264.8h5M1078.0 246.8h5M1088.0 262.5h5M1090.0 258.1h5M1092.0 255.8h5M1095.0 249.1h5M1100.0 249.1h5M1102.0 244.6h5M1103.0 244.6h5M1107.0 242.4h5M1118.0 253.6h5M1120.0 249.1h5M1121.0 249.1h5M1131.0 255.8h5M1138.0 260.3h5M1142.0 242.4h5M1146.0 240.1h5M1154.0 188.5h5M1155.0 188.5h5M1159.0 168.3h5M1165.0 152.6h5M1167.0 154.8h5M1178.0 170.5h5M1184.0 161.6h5M1185.0 161.6h5M1191.0 177.3h5M1194.0 184.0h5M1196.0 186.3h5M1199.0 184.0h5M1203.0 177.3h5M1208.0 184.0h5M1209.0 184.0h5M1210.0 184.0h5M1214.0 188.5h5M1215.0 188.5h5M1217.0 190.7h5M1218.0 190.7h5M1219.0 190.7h5M1222.0 181.8h5M1225.0 186.3h5M1227.0 188.5h5M1237.0 184.0h5M1242.0 188.5h5M1253.0 206.4h5M1260.0 219.9h5M1266.0 226.6h5M1273.0 226.6h5M1275.0 224.4h5M1276.0 224.4h5M1282.0 224.4h5M1284.0 228.9h5M1285.0 228.9h5M1288.0 231.1h5M1289.0 231.1h5M1290.0 231.1h5M1295.0 235.6h5M1296.0 235.6h5M1313.0 240.1h5M1315.0 244.6h5M1316.0 244.6h5M1322.0 244.6h5M1323.0 244.6h5M1327.0 244.6h5M1336.0 242.4h5M1337.0 242.4h5M1340.0 244.6h5M1351.0 251.3h5M1352.0 251.3h5M1355.0 249.1h5M1356.0 249.1h5M1361.0 251.3h5M1363.0 246.8h5M1369.0 242.4h5M1370.0 242.4h5M1372.0 237.9h5M1379.0 246.8h5M1384.0 253.6h5M1392.0 260.3h5M1394.0 258.1h5M1395.0 258.1h5M1396.0 258.1h5M1404.0 246.8h5M1406.0 244.6h5M1408.0 240.1h5M1413.0 233.4h5M1415.0 235.6h5M1417.0 240.1h5M1418.0 240.1h5M1428.0 237.9h5M1429.0 237.9h5M1432.0 237.9h5M1438.0 235.6h5M1442.0 244.6h5M1444.0 246.8h5M1446.0 251.3h5M1451.0 251.3h5M1452.0 251.3h5M1454.0 253.6h5M1456.0 255.8h5M1464.0 267.0h5M1467.0 267.0h5M1468.0 267.0h5M1469.0 267.0h5M1474.0 269.3h5M1477.0 271.5h5M1482.0 278.3h5M1483.0 278.3h5M1484.0 278.3h5M1485.0 278.3h5M1486.0 278.3h5M1488.0 273.8h5M1489.0 273.8h5M1493.0 271.5h5M1494.0 271.5h5M1500.0 269.3h5M1504.0 264.8h5M1510.0 260.3h5M1522.0 249.1h5M1526.0 244.6h5M1528.0 246.8h5M1532.0 244.6h5M1534.0 246.8h5M1537.0 246.8h5M1539.0 251.3h5M1540.0 251.3h5M1541.0 251.3h5M1542.0 251.3h5M1544.0 253.6h5M1546.0 251.3h5M1547.0 251.3h5M1551.0 237.9h5M1554.0 237.9h5M1558.0 242.4h5M1562.0 246.8h5M1570.0 251.3h5M1578.0 233.4h5M1580.0 231.1h5M1582.0 233.4h5M1583.0 233.4h5M1585.0 237.9h5M1587.0 235.6h5M1588.0 235.6h5M1591.0 235.6h5M1592.0 235.6h5M1599.0 235.6h5M1601.0 233.4h5M1606.0 233.4h5M1607.0 233.4h5M1608.0 233.4h5M1609.0 233.4h5M1613.0 231.1h5M1614.0 231.1h5M1617.0 226.6h5M1618.0 226.6h5M1620.0 224.4h5M1621.0 224.4h5M1628.0 231.1h5M1635.0 249.1h5M1637.0 251.3h5M1640.0 246.8h5M1645.0 242.4h5M1647.0 237.9h5M1650.0 244.6h5M1651.0 244.6h5M1654.0 249.1h5M1658.0 253.6h5M1659.0 253.6h5M1661.0 249.1h5M1667.0 249.1h5M1669.0 244.6h5M1678.0 251.3h5M1680.0 253.6h5M1682.0 251.3h5M1683.0 251.3h5M1685.0 249.1h5M1686.0 249.1h5M1689.0 249.1h5M1692.0 253.6h5M1693.0 253.6h5M1699.0 255.8h5M1700.0 255.8h5M1701.0 255.8h5M1703.0 258.1h5M1710.0 260.3h5M1712.0 258.1h5M1713.0 258.1h5M1714.0 258.1h5M1715.0 258.1h5M1720.0 253.6h5M1721.0 253.6h5M1722.0 253.6h5M1726.0 251.3h5M1735.0 249.1h5M1736.0 249.1h5M1740.0 249.1h5M1741.0 249.1h5M1744.0 249.1h5M1745.0 249.1h5M1746.0 249.1h5M1748.0 246.8h5M1749.0 246.8h5M1752.0 240.1h5M1753.0 240.1h5M1754.0 240.1h5M1761.0 233.4h5M1762.0 233.4h5M1765.0 235.6h5M1773.0 233.4h5M1774.0 233.4h5M1775.0 233.4h5M1776.0 233.4h5M1783.0 226.6h5M1785.0 228.9h5M1787.0 233.4h5M1790.0 235.6h5M1794.0 240.1h5M1795.0 240.1h5M1812.0 228.9h5M1828.0 199.7h5M1835.0 195.2h5M1841.0 186.3h5M1846.0 195.2h5M1848.0 197.5h5" stroke="#000" stroke-width="1" fill="none"/>
</g>
<line x1="4" y1="131.4" x2="1857" y2="131.4" stroke="#00FFFF" stroke-width="2" stroke-dasharray="6 2"/>
<line x1="4" y1="199.3" x2="1857" y2="199.3" stroke="#00FFFF" stroke-width="2" stroke-dasharray="6 2"/>
<line x1="4" y1="357.6" x2="1857" y2="357.6" stroke="#00FFFF" stroke-width="2" stroke-dasharray="6 2"/>
<line x1="4" y1="424.6" x2="1857" y2="424.6" stroke="#00FFFF" stroke-width="2" stroke-dasharray="6 2"/>
<line x1="4" y1="581.6" x2="1857" y2="581.6" stroke="#00FFFF" stroke-width="2" stroke-dasharray="6 2"/>
<line x1="4" y1="648.6" x2="1857" y2="648.6" stroke="#00FFFF" stroke-width="2" stroke-dasharray="6 2"/>
<line x1="4" y1="808" x2="1857" y2="808" stroke="#00FFFF" stroke-width="2" stroke-dasharray="6 2"/>
<line x1="4" y1="167.6" x2="1857" y2="167.6" stroke="#800080" stroke-width="2" stroke-dasharray="6 2"/>
<line x1="4" y1="389.1" x2="1857" y2="389.1" stroke="#800080" stroke-width="2" stroke-dasharray="6 2"/>
<line x1="4" y1="615.5" x2="1857" y2="615.5" stroke="#800080" stroke-width="2" stroke-dasharray="6 2"/>
<line x1="-3.9" y1="39" x2="612.7" y2="819" stroke="#00FFFF" stroke-width="2.2" stroke-dasharray="6 2"/>
<line x1="37.7" y1="39" x2="660.6" y2="819" stroke="#800080" stroke-width="2.2" stroke-dasharray="6 2"/>
<line x1="89.7" y1="39" x2="704" y2="819" stroke="#00FFFF" stroke-width="2.2" stroke-dasharray="6 2"/>
<line x1="353" y1="39" x2="965.8" y2="819" stroke="#00FFFF" stroke-width="2.2" stroke-dasharray="6 2"/>
<line x1="396.1" y1="39" x2="1009.8" y2="819" stroke="#800080" stroke-width="2.2" stroke-dasharray="6 2"/>
<line x1="443.3" y1="39" x2="1052.9" y2="819" stroke="#00FFFF" stroke-width="2.2" stroke-dasharray="6 2"/>
<line x1="711.9" y1="39" x2="1325" y2="819" stroke="#00FFFF" stroke-width="2.2" stroke-dasharray="6 2"/>
<line x1="756.3" y1="39" x2="1358.9" y2="819" stroke="#800080" stroke-width="2.2" stroke-dasharray="6 2"/>
<line x1="797.2" y1="39" x2="1408.1" y2="819" stroke="#00FFFF" stroke-width="2.2" stroke-dasharray="6 2"/>
<line x1="1069.2" y1="39" x2="1680.1" y2="819" stroke="#00FFFF" stroke-width="2.2" stroke-dasharray="6 2"/>
<line x1="1113.8" y1="39" x2="1720" y2="819" stroke="#800080" stroke-width="2.2" stroke-dasharray="6 2"/>
<line x1="1154.1" y1="39" x2="1754.8" y2="819" stroke="#00FFFF" stroke-width="2.2" stroke-dasharray="6 2"/>
<line x1="1415" y1="39" x2="2027.3" y2="819" stroke="#00FFFF" stroke-width="2.2" stroke-dasharray="6 2"/>
<line x1="1456.3" y1="39" x2="2060.9" y2="819" stroke="#800080" stroke-width="2.2" stroke-dasharray="6 2"/>
<line x1="1494.6" y1="39" x2="2109" y2="819" stroke="#00FFFF" stroke-width="2.2" stroke-dasharray="6 2"/>
<line x1="1773.5" y1="39" x2="2395.2" y2="819" stroke="#00FFFF" stroke-width="2.2" stroke-dasharray="6 2"/>
<line x1="1817.3" y1="39" x2="2393.1" y2="819" stroke="#800080" stroke-width="2.2" stroke-dasharray="6 2"/>
<line x1="-267.5" y1="39" x2="341.5" y2="819" stroke="#00FFFF" stroke-width="2.2" stroke-dasharray="6 2"/>
<line x1="-305.3" y1="39" x2="311.1" y2="819" stroke="#800080" stroke-width="2.2" stroke-dasharray="6 2"/>
<line x1="-336.9" y1="39" x2="266" y2="819" stroke="#00FFFF" stroke-width="2.2" stroke-dasharray="6 2"/>
<line x1="908" y1="39" x2="277.7" y2="819" stroke="#00FFFF" stroke-width="2.2" stroke-dasharray="6 2"/>
<line x1="956.5" y1="39" x2="330" y2="819" stroke="#800080" stroke-width="2.2" stroke-dasharray="6 2"/>
<line x1="1009" y1="39" x2="377.3" y2="819" stroke="#00FFFF" stroke-width="2.2" stroke-dasharray="6 2"/>
<line x1="1274.2" y1="39" x2="638.3" y2="819" stroke="#00FFFF" stroke-width="2.2" stroke-dasharray="6 2"/>
<line x1="1317.7" y1="39" x2="691.5" y2="819" stroke="#800080" stroke-width="2.2" stroke-dasharray="6 2"/>
<line x1="1374.4" y1="39" x2="742.5" y2="819" stroke="#00FFFF" stroke-width="2.2" stroke-dasharray="6 2"/>
<line x1="1622.4" y1="39" x2="992.1" y2="819" stroke="#00FFFF" stroke-width="2.2" stroke-dasharray="6 2"/>
<line x1="1664.9" y1="39" x2="1039.4" y2="819" stroke="#800080" stroke-width="2.2" stroke-dasharray="6 2"/>
<line x1="1715.2" y1="39" x2="1084.8" y2="819" stroke="#00FFFF" stroke-width="2.2" stroke-dasharray="6 2"/>
<line x1="1974.5" y1="39" x2="1342.8" y2="819" stroke="#00FFFF" stroke-width="2.2" stroke-dasharray="6 2"/>
<line x1="2018.4" y1="39" x2="1396" y2="819" stroke="#800080" stroke-width="2.2" stroke-dasharray="6 2"/>
<line x1="2066.7" y1="39" x2="1435.6" y2="819" stroke="#00FFFF" stroke-width="2.2" stroke-dasharray="6 2"/>
<line x1="2338.1" y1="39" x2="1705" y2="819" stroke="#00FFFF" stroke-width="2.2" stroke-dasharray="6 2"/>
<line x1="2369.3" y1="39" x2="1751.6" y2="819" stroke="#800080" stroke-width="2.2" stroke-dasharray="6 2"/>
<line x1="2378.7" y1="39" x2="1787.4" y2="819" stroke="#00FFFF" stroke-width="2.2" stroke-dasharray="6 2"/>
<line x1="560" y1="39" x2="61.6" y2="649.2" stroke="#00FFFF" stroke-width="2.2" stroke-dasharray="6 2"/>
<line x1="600.3" y1="39" x2="97.6" y2="649.7" stroke="#800080" stroke-width="2.2" stroke-dasharray="6 2"/>
<line x1="635.1" y1="39" x2="50" y2="758.4" stroke="#00FFFF" stroke-width="2.2" stroke-dasharray="6 2"/>
<line x1="220.5" y1="40" x2="220.5" y2="820" stroke="#FFFF00" stroke-width="3"/>
<line x1="401.5" y1="40" x2="401.5" y2="820" stroke="#FFFF00" stroke-width="3"/>
<line x1="580.5" y1="40" x2="580.5" y2="820" stroke="#FFFF00" stroke-width="3"/>
<line x1="761.5" y1="40" x2="761.5" y2="820" stroke="#FFFF00" stroke-width="3"/>
<line x1="940.5" y1="40" x2="940.5" y2="820" stroke="#FFFF00" stroke-width="3"/>
<line x1="1120.5" y1="40" x2="1120.5" y2="820" stroke="#FFFF00" stroke-width="3"/>
<line x1="1291.5" y1="40" x2="1291.5" y2="820" stroke="#FFFF00" stroke-width="3"/>
<line x1="1470.5" y1="40" x2="1470.5" y2="820" stroke="#FFFF00" stroke-width="3"/>
<line x1="1654.5" y1="40" x2="1654.5" y2="820" stroke="#FFFF00" stroke-width="3"/>
<line x1="1827.5" y1="40" x2="1827.5" y2="820" stroke="#FFFF00" stroke-width="3"/>
<ellipse cx="135.3" cy="172.2" rx="82.3" ry="66" fill="rgba(120,130,130,0.12)" stroke="#00FFFF" stroke-width="3"/>
<ellipse cx="491" cy="165" rx="82" ry="65" fill="rgba(120,130,130,0.12)" stroke="#00FFFF" stroke-width="3"/>
<ellipse cx="851.9" cy="167.9" rx="82" ry="66" fill="rgba(120,130,130,0.12)" stroke="#00FFFF" stroke-width="3"/>
<ellipse cx="1207" cy="174.7" rx="82.2" ry="65.5" fill="rgba(120,130,130,0.12)" stroke="#00FFFF" stroke-width="3"/>
<ellipse cx="1559.3" cy="168.6" rx="82" ry="65.7" fill="rgba(120,130,130,0.12)" stroke="#00FFFF" stroke-width="3"/>
<ellipse cx="1917.8" cy="168.2" rx="82" ry="65.7" fill="rgba(120,130,130,0.12)" stroke="#00FFFF" stroke-width="3"/>
<ellipse cx="311.4" cy="389" rx="81.9" ry="65" fill="rgba(120,130,130,0.12)" stroke="#00FFFF" stroke-width="3"/>
<ellipse cx="671.3" cy="392.7" rx="82.6" ry="66.3" fill="rgba(120,130,130,0.12)" stroke="#00FFFF" stroke-width="3"/>
<ellipse cx="1026.2" cy="390.9" rx="81.8" ry="65.7" fill="rgba(120,130,130,0.12)" stroke="#00FFFF" stroke-width="3"/>
<ellipse cx="1379.1" cy="391.9" rx="81.8" ry="65.5" fill="rgba(120,130,130,0.12)" stroke="#00FFFF" stroke-width="3"/>
<ellipse cx="1743.3" cy="394.4" rx="82.3" ry="65.4" fill="rgba(120,130,130,0.12)" stroke="#00FFFF" stroke-width="3"/>
<ellipse cx="131.3" cy="619.6" rx="82" ry="65.7" fill="rgba(120,130,130,0.12)" stroke="#00FFFF" stroke-width="3"/>
<ellipse cx="489.2" cy="617.5" rx="81.4" ry="66" fill="rgba(120,130,130,0.12)" stroke="#00FFFF" stroke-width="3"/>
<ellipse cx="847.5" cy="616.8" rx="81.8" ry="66" fill="rgba(120,130,130,0.12)" stroke="#00FFFF" stroke-width="3"/>
<ellipse cx="1207.7" cy="612.3" rx="81.5" ry="66" fill="rgba(120,130,130,0.12)" stroke="#00FFFF" stroke-width="3"/>
<ellipse cx="1562.4" cy="613.6" rx="82" ry="66" fill="rgba(120,130,130,0.12)" stroke="#00FFFF" stroke-width="3"/>
<ellipse cx="1912" cy="618" rx="82" ry="65.7" fill="rgba(120,130,130,0.12)" stroke="#00FFFF" stroke-width="3"/>
<ellipse cx="305.8" cy="838.7" rx="82" ry="66" fill="rgba(120,130,130,0.12)" stroke="#00FFFF" stroke-width="3"/>
<ellipse cx="675.7" cy="839.4" rx="82" ry="66" fill="rgba(120,130,130,0.12)" stroke="#00FFFF" stroke-width="3"/>
<ellipse cx="1019.5" cy="840" rx="82" ry="66" fill="rgba(120,130,130,0.12)" stroke="#00FFFF" stroke-width="3"/>
<ellipse cx="1383.7" cy="832" rx="82" ry="66" fill="rgba(120,130,130,0.12)" stroke="#00FFFF" stroke-width="3"/>
<ellipse cx="1733.3" cy="836" rx="82" ry="66" fill="rgba(120,130,130,0.12)" stroke="#00FFFF" stroke-width="3"/>
</g>
<!-- annotation -->
<line x1="1033.700" y1="86.800" x2="1157" y2="137.500" stroke="#0000e0" stroke-width="1.100"/>
<path d="M1170 144.500 L1152.700 144.900 L1157.400 131.900 Z" fill="#0000ff"/>
<rect x="895.700" y="62.700" width="179.600" height="22.600" fill="none" stroke="#000" stroke-width="3"/>
<text x="914.300" y="80.900" textLength="142" lengthAdjust="spacingAndGlyphs" font-family="Liberation Serif" font-weight="bold" font-size="21" fill="#0000ff">ECB TRICHET</text>
<!-- texts -->
<rect x="25" y="603" width="5" height="1" fill="#000"/>
<!-- go-to-end icon -->
<path d="M1828.500 50.500 L1843.500 60.500 L1828.500 70.500 Z" fill="#000"/><rect x="1845.500" y="50.500" width="3.500" height="20" fill="#000"/>
<!-- axis -->
<line x1="1857.500" y1="45" x2="1857.500" y2="983" stroke="#000" stroke-width="1"/>
<line x1="1857" y1="76.5" x2="1864" y2="76.5" stroke="#000" stroke-width="1"/>
<text x="1866" y="81.7" class="ax" textLength="31.700">1,3460</text>
<line x1="1857" y1="121.5" x2="1864" y2="121.5" stroke="#000" stroke-width="1"/>
<text x="1866" y="126.6" class="ax" textLength="31.700">1,3440</text>
<line x1="1857" y1="166.5" x2="1864" y2="166.5" stroke="#000" stroke-width="1"/>
<text x="1866" y="171.5" class="ax" textLength="31.700">1,3420</text>
<line x1="1857" y1="210.5" x2="1864" y2="210.5" stroke="#000" stroke-width="1"/>
<text x="1866" y="216.3" class="ax" textLength="31.700">1,3400</text>
<line x1="1857" y1="255.5" x2="1864" y2="255.5" stroke="#000" stroke-width="1"/>
<text x="1866" y="261.2" class="ax" textLength="31.700">1,3380</text>
<line x1="1857" y1="300.5" x2="1864" y2="300.5" stroke="#000" stroke-width="1"/>
<text x="1866" y="306.1" class="ax" textLength="31.700">1,3360</text>
<line x1="1857" y1="345.5" x2="1864" y2="345.5" stroke="#000" stroke-width="1"/>
<text x="1866" y="351" class="ax" textLength="31.700">1,3340</text>
<line x1="1857" y1="390.5" x2="1864" y2="390.5" stroke="#000" stroke-width="1"/>
<text x="1866" y="395.9" class="ax" textLength="31.700">1,3320</text>
<line x1="1857" y1="435.5" x2="1864" y2="435.5" stroke="#000" stroke-width="1"/>
<text x="1866" y="440.7" class="ax" textLength="31.700">1,3300</text>
<line x1="1857" y1="480.5" x2="1864" y2="480.5" stroke="#000" stroke-width="1"/>
<text x="1866" y="485.6" class="ax" textLength="31.700">1,3280</text>
<line x1="1857" y1="525.5" x2="1864" y2="525.5" stroke="#000" stroke-width="1"/>
<text x="1866" y="530.5" class="ax" textLength="31.700">1,3260</text>
<line x1="1857" y1="569.5" x2="1864" y2="569.5" stroke="#000" stroke-width="1"/>
<text x="1866" y="575.4" class="ax" textLength="31.700">1,3240</text>
<line x1="1857" y1="614.5" x2="1864" y2="614.5" stroke="#000" stroke-width="1"/>
<text x="1866" y="620.3" class="ax" textLength="31.700">1,3220</text>
<line x1="1857" y1="659.5" x2="1864" y2="659.5" stroke="#000" stroke-width="1"/>
<text x="1866" y="665.1" class="ax" textLength="31.700">1,3200</text>
<line x1="1857" y1="704.5" x2="1864" y2="704.5" stroke="#000" stroke-width="1"/>
<text x="1866" y="710" class="ax" textLength="31.700">1,3180</text>
<line x1="1857" y1="749.5" x2="1864" y2="749.5" stroke="#000" stroke-width="1"/>
<text x="1866" y="754.9" class="ax" textLength="31.700">1,3160</text>
<line x1="1857" y1="794.5" x2="1864" y2="794.5" stroke="#000" stroke-width="1"/>
<text x="1866" y="799.8" class="ax" textLength="31.700">1,3140</text>
<line x1="1857" y1="835.5" x2="1864" y2="835.5" stroke="#000" stroke-width="1"/>
<text x="1865.300" y="839.8" class="ax">3500</text>
<line x1="1857" y1="855.5" x2="1864" y2="855.5" stroke="#000" stroke-width="1"/>
<text x="1865.300" y="860.2" class="ax">3000</text>
<line x1="1857" y1="876.5" x2="1864" y2="876.5" stroke="#000" stroke-width="1"/>
<text x="1865.300" y="880.7" class="ax">2500</text>
<line x1="1857" y1="896.5" x2="1864" y2="896.5" stroke="#000" stroke-width="1"/>
<text x="1865.300" y="901.1" class="ax">2000</text>
<line x1="1857" y1="916.5" x2="1864" y2="916.5" stroke="#000" stroke-width="1"/>
<text x="1865.300" y="921.6" class="ax">1500</text>
<line x1="1857" y1="937.5" x2="1864" y2="937.5" stroke="#000" stroke-width="1"/>
<text x="1865.300" y="942" class="ax">1000</text>
<line x1="1857" y1="957.5" x2="1864" y2="957.5" stroke="#000" stroke-width="1"/>
<text x="1865.300" y="962.4" class="ax">500</text>
<!-- price marker -->
<path d="M1858.500 201 L1866 194.500 L1900.500 194.500 L1900.500 207.500 L1866 207.500 Z" fill="#a9a9a9" stroke="#000" stroke-width="1"/>
<text x="1866.500" y="205.300" class="ax" textLength="31.700">1,3404</text>
<!-- divider -->
<rect x="0" y="817" width="1915" height="1" fill="#000"/>
<text x="6" y="839" class="sm" textLength="81.600">VolumeUpDown</text>
<g clip-path="url(#vc)">
<g shape-rendering="crispEdges">
<path d="M48 977h1.500v1h-1.500zM58 976h1.500v2h-1.500zM62 977h1.500v1h-1.500zM65 976h1.500v2h-1.500zM66 976h1.500v2h-1.500zM67 977h1.500v1h-1.500zM70 977h1.500v1h-1.500zM71 976h1.500v2h-1.500zM72 977h1.500v1h-1.500zM75 976h1.500v2h-1.500zM79 976h1.500v2h-1.500zM86 977h1.500v1h-1.500zM88 977h1.500v1h-1.500zM92 977h1.500v1h-1.500zM94 977h1.500v1h-1.500zM97 977h1.500v1h-1.500zM101 977h1.500v1h-1.500zM103 976h1.500v2h-1.500zM104 977h1.500v1h-1.500zM110 977h1.500v1h-1.500zM112 976h1.500v2h-1.500zM122 977h1.500v1h-1.500zM123 975h1.500v3h-1.500zM125 977h1.500v1h-1.500zM129 976h1.500v2h-1.500zM130 974h1.500v4h-1.500zM132 976h1.500v2h-1.500zM139 977h1.500v1h-1.500zM140 970h1.500v8h-1.500zM141 970h1.500v8h-1.500zM142 974h1.500v4h-1.500zM144 972h1.500v6h-1.500zM146 976h1.500v2h-1.500zM148 977h1.500v1h-1.500zM149 977h1.500v1h-1.500zM151 976h1.500v2h-1.500zM155 977h1.500v1h-1.500zM160 974h1.500v4h-1.500zM161 977h1.500v1h-1.500zM164 972h1.500v6h-1.500zM165 977h1.500v1h-1.500zM166 977h1.500v1h-1.500zM167 976h1.500v2h-1.500zM168 976h1.500v2h-1.500zM169 976h1.500v2h-1.500zM170 976h1.500v2h-1.500zM171 977h1.500v1h-1.500zM172 977h1.500v1h-1.500zM179 972h1.500v6h-1.500zM182 977h1.500v1h-1.500zM184 975h1.500v3h-1.500zM185 977h1.500v1h-1.500zM187 975h1.500v3h-1.500zM188 977h1.500v1h-1.500zM189 977h1.500v1h-1.500zM194 975h1.500v3h-1.500zM197 976h1.500v2h-1.500zM200 977h1.500v1h-1.500zM201 977h1.500v1h-1.500zM203 976h1.500v2h-1.500zM206 977h1.500v1h-1.500zM209 976h1.500v2h-1.500zM211 977h1.500v1h-1.500zM213 972h1.500v6h-1.500zM214 977h1.500v1h-1.500zM217 976h1.500v2h-1.500zM218 975h1.500v3h-1.500zM219 977h1.500v1h-1.500zM221 977h1.500v1h-1.500zM222 975h1.500v3h-1.500zM223 977h1.500v1h-1.500zM227 975h1.500v3h-1.500zM231 976h1.500v2h-1.500zM232 976h1.500v2h-1.500zM233 977h1.500v1h-1.500zM234 975h1.500v3h-1.500zM235 977h1.500v1h-1.500zM238 977h1.500v1h-1.500zM239 977h1.500v1h-1.500zM241 976h1.500v2h-1.500zM242 977h1.500v1h-1.500zM243 975h1.500v3h-1.500zM244 975h1.500v3h-1.500zM248 977h1.500v1h-1.500zM250 977h1.500v1h-1.500zM251 977h1.500v1h-1.500zM252 976h1.500v2h-1.500zM255 974h1.500v4h-1.500zM257 977h1.500v1h-1.500zM258 975h1.500v3h-1.500zM261 977h1.500v1h-1.500zM263 977h1.500v1h-1.500zM264 972h1.500v6h-1.500zM265 976h1.500v2h-1.500zM267 976h1.500v2h-1.500zM271 977h1.500v1h-1.500zM272 977h1.500v1h-1.500zM276 977h1.500v1h-1.500zM277 976h1.500v2h-1.500zM279 975h1.500v3h-1.500zM280 975h1.500v3h-1.500zM281 976h1.500v2h-1.500zM284 975h1.500v3h-1.500zM286 977h1.500v1h-1.500zM291 973h1.500v5h-1.500zM292 972h1.500v6h-1.500zM296 975h1.500v3h-1.500zM297 976h1.500v2h-1.500zM300 977h1.500v1h-1.500zM301 977h1.500v1h-1.500zM303 977h1.500v1h-1.500zM304 976h1.500v2h-1.500zM306 976h1.500v2h-1.500zM310 977h1.500v1h-1.500zM311 974h1.500v4h-1.500zM312 977h1.500v1h-1.500zM314 977h1.500v1h-1.500zM315 977h1.500v1h-1.500zM317 977h1.500v1h-1.500zM318 977h1.500v1h-1.500zM319 975h1.500v3h-1.500zM320 976h1.500v2h-1.500zM322 974h1.500v4h-1.500zM323 977h1.500v1h-1.500zM326 977h1.500v1h-1.500zM327 976h1.500v2h-1.500zM328 976h1.500v2h-1.500zM330 974h1.500v4h-1.500zM335 977h1.500v1h-1.500zM337 975h1.500v3h-1.500zM338 977h1.500v1h-1.500zM341 977h1.500v1h-1.500zM342 977h1.500v1h-1.500zM343 975h1.500v3h-1.500zM344 977h1.500v1h-1.500zM348 977h1.500v1h-1.500zM350 977h1.500v1h-1.500zM352 977h1.500v1h-1.500zM353 976h1.500v2h-1.500zM356 977h1.500v1h-1.500zM357 977h1.500v1h-1.500zM360 977h1.500v1h-1.500zM363 975h1.500v3h-1.500zM365 976h1.500v2h-1.500zM367 977h1.500v1h-1.500zM369 977h1.500v1h-1.500zM370 976h1.500v2h-1.500zM376 975h1.500v3h-1.500zM377 974h1.500v4h-1.500zM378 977h1.500v1h-1.500zM383 975h1.500v3h-1.500zM387 976h1.500v2h-1.500zM391 977h1.500v1h-1.500zM392 977h1.500v1h-1.500zM395 976h1.500v2h-1.500zM398 974h1.500v4h-1.500zM399 977h1.500v1h-1.500zM400 976h1.500v2h-1.500zM403 976h1.500v2h-1.500zM408 977h1.500v1h-1.500zM411 977h1.500v1h-1.500zM416 973h1.500v5h-1.500zM418 977h1.500v1h-1.500zM419 975h1.500v3h-1.500zM420 976h1.500v2h-1.500zM421 976h1.500v2h-1.500zM422 976h1.500v2h-1.500zM423 977h1.500v1h-1.500zM425 975h1.500v3h-1.500zM426 977h1.500v1h-1.500zM428 973h1.500v5h-1.500zM430 977h1.500v1h-1.500zM432 976h1.500v2h-1.500zM433 976h1.500v2h-1.500zM434 975h1.500v3h-1.500zM436 976h1.500v2h-1.500zM438 977h1.500v1h-1.500zM439 977h1.500v1h-1.500zM440 977h1.500v1h-1.500zM441 977h1.500v1h-1.500zM443 977h1.500v1h-1.500zM446 974h1.500v4h-1.500zM447 977h1.500v1h-1.500zM448 976h1.500v2h-1.500zM449 974h1.500v4h-1.500zM450 975h1.500v3h-1.500zM452 977h1.500v1h-1.500zM455 976h1.500v2h-1.500zM457 975h1.500v3h-1.500zM463 977h1.500v1h-1.500zM464 977h1.500v1h-1.500zM466 973h1.500v5h-1.500zM468 977h1.500v1h-1.500zM469 977h1.500v1h-1.500zM473 975h1.500v3h-1.500zM476 976h1.500v2h-1.500zM481 977h1.500v1h-1.500zM482 969h1.500v9h-1.500zM487 975h1.500v3h-1.500zM488 974h1.500v4h-1.500zM490 970h1.500v8h-1.500zM494 976h1.500v2h-1.500zM497 966h1.500v12h-1.500zM498 977h1.500v1h-1.500zM501 974h1.500v4h-1.500zM505 974h1.500v4h-1.500zM511 971h1.500v7h-1.500zM512 976h1.500v2h-1.500zM514 973h1.500v5h-1.500zM516 976h1.500v2h-1.500zM517 975h1.500v3h-1.500zM520 972h1.500v6h-1.500zM521 973h1.500v5h-1.500zM523 970h1.500v8h-1.500zM524 972h1.500v6h-1.500zM525 975h1.500v3h-1.500zM526 975h1.500v3h-1.500zM527 970h1.500v8h-1.500zM528 961h1.500v17h-1.500zM529 974h1.500v4h-1.500zM531 969h1.500v9h-1.500zM532 976h1.500v2h-1.500zM533 974h1.500v4h-1.500zM534 970h1.500v8h-1.500zM535 972h1.500v6h-1.500zM536 974h1.500v4h-1.500zM538 961h1.500v17h-1.500zM539 961h1.500v17h-1.500zM540 971h1.500v7h-1.500zM541 975h1.500v3h-1.500zM542 971h1.500v7h-1.500zM545 958h1.500v20h-1.500zM546 975h1.500v3h-1.500zM548 964h1.500v14h-1.500zM550 966h1.500v12h-1.500zM551 948h1.500v30h-1.500zM552 976h1.500v2h-1.500zM553 968h1.500v10h-1.500zM555 974h1.500v4h-1.500zM560 976h1.500v2h-1.500zM562 963h1.500v15h-1.500zM563 973h1.500v5h-1.500zM565 976h1.500v2h-1.500zM567 974h1.500v4h-1.500zM574 976h1.500v2h-1.500zM576 974h1.500v4h-1.500zM579 976h1.500v2h-1.500zM580 967h1.500v11h-1.500zM583 974h1.500v4h-1.500zM585 976h1.500v2h-1.500zM587 974h1.500v4h-1.500zM588 973h1.500v5h-1.500zM590 976h1.500v2h-1.500zM594 974h1.500v4h-1.500zM598 976h1.500v2h-1.500zM599 966h1.500v12h-1.500zM600 975h1.500v3h-1.500zM602 972h1.500v6h-1.500zM606 974h1.500v4h-1.500zM614 973h1.500v5h-1.500zM615 975h1.500v3h-1.500zM616 973h1.500v5h-1.500zM617 975h1.500v3h-1.500zM621 972h1.500v6h-1.500zM625 973h1.500v5h-1.500zM627 970h1.500v8h-1.500zM630 965h1.500v13h-1.500zM632 974h1.500v4h-1.500zM634 976h1.500v2h-1.500zM637 976h1.500v2h-1.500zM638 975h1.500v3h-1.500zM639 965h1.500v13h-1.500zM640 973h1.500v5h-1.500zM645 972h1.500v6h-1.500zM646 975h1.500v3h-1.500zM648 975h1.500v3h-1.500zM649 974h1.500v4h-1.500zM651 977h1.500v1h-1.500zM652 972h1.500v6h-1.500zM654 971h1.500v7h-1.500zM655 977h1.500v1h-1.500zM657 975h1.500v3h-1.500zM658 977h1.500v1h-1.500zM659 976h1.500v2h-1.500zM661 966h1.500v12h-1.500zM663 976h1.500v2h-1.500zM664 975h1.500v3h-1.500zM666 966h1.500v12h-1.500zM667 971h1.500v7h-1.500zM672 976h1.500v2h-1.500zM675 972h1.500v6h-1.500zM676 972h1.500v6h-1.500zM677 970h1.500v8h-1.500zM680 977h1.500v1h-1.500zM681 965h1.500v13h-1.500zM682 972h1.500v6h-1.500zM683 974h1.500v4h-1.500zM684 974h1.500v4h-1.500zM688 973h1.500v5h-1.500zM689 975h1.500v3h-1.500zM692 977h1.500v1h-1.500zM693 975h1.500v3h-1.500zM695 974h1.500v4h-1.500zM697 973h1.500v5h-1.500zM699 976h1.500v2h-1.500zM701 973h1.500v5h-1.500zM703 975h1.500v3h-1.500zM710 965h1.500v13h-1.500zM711 976h1.500v2h-1.500zM712 975h1.500v3h-1.500zM713 976h1.500v2h-1.500zM716 976h1.500v2h-1.500zM719 970h1.500v8h-1.500zM722 972h1.500v6h-1.500zM723 949h1.500v29h-1.500zM726 963h1.500v15h-1.500zM728 975h1.500v3h-1.500zM731 953h1.500v25h-1.500zM732 973h1.500v5h-1.500zM733 968h1.500v10h-1.500zM736 975h1.500v3h-1.500zM738 976h1.500v2h-1.500zM741 965h1.500v13h-1.500zM742 976h1.500v2h-1.500zM743 974h1.500v4h-1.500zM744 974h1.500v4h-1.500zM745 957h1.500v21h-1.500zM748 975h1.500v3h-1.500zM749 969h1.500v9h-1.500zM750 976h1.500v2h-1.500zM753 971h1.500v7h-1.500zM759 959h1.500v19h-1.500zM764 971h1.500v7h-1.500zM765 970h1.500v8h-1.500zM771 972h1.500v6h-1.500zM774 942h1.500v36h-1.500zM776 954h1.500v24h-1.500zM779 950h1.500v28h-1.500zM781 957h1.500v21h-1.500zM783 949h1.500v29h-1.500zM784 972h1.500v6h-1.500zM785 941h1.500v37h-1.500zM786 966h1.500v12h-1.500zM787 950h1.500v28h-1.500zM789 963h1.500v15h-1.500zM791 967h1.500v11h-1.500zM793 968h1.500v10h-1.500zM796 959h1.500v19h-1.500zM797 967h1.500v11h-1.500zM799 965h1.500v13h-1.500zM801 973h1.500v5h-1.500zM802 972h1.500v6h-1.500zM803 970h1.500v8h-1.500zM805 966h1.500v12h-1.500zM806 972h1.500v6h-1.500zM808 960h1.500v18h-1.500zM811 964h1.500v14h-1.500zM812 972h1.500v6h-1.500zM813 949h1.500v29h-1.500zM814 955h1.500v23h-1.500zM819 953h1.500v25h-1.500zM821 972h1.500v6h-1.500zM823 972h1.500v6h-1.500zM824 972h1.500v6h-1.500zM827 973h1.500v5h-1.500zM828 956h1.500v22h-1.500zM831 974h1.500v4h-1.500zM833 967h1.500v11h-1.500zM838 973h1.500v5h-1.500zM839 976h1.500v2h-1.500zM840 955h1.500v23h-1.500zM842 960h1.500v18h-1.500zM843 961h1.500v17h-1.500zM845 968h1.500v10h-1.500zM847 970h1.500v8h-1.500zM849 963h1.500v15h-1.500zM852 969h1.500v9h-1.500zM860 973h1.500v5h-1.500zM862 932h1.500v46h-1.500zM863 969h1.500v9h-1.500zM864 967h1.500v11h-1.500zM866 932h1.500v46h-1.500zM869 939h1.500v39h-1.500zM871 967h1.500v11h-1.500zM872 956h1.500v22h-1.500zM875 935h1.500v43h-1.500zM877 962h1.500v16h-1.500zM879 967h1.500v11h-1.500zM885 928h1.500v50h-1.500zM886 970h1.500v8h-1.500zM887 967h1.500v11h-1.500zM888 945h1.500v33h-1.500zM889 954h1.500v24h-1.500zM891 975h1.500v3h-1.500zM892 930h1.500v48h-1.500zM894 957h1.500v21h-1.500zM895 916h1.500v62h-1.500zM897 875h1.500v103h-1.500zM899 970h1.500v8h-1.500zM900 918h1.500v60h-1.500zM902 920h1.500v58h-1.500zM903 958h1.500v20h-1.500zM905 944h1.500v34h-1.500zM906 967h1.500v11h-1.500zM907 946h1.500v32h-1.500zM909 971h1.500v7h-1.500zM915 958h1.500v20h-1.500zM916 955h1.500v23h-1.500zM917 963h1.500v15h-1.500zM918 962h1.500v16h-1.500zM923 958h1.500v20h-1.500zM925 972h1.500v6h-1.500zM927 959h1.500v19h-1.500zM929 966h1.500v12h-1.500zM931 968h1.500v10h-1.500zM936 974h1.500v4h-1.500zM939 956h1.500v22h-1.500zM942 972h1.500v6h-1.500zM943 963h1.500v15h-1.500zM945 968h1.500v10h-1.500zM947 964h1.500v14h-1.500zM949 959h1.500v19h-1.500zM954 956h1.500v22h-1.500zM956 958h1.500v20h-1.500zM962 946h1.500v32h-1.500zM963 951h1.500v27h-1.500zM964 968h1.500v10h-1.500zM966 956h1.500v22h-1.500zM967 950h1.500v28h-1.500zM968 966h1.500v12h-1.500zM969 960h1.500v18h-1.500zM970 968h1.500v10h-1.500zM972 929h1.500v49h-1.500zM974 952h1.500v26h-1.500zM975 967h1.500v11h-1.500zM976 941h1.500v37h-1.500zM980 920h1.500v58h-1.500zM982 974h1.500v4h-1.500zM985 970h1.500v8h-1.500zM986 924h1.500v54h-1.500zM988 911h1.500v67h-1.500zM991 966h1.500v12h-1.500zM993 949h1.500v29h-1.500zM994 953h1.500v25h-1.500zM997 972h1.500v6h-1.500zM998 970h1.500v8h-1.500zM999 972h1.500v6h-1.500zM1001 954h1.500v24h-1.500zM1002 965h1.500v13h-1.500zM1005 942h1.500v36h-1.500zM1006 972h1.500v6h-1.500zM1009 963h1.500v15h-1.500zM1010 951h1.500v27h-1.500zM1012 963h1.500v15h-1.500zM1015 967h1.500v11h-1.500zM1018 960h1.500v18h-1.500zM1020 941h1.500v37h-1.500zM1023 891h1.500v87h-1.500zM1024 968h1.500v10h-1.500zM1026 967h1.500v11h-1.500zM1034 907h1.500v71h-1.500zM1035 949h1.500v29h-1.500zM1036 965h1.500v13h-1.500zM1038 919h1.500v59h-1.500zM1040 954h1.500v24h-1.500zM1043 925h1.500v53h-1.500zM1044 956h1.500v22h-1.500zM1045 960h1.500v18h-1.500zM1046 973h1.500v5h-1.500zM1047 960h1.500v18h-1.500zM1053 973h1.500v5h-1.500zM1054 973h1.500v5h-1.500zM1055 961h1.500v17h-1.500zM1056 940h1.500v38h-1.500zM1059 970h1.500v8h-1.500zM1060 969h1.500v9h-1.500zM1062 969h1.500v9h-1.500zM1066 966h1.500v12h-1.500zM1068 966h1.500v12h-1.500zM1069 954h1.500v24h-1.500zM1070 941h1.500v37h-1.500zM1071 954h1.500v24h-1.500zM1074 943h1.500v35h-1.500zM1078 970h1.500v8h-1.500zM1083 971h1.500v7h-1.500zM1085 951h1.500v27h-1.500zM1087 952h1.500v26h-1.500zM1089 950h1.500v28h-1.500zM1090 975h1.500v3h-1.500zM1092 975h1.500v3h-1.500zM1097 968h1.500v10h-1.500zM1098 971h1.500v7h-1.500zM1101 972h1.500v6h-1.500zM1102 974h1.500v4h-1.500zM1104 967h1.500v11h-1.500zM1107 976h1.500v2h-1.500zM1109 963h1.500v15h-1.500zM1110 972h1.500v6h-1.500zM1113 967h1.500v11h-1.500zM1114 972h1.500v6h-1.500zM1117 971h1.500v7h-1.500zM1119 975h1.500v3h-1.500zM1122 973h1.500v5h-1.500zM1124 974h1.500v4h-1.500zM1127 971h1.500v7h-1.500zM1128 973h1.500v5h-1.500zM1129 969h1.500v9h-1.500zM1131 975h1.500v3h-1.500zM1133 961h1.500v17h-1.500zM1136 976h1.500v2h-1.500zM1138 974h1.500v4h-1.500zM1139 944h1.500v34h-1.500zM1140 965h1.500v13h-1.500zM1144 969h1.500v9h-1.500zM1145 973h1.500v5h-1.500zM1146 969h1.500v9h-1.500zM1150 970h1.500v8h-1.500zM1156 942h1.500v36h-1.500zM1162 948h1.500v30h-1.500zM1163 965h1.500v13h-1.500zM1165 953h1.500v25h-1.500zM1167 917h1.500v61h-1.500zM1168 969h1.500v9h-1.500zM1169 971h1.500v7h-1.500zM1171 974h1.500v4h-1.500zM1173 970h1.500v8h-1.500zM1174 966h1.500v12h-1.500zM1176 968h1.500v10h-1.500zM1177 962h1.500v16h-1.500zM1178 972h1.500v6h-1.500zM1180 972h1.500v6h-1.500zM1181 974h1.500v4h-1.500zM1184 974h1.500v4h-1.500zM1185 976h1.500v2h-1.500zM1187 970h1.500v8h-1.500zM1189 976h1.500v2h-1.500zM1190 961h1.500v17h-1.500zM1191 968h1.500v10h-1.500zM1192 968h1.500v10h-1.500zM1193 973h1.500v5h-1.500zM1194 976h1.500v2h-1.500zM1199 971h1.500v7h-1.500zM1202 976h1.500v2h-1.500zM1205 956h1.500v22h-1.500zM1207 974h1.500v4h-1.500zM1208 970h1.500v8h-1.500zM1211 974h1.500v4h-1.500zM1213 960h1.500v18h-1.500zM1215 972h1.500v6h-1.500zM1216 973h1.500v5h-1.500zM1217 974h1.500v4h-1.500zM1218 970h1.500v8h-1.500zM1221 966h1.500v12h-1.500zM1222 971h1.500v7h-1.500zM1223 964h1.500v14h-1.500zM1224 974h1.500v4h-1.500zM1225 966h1.500v12h-1.500zM1226 969h1.500v9h-1.500zM1228 974h1.500v4h-1.500zM1229 976h1.500v2h-1.500zM1230 964h1.500v14h-1.500zM1231 972h1.500v6h-1.500zM1234 974h1.500v4h-1.500zM1237 967h1.500v11h-1.500zM1239 976h1.500v2h-1.500zM1240 965h1.500v13h-1.500zM1242 965h1.500v13h-1.500zM1245 971h1.500v7h-1.500zM1247 970h1.500v8h-1.500zM1250 957h1.500v21h-1.500zM1252 973h1.500v5h-1.500zM1253 974h1.500v4h-1.500zM1254 971h1.500v7h-1.500zM1256 971h1.500v7h-1.500zM1257 976h1.500v2h-1.500zM1259 966h1.500v12h-1.500zM1260 966h1.500v12h-1.500zM1263 974h1.500v4h-1.500zM1264 971h1.500v7h-1.500zM1266 976h1.500v2h-1.500zM1267 976h1.500v2h-1.500zM1269 975h1.500v3h-1.500zM1271 968h1.500v10h-1.500zM1273 967h1.500v11h-1.500zM1275 972h1.500v6h-1.500zM1276 977h1.500v1h-1.500zM1277 971h1.500v7h-1.500zM1286 975h1.500v3h-1.500zM1287 975h1.500v3h-1.500zM1289 976h1.500v2h-1.500zM1291 974h1.500v4h-1.500zM1292 975h1.500v3h-1.500zM1294 976h1.500v2h-1.500zM1296 969h1.500v9h-1.500zM1297 975h1.500v3h-1.500zM1298 973h1.500v5h-1.500zM1300 970h1.500v8h-1.500zM1301 965h1.500v13h-1.500zM1303 976h1.500v2h-1.500zM1305 963h1.500v15h-1.500zM1306 963h1.500v15h-1.500zM1310 975h1.500v3h-1.500zM1312 972h1.500v6h-1.500zM1316 972h1.500v6h-1.500zM1317 976h1.500v2h-1.500zM1319 977h1.500v1h-1.500zM1320 976h1.500v2h-1.500zM1322 976h1.500v2h-1.500zM1323 976h1.500v2h-1.500zM1324 977h1.500v1h-1.500zM1325 976h1.500v2h-1.500zM1326 975h1.500v3h-1.500zM1327 977h1.500v1h-1.500zM1328 976h1.500v2h-1.500zM1331 977h1.500v1h-1.500zM1332 977h1.500v1h-1.500zM1334 975h1.500v3h-1.500zM1339 976h1.500v2h-1.500zM1340 977h1.500v1h-1.500zM1343 974h1.500v4h-1.500zM1344 977h1.500v1h-1.500zM1346 975h1.500v3h-1.500zM1348 977h1.500v1h-1.500zM1351 976h1.500v2h-1.500zM1352 975h1.500v3h-1.500zM1353 977h1.500v1h-1.500zM1355 975h1.500v3h-1.500zM1357 976h1.500v2h-1.500zM1358 977h1.500v1h-1.500zM1360 977h1.500v1h-1.500zM1362 977h1.500v1h-1.500zM1363 977h1.500v1h-1.500zM1364 975h1.500v3h-1.500zM1365 977h1.500v1h-1.500zM1367 976h1.500v2h-1.500zM1369 977h1.500v1h-1.500zM1372 977h1.500v1h-1.500zM1374 977h1.500v1h-1.500zM1375 977h1.500v1h-1.500zM1377 976h1.500v2h-1.500zM1380 977h1.500v1h-1.500zM1382 977h1.500v1h-1.500zM1383 977h1.500v1h-1.500zM1388 976h1.500v2h-1.500zM1390 977h1.500v1h-1.500zM1391 977h1.500v1h-1.500zM1392 976h1.500v2h-1.500zM1394 977h1.500v1h-1.500zM1398 976h1.500v2h-1.500zM1400 973h1.500v5h-1.500zM1403 976h1.500v2h-1.500zM1404 976h1.500v2h-1.500zM1406 974h1.500v4h-1.500zM1407 977h1.500v1h-1.500zM1410 976h1.500v2h-1.500zM1412 977h1.500v1h-1.500zM1413 972h1.500v6h-1.500zM1416 977h1.500v1h-1.500zM1418 977h1.500v1h-1.500zM1424 972h1.500v6h-1.500zM1427 976h1.500v2h-1.500zM1428 976h1.500v2h-1.500zM1430 977h1.500v1h-1.500zM1433 976h1.500v2h-1.500zM1434 976h1.500v2h-1.500zM1437 977h1.500v1h-1.500zM1438 975h1.500v3h-1.500zM1441 976h1.500v2h-1.500zM1443 977h1.500v1h-1.500zM1444 974h1.500v4h-1.500zM1445 976h1.500v2h-1.500zM1446 976h1.500v2h-1.500zM1447 973h1.500v5h-1.500zM1448 976h1.500v2h-1.500zM1450 976h1.500v2h-1.500zM1451 977h1.500v1h-1.500zM1454 972h1.500v6h-1.500zM1455 977h1.500v1h-1.500zM1456 977h1.500v1h-1.500zM1457 977h1.500v1h-1.500zM1460 976h1.500v2h-1.500zM1462 977h1.500v1h-1.500zM1463 976h1.500v2h-1.500zM1464 976h1.500v2h-1.500zM1467 976h1.500v2h-1.500zM1470 972h1.500v6h-1.500zM1473 977h1.500v1h-1.500zM1475 977h1.500v1h-1.500zM1476 976h1.500v2h-1.500zM1478 954h1.500v24h-1.500zM1479 954h1.500v24h-1.500zM1480 977h1.500v1h-1.500zM1482 975h1.500v3h-1.500zM1484 974h1.500v4h-1.500zM1485 975h1.500v3h-1.500zM1486 971h1.500v7h-1.500zM1491 976h1.500v2h-1.500zM1494 968h1.500v10h-1.500zM1495 976h1.500v2h-1.500zM1496 972h1.500v6h-1.500zM1498 977h1.500v1h-1.500zM1501 977h1.500v1h-1.500zM1502 977h1.500v1h-1.500zM1504 977h1.500v1h-1.500zM1505 977h1.500v1h-1.500zM1506 976h1.500v2h-1.500zM1507 975h1.500v3h-1.500zM1509 972h1.500v6h-1.500zM1514 971h1.500v7h-1.500zM1517 975h1.500v3h-1.500zM1519 976h1.500v2h-1.500zM1522 976h1.500v2h-1.500zM1523 977h1.500v1h-1.500zM1525 976h1.500v2h-1.500zM1526 976h1.500v2h-1.500zM1527 977h1.500v1h-1.500zM1528 973h1.500v5h-1.500zM1530 976h1.500v2h-1.500zM1532 977h1.500v1h-1.500zM1533 977h1.500v1h-1.500zM1535 974h1.500v4h-1.500zM1536 976h1.500v2h-1.500zM1539 977h1.500v1h-1.500zM1549 976h1.500v2h-1.500zM1555 976h1.500v2h-1.500zM1558 974h1.500v4h-1.500zM1560 976h1.500v2h-1.500zM1562 977h1.500v1h-1.500zM1563 974h1.500v4h-1.500zM1565 976h1.500v2h-1.500zM1567 976h1.500v2h-1.500zM1568 976h1.500v2h-1.500zM1572 977h1.500v1h-1.500zM1574 974h1.500v4h-1.500zM1577 977h1.500v1h-1.500zM1582 976h1.500v2h-1.500zM1583 977h1.500v1h-1.500zM1584 976h1.500v2h-1.500zM1587 975h1.500v3h-1.500zM1590 976h1.500v2h-1.500zM1591 977h1.500v1h-1.500zM1596 975h1.500v3h-1.500zM1598 976h1.500v2h-1.500zM1600 976h1.500v2h-1.500zM1604 976h1.500v2h-1.500zM1606 976h1.500v2h-1.500zM1608 977h1.500v1h-1.500zM1611 977h1.500v1h-1.500zM1616 975h1.500v3h-1.500zM1620 977h1.500v1h-1.500zM1622 977h1.500v1h-1.500zM1625 977h1.500v1h-1.500zM1626 975h1.500v3h-1.500zM1628 976h1.500v2h-1.500zM1629 975h1.500v3h-1.500zM1631 976h1.500v2h-1.500zM1635 977h1.500v1h-1.500zM1636 968h1.500v10h-1.500zM1640 977h1.500v1h-1.500zM1641 977h1.500v1h-1.500zM1645 976h1.500v2h-1.500zM1649 977h1.500v1h-1.500zM1651 976h1.500v2h-1.500zM1653 977h1.500v1h-1.500zM1657 977h1.500v1h-1.500zM1659 974h1.500v4h-1.500zM1660 977h1.500v1h-1.500zM1667 977h1.500v1h-1.500zM1669 977h1.500v1h-1.500zM1670 977h1.500v1h-1.500zM1671 976h1.500v2h-1.500zM1676 976h1.500v2h-1.500zM1677 977h1.500v1h-1.500zM1678 977h1.500v1h-1.500zM1681 976h1.500v2h-1.500zM1684 977h1.500v1h-1.500zM1685 977h1.500v1h-1.500zM1690 977h1.500v1h-1.500zM1691 977h1.500v1h-1.500zM1692 976h1.500v2h-1.500zM1696 976h1.500v2h-1.500zM1697 976h1.500v2h-1.500zM1699 977h1.500v1h-1.500zM1700 975h1.500v3h-1.500zM1701 977h1.500v1h-1.500zM1702 977h1.500v1h-1.500zM1703 972h1.500v6h-1.500zM1706 972h1.500v6h-1.500zM1709 977h1.500v1h-1.500zM1714 976h1.500v2h-1.500zM1715 972h1.500v6h-1.500zM1720 975h1.500v3h-1.500zM1724 977h1.500v1h-1.500zM1727 975h1.500v3h-1.500zM1729 976h1.500v2h-1.500zM1734 977h1.500v1h-1.500zM1736 977h1.500v1h-1.500zM1737 977h1.500v1h-1.500zM1738 976h1.500v2h-1.500zM1741 972h1.500v6h-1.500zM1742 976h1.500v2h-1.500zM1743 972h1.500v6h-1.500zM1745 973h1.500v5h-1.500zM1746 972h1.500v6h-1.500zM1748 975h1.500v3h-1.500zM1749 977h1.500v1h-1.500zM1750 976h1.500v2h-1.500zM1754 977h1.500v1h-1.500zM1756 976h1.500v2h-1.500zM1757 977h1.500v1h-1.500zM1763 971h1.500v7h-1.500zM1764 975h1.500v3h-1.500zM1766 977h1.500v1h-1.500zM1767 977h1.500v1h-1.500zM1773 976h1.500v2h-1.500zM1778 977h1.500v1h-1.500zM1780 977h1.500v1h-1.500zM1786 977h1.500v1h-1.500zM1789 975h1.500v3h-1.500zM1790 977h1.500v1h-1.500zM1793 975h1.500v3h-1.500zM1795 976h1.500v2h-1.500zM1799 976h1.500v2h-1.500zM1801 977h1.500v1h-1.500zM1802 977h1.500v1h-1.500zM1804 977h1.500v1h-1.500zM1805 971h1.500v7h-1.500zM1807 977h1.500v1h-1.500zM1808 976h1.500v2h-1.500zM1810 976h1.500v2h-1.500zM1812 974h1.500v4h-1.500zM1817 973h1.500v5h-1.500zM1829 974h1.500v4h-1.500zM1830 976h1.500v2h-1.500zM1832 977h1.500v1h-1.500zM1834 977h1.500v1h-1.500zM1839 974h1.500v4h-1.500zM1842 975h1.500v3h-1.500zM1844 977h1.500v1h-1.500zM1845 976h1.500v2h-1.500zM1846 977h1.500v1h-1.500zM1847 977h1.500v1h-1.500zM1850 976h1.500v2h-1.500zM1851 977h1.500v1h-1.500z" fill="#FF0000"/>
<path d="M46 977h1.500v1h-1.500zM55 977h1.500v1h-1.500zM57 977h1.500v1h-1.500zM63 974h1.500v4h-1.500zM64 977h1.500v1h-1.500zM74 977h1.500v1h-1.500zM77 976h1.500v2h-1.500zM80 974h1.500v4h-1.500zM81 976h1.500v2h-1.500zM82 975h1.500v3h-1.500zM84 977h1.500v1h-1.500zM87 977h1.500v1h-1.500zM89 977h1.500v1h-1.500zM91 977h1.500v1h-1.500zM93 977h1.500v1h-1.500zM96 977h1.500v1h-1.500zM98 977h1.500v1h-1.500zM102 977h1.500v1h-1.500zM107 977h1.500v1h-1.500zM108 977h1.500v1h-1.500zM113 977h1.500v1h-1.500zM114 977h1.500v1h-1.500zM115 977h1.500v1h-1.500zM116 977h1.500v1h-1.500zM118 975h1.500v3h-1.500zM119 973h1.500v5h-1.500zM121 977h1.500v1h-1.500zM124 976h1.500v2h-1.500zM128 977h1.500v1h-1.500zM131 976h1.500v2h-1.500zM133 977h1.500v1h-1.500zM134 976h1.500v2h-1.500zM136 975h1.500v3h-1.500zM137 976h1.500v2h-1.500zM138 976h1.500v2h-1.500zM143 976h1.500v2h-1.500zM145 977h1.500v1h-1.500zM147 971h1.500v7h-1.500zM150 977h1.500v1h-1.500zM153 977h1.500v1h-1.500zM154 977h1.500v1h-1.500zM157 974h1.500v4h-1.500zM158 977h1.500v1h-1.500zM159 975h1.500v3h-1.500zM163 977h1.500v1h-1.500zM173 977h1.500v1h-1.500zM174 976h1.500v2h-1.500zM176 977h1.500v1h-1.500zM177 973h1.500v5h-1.500zM178 976h1.500v2h-1.500zM180 975h1.500v3h-1.500zM181 977h1.500v1h-1.500zM186 977h1.500v1h-1.500zM190 976h1.500v2h-1.500zM191 976h1.500v2h-1.500zM192 974h1.500v4h-1.500zM195 977h1.500v1h-1.500zM196 975h1.500v3h-1.500zM198 977h1.500v1h-1.500zM199 974h1.500v4h-1.500zM202 977h1.500v1h-1.500zM205 977h1.500v1h-1.500zM207 977h1.500v1h-1.500zM208 977h1.500v1h-1.500zM210 977h1.500v1h-1.500zM212 976h1.500v2h-1.500zM215 974h1.500v4h-1.500zM216 972h1.500v6h-1.500zM220 977h1.500v1h-1.500zM224 976h1.500v2h-1.500zM226 977h1.500v1h-1.500zM228 977h1.500v1h-1.500zM229 975h1.500v3h-1.500zM230 976h1.500v2h-1.500zM237 975h1.500v3h-1.500zM240 977h1.500v1h-1.500zM245 977h1.500v1h-1.500zM246 974h1.500v4h-1.500zM253 977h1.500v1h-1.500zM254 976h1.500v2h-1.500zM266 976h1.500v2h-1.500zM268 975h1.500v3h-1.500zM269 976h1.500v2h-1.500zM270 977h1.500v1h-1.500zM273 975h1.500v3h-1.500zM274 977h1.500v1h-1.500zM275 977h1.500v1h-1.500zM278 976h1.500v2h-1.500zM282 977h1.500v1h-1.500zM283 977h1.500v1h-1.500zM285 977h1.500v1h-1.500zM287 977h1.500v1h-1.500zM289 977h1.500v1h-1.500zM290 976h1.500v2h-1.500zM294 973h1.500v5h-1.500zM295 977h1.500v1h-1.500zM298 976h1.500v2h-1.500zM299 977h1.500v1h-1.500zM302 976h1.500v2h-1.500zM305 975h1.500v3h-1.500zM308 976h1.500v2h-1.500zM309 977h1.500v1h-1.500zM316 977h1.500v1h-1.500zM321 976h1.500v2h-1.500zM325 976h1.500v2h-1.500zM331 977h1.500v1h-1.500zM333 973h1.500v5h-1.500zM336 974h1.500v4h-1.500zM339 976h1.500v2h-1.500zM347 975h1.500v3h-1.500zM349 977h1.500v1h-1.500zM351 976h1.500v2h-1.500zM354 976h1.500v2h-1.500zM355 976h1.500v2h-1.500zM358 976h1.500v2h-1.500zM359 977h1.500v1h-1.500zM361 977h1.500v1h-1.500zM362 977h1.500v1h-1.500zM366 976h1.500v2h-1.500zM368 975h1.500v3h-1.500zM371 977h1.500v1h-1.500zM373 977h1.500v1h-1.500zM375 977h1.500v1h-1.500zM380 975h1.500v3h-1.500zM381 977h1.500v1h-1.500zM382 977h1.500v1h-1.500zM385 974h1.500v4h-1.500zM388 977h1.500v1h-1.500zM389 975h1.500v3h-1.500zM390 977h1.500v1h-1.500zM393 977h1.500v1h-1.500zM397 977h1.500v1h-1.500zM401 973h1.500v5h-1.500zM402 976h1.500v2h-1.500zM404 977h1.500v1h-1.500zM405 977h1.500v1h-1.500zM406 976h1.500v2h-1.500zM407 976h1.500v2h-1.500zM410 976h1.500v2h-1.500zM412 977h1.500v1h-1.500zM413 975h1.500v3h-1.500zM414 976h1.500v2h-1.500zM415 977h1.500v1h-1.500zM417 977h1.500v1h-1.500zM424 975h1.500v3h-1.500zM427 976h1.500v2h-1.500zM429 976h1.500v2h-1.500zM435 976h1.500v2h-1.500zM437 977h1.500v1h-1.500zM442 976h1.500v2h-1.500zM444 977h1.500v1h-1.500zM453 977h1.500v1h-1.500zM454 976h1.500v2h-1.500zM456 977h1.500v1h-1.500zM459 977h1.500v1h-1.500zM460 973h1.500v5h-1.500zM461 977h1.500v1h-1.500zM462 976h1.500v2h-1.500zM465 977h1.500v1h-1.500zM467 976h1.500v2h-1.500zM470 976h1.500v2h-1.500zM471 974h1.500v4h-1.500zM472 977h1.500v1h-1.500zM474 975h1.500v3h-1.500zM477 977h1.500v1h-1.500zM479 975h1.500v3h-1.500zM480 973h1.500v5h-1.500zM483 975h1.500v3h-1.500zM484 972h1.500v6h-1.500zM485 975h1.500v3h-1.500zM489 975h1.500v3h-1.500zM491 971h1.500v7h-1.500zM492 973h1.500v5h-1.500zM493 976h1.500v2h-1.500zM495 976h1.500v2h-1.500zM496 975h1.500v3h-1.500zM499 977h1.500v1h-1.500zM500 966h1.500v12h-1.500zM502 969h1.500v9h-1.500zM503 969h1.500v9h-1.500zM504 971h1.500v7h-1.500zM506 970h1.500v8h-1.500zM507 973h1.500v5h-1.500zM508 975h1.500v3h-1.500zM509 973h1.500v5h-1.500zM510 976h1.500v2h-1.500zM513 971h1.500v7h-1.500zM515 973h1.500v5h-1.500zM518 974h1.500v4h-1.500zM519 974h1.500v4h-1.500zM522 974h1.500v4h-1.500zM530 966h1.500v12h-1.500zM537 975h1.500v3h-1.500zM543 958h1.500v20h-1.500zM544 973h1.500v5h-1.500zM547 974h1.500v4h-1.500zM549 976h1.500v2h-1.500zM554 965h1.500v13h-1.500zM556 972h1.500v6h-1.500zM557 976h1.500v2h-1.500zM558 956h1.500v22h-1.500zM559 970h1.500v8h-1.500zM561 976h1.500v2h-1.500zM564 965h1.500v13h-1.500zM566 974h1.500v4h-1.500zM568 975h1.500v3h-1.500zM569 975h1.500v3h-1.500zM570 945h1.500v33h-1.500zM571 976h1.500v2h-1.500zM572 976h1.500v2h-1.500zM573 959h1.500v19h-1.500zM575 973h1.500v5h-1.500zM577 972h1.500v6h-1.500zM578 965h1.500v13h-1.500zM581 969h1.500v9h-1.500zM582 976h1.500v2h-1.500zM584 975h1.500v3h-1.500zM586 969h1.500v9h-1.500zM589 976h1.500v2h-1.500zM591 974h1.500v4h-1.500zM592 976h1.500v2h-1.500zM593 974h1.500v4h-1.500zM595 976h1.500v2h-1.500zM596 968h1.500v10h-1.500zM597 976h1.500v2h-1.500zM601 975h1.500v3h-1.500zM603 976h1.500v2h-1.500zM604 941h1.500v37h-1.500zM605 975h1.500v3h-1.500zM607 975h1.500v3h-1.500zM608 976h1.500v2h-1.500zM609 973h1.500v5h-1.500zM610 976h1.500v2h-1.500zM611 969h1.500v9h-1.500zM612 974h1.500v4h-1.500zM613 975h1.500v3h-1.500zM618 975h1.500v3h-1.500zM619 974h1.500v4h-1.500zM620 976h1.500v2h-1.500zM622 974h1.500v4h-1.500zM623 972h1.500v6h-1.500zM624 975h1.500v3h-1.500zM626 974h1.500v4h-1.500zM628 972h1.500v6h-1.500zM629 973h1.500v5h-1.500zM631 976h1.500v2h-1.500zM633 974h1.500v4h-1.500zM635 974h1.500v4h-1.500zM636 970h1.500v8h-1.500zM641 970h1.500v8h-1.500zM642 975h1.500v3h-1.500zM643 975h1.500v3h-1.500zM644 973h1.500v5h-1.500zM647 976h1.500v2h-1.500zM650 975h1.500v3h-1.500zM653 975h1.500v3h-1.500zM656 976h1.500v2h-1.500zM660 969h1.500v9h-1.500zM665 967h1.500v11h-1.500zM668 976h1.500v2h-1.500zM669 965h1.500v13h-1.500zM670 975h1.500v3h-1.500zM671 972h1.500v6h-1.500zM674 968h1.500v10h-1.500zM678 973h1.500v5h-1.500zM679 977h1.500v1h-1.500zM685 976h1.500v2h-1.500zM686 976h1.500v2h-1.500zM687 977h1.500v1h-1.500zM690 974h1.500v4h-1.500zM691 976h1.500v2h-1.500zM694 969h1.500v9h-1.500zM696 973h1.500v5h-1.500zM698 976h1.500v2h-1.500zM700 973h1.500v5h-1.500zM702 968h1.500v10h-1.500zM704 972h1.500v6h-1.500zM705 975h1.500v3h-1.500zM706 964h1.500v14h-1.500zM707 974h1.500v4h-1.500zM708 970h1.500v8h-1.500zM709 973h1.500v5h-1.500zM714 960h1.500v18h-1.500zM715 960h1.500v18h-1.500zM717 974h1.500v4h-1.500zM718 974h1.500v4h-1.500zM720 945h1.500v33h-1.500zM721 945h1.500v33h-1.500zM724 976h1.500v2h-1.500zM725 950h1.500v28h-1.500zM727 950h1.500v28h-1.500zM729 974h1.500v4h-1.500zM730 968h1.500v10h-1.500zM734 975h1.500v3h-1.500zM735 976h1.500v2h-1.500zM737 975h1.500v3h-1.500zM739 976h1.500v2h-1.500zM740 975h1.500v3h-1.500zM746 976h1.500v2h-1.500zM747 974h1.500v4h-1.500zM751 975h1.500v3h-1.500zM752 975h1.500v3h-1.500zM754 973h1.500v5h-1.500zM755 976h1.500v2h-1.500zM756 976h1.500v2h-1.500zM757 969h1.500v9h-1.500zM758 971h1.500v7h-1.500zM760 973h1.500v5h-1.500zM761 975h1.500v3h-1.500zM762 968h1.500v10h-1.500zM763 965h1.500v13h-1.500zM766 975h1.500v3h-1.500zM767 973h1.500v5h-1.500zM768 974h1.500v4h-1.500zM769 957h1.500v21h-1.500zM770 938h1.500v40h-1.500zM772 974h1.500v4h-1.500zM773 960h1.500v18h-1.500zM775 938h1.500v40h-1.500zM777 930h1.500v48h-1.500zM778 962h1.500v16h-1.500zM780 964h1.500v14h-1.500zM782 955h1.500v23h-1.500zM788 968h1.500v10h-1.500zM790 962h1.500v16h-1.500zM792 962h1.500v16h-1.500zM794 966h1.500v12h-1.500zM795 901h1.500v77h-1.500zM798 970h1.500v8h-1.500zM800 966h1.500v12h-1.500zM804 963h1.500v15h-1.500zM807 957h1.500v21h-1.500zM809 969h1.500v9h-1.500zM810 973h1.500v5h-1.500zM815 975h1.500v3h-1.500zM816 953h1.500v25h-1.500zM817 971h1.500v7h-1.500zM818 970h1.500v8h-1.500zM820 959h1.500v19h-1.500zM822 975h1.500v3h-1.500zM825 973h1.500v5h-1.500zM826 960h1.500v18h-1.500zM829 963h1.500v15h-1.500zM830 968h1.500v10h-1.500zM832 971h1.500v7h-1.500zM834 975h1.500v3h-1.500zM835 972h1.500v6h-1.500zM836 973h1.500v5h-1.500zM837 976h1.500v2h-1.500zM841 932h1.500v46h-1.500zM844 970h1.500v8h-1.500zM846 969h1.500v9h-1.500zM848 966h1.500v12h-1.500zM850 967h1.500v11h-1.500zM851 974h1.500v4h-1.500zM853 957h1.500v21h-1.500zM854 965h1.500v13h-1.500zM855 955h1.500v23h-1.500zM856 976h1.500v2h-1.500zM857 967h1.500v11h-1.500zM858 958h1.500v20h-1.500zM859 967h1.500v11h-1.500zM861 962h1.500v16h-1.500zM865 945h1.500v33h-1.500zM867 964h1.500v14h-1.500zM868 966h1.500v12h-1.500zM870 973h1.500v5h-1.500zM873 959h1.500v19h-1.500zM874 944h1.500v34h-1.500zM876 963h1.500v15h-1.500zM878 892h1.500v86h-1.500zM880 955h1.500v23h-1.500zM881 959h1.500v19h-1.500zM882 928h1.500v50h-1.500zM883 960h1.500v18h-1.500zM884 960h1.500v18h-1.500zM890 961h1.500v17h-1.500zM893 969h1.500v9h-1.500zM896 881h1.500v97h-1.500zM898 969h1.500v9h-1.500zM901 973h1.500v5h-1.500zM904 970h1.500v8h-1.500zM908 975h1.500v3h-1.500zM910 972h1.500v6h-1.500zM911 962h1.500v16h-1.500zM912 962h1.500v16h-1.500zM913 925h1.500v53h-1.500zM914 975h1.500v3h-1.500zM919 974h1.500v4h-1.500zM920 968h1.500v10h-1.500zM921 950h1.500v28h-1.500zM922 952h1.500v26h-1.500zM924 954h1.500v24h-1.500zM926 967h1.500v11h-1.500zM928 963h1.500v15h-1.500zM930 959h1.500v19h-1.500zM932 953h1.500v25h-1.500zM933 962h1.500v16h-1.500zM934 907h1.500v71h-1.500zM935 968h1.500v10h-1.500zM937 956h1.500v22h-1.500zM938 966h1.500v12h-1.500zM940 972h1.500v6h-1.500zM941 957h1.500v21h-1.500zM944 963h1.500v15h-1.500zM946 974h1.500v4h-1.500zM948 956h1.500v22h-1.500zM950 951h1.500v27h-1.500zM951 963h1.500v15h-1.500zM952 929h1.500v49h-1.500zM953 965h1.500v13h-1.500zM955 923h1.500v55h-1.500zM957 955h1.500v23h-1.500zM958 953h1.500v25h-1.500zM959 893h1.500v85h-1.500zM960 898h1.500v80h-1.500zM961 967h1.500v11h-1.500zM965 968h1.500v10h-1.500zM971 966h1.500v12h-1.500zM973 956h1.500v22h-1.500zM977 943h1.500v35h-1.500zM978 881h1.500v97h-1.500zM979 966h1.500v12h-1.500zM981 892h1.500v86h-1.500zM983 950h1.500v28h-1.500zM984 966h1.500v12h-1.500zM987 958h1.500v20h-1.500zM989 828h1.500v150h-1.500zM990 827h1.500v151h-1.500zM992 952h1.500v26h-1.500zM995 852h1.500v126h-1.500zM996 953h1.500v25h-1.500zM1000 935h1.500v43h-1.500zM1003 957h1.500v21h-1.500zM1004 962h1.500v16h-1.500zM1007 952h1.500v26h-1.500zM1008 922h1.500v56h-1.500zM1011 949h1.500v29h-1.500zM1013 863h1.500v115h-1.500zM1014 877h1.500v101h-1.500zM1016 908h1.500v70h-1.500zM1017 933h1.500v45h-1.500zM1019 920h1.500v58h-1.500zM1021 866h1.500v112h-1.500zM1022 971h1.500v7h-1.500zM1025 928h1.500v50h-1.500zM1027 937h1.500v41h-1.500zM1028 966h1.500v12h-1.500zM1029 898h1.500v80h-1.500zM1030 949h1.500v29h-1.500zM1031 972h1.500v6h-1.500zM1032 906h1.500v72h-1.500zM1033 921h1.500v57h-1.500zM1037 951h1.500v27h-1.500zM1039 967h1.500v11h-1.500zM1041 953h1.500v25h-1.500zM1042 928h1.500v50h-1.500zM1048 912h1.500v66h-1.500zM1049 898h1.500v80h-1.500zM1050 928h1.500v50h-1.500zM1051 928h1.500v50h-1.500zM1052 944h1.500v34h-1.500zM1057 949h1.500v29h-1.500zM1058 905h1.500v73h-1.500zM1061 946h1.500v32h-1.500zM1063 966h1.500v12h-1.500zM1064 947h1.500v31h-1.500zM1065 962h1.500v16h-1.500zM1067 959h1.500v19h-1.500zM1072 967h1.500v11h-1.500zM1073 947h1.500v31h-1.500zM1075 962h1.500v16h-1.500zM1076 970h1.500v8h-1.500zM1077 958h1.500v20h-1.500zM1079 959h1.500v19h-1.500zM1080 962h1.500v16h-1.500zM1081 971h1.500v7h-1.500zM1082 973h1.500v5h-1.500zM1084 966h1.500v12h-1.500zM1086 971h1.500v7h-1.500zM1088 971h1.500v7h-1.500zM1091 964h1.500v14h-1.500zM1093 965h1.500v13h-1.500zM1094 956h1.500v22h-1.500zM1095 975h1.500v3h-1.500zM1096 976h1.500v2h-1.500zM1099 974h1.500v4h-1.500zM1100 970h1.500v8h-1.500zM1103 975h1.500v3h-1.500zM1105 972h1.500v6h-1.500zM1106 969h1.500v9h-1.500zM1108 974h1.500v4h-1.500zM1111 967h1.500v11h-1.500zM1112 976h1.500v2h-1.500zM1115 972h1.500v6h-1.500zM1116 976h1.500v2h-1.500zM1118 973h1.500v5h-1.500zM1120 970h1.500v8h-1.500zM1121 971h1.500v7h-1.500zM1123 975h1.500v3h-1.500zM1125 973h1.500v5h-1.500zM1126 975h1.500v3h-1.500zM1130 961h1.500v17h-1.500zM1132 974h1.500v4h-1.500zM1134 972h1.500v6h-1.500zM1135 969h1.500v9h-1.500zM1137 976h1.500v2h-1.500zM1141 973h1.500v5h-1.500zM1142 971h1.500v7h-1.500zM1143 959h1.500v19h-1.500zM1147 975h1.500v3h-1.500zM1148 960h1.500v18h-1.500zM1149 973h1.500v5h-1.500zM1151 966h1.500v12h-1.500zM1152 964h1.500v14h-1.500zM1153 924h1.500v54h-1.500zM1154 856h1.500v122h-1.500zM1155 928h1.500v50h-1.500zM1157 961h1.500v17h-1.500zM1158 958h1.500v20h-1.500zM1159 957h1.500v21h-1.500zM1160 958h1.500v20h-1.500zM1161 928h1.500v50h-1.500zM1164 973h1.500v5h-1.500zM1166 914h1.500v64h-1.500zM1170 970h1.500v8h-1.500zM1172 964h1.500v14h-1.500zM1175 944h1.500v34h-1.500zM1179 973h1.500v5h-1.500zM1182 973h1.500v5h-1.500zM1183 950h1.500v28h-1.500zM1186 968h1.500v10h-1.500zM1188 969h1.500v9h-1.500zM1195 973h1.500v5h-1.500zM1196 971h1.500v7h-1.500zM1197 976h1.500v2h-1.500zM1198 975h1.500v3h-1.500zM1200 971h1.500v7h-1.500zM1201 973h1.500v5h-1.500zM1203 973h1.500v5h-1.500zM1204 970h1.500v8h-1.500zM1206 970h1.500v8h-1.500zM1209 973h1.500v5h-1.500zM1210 969h1.500v9h-1.500zM1212 976h1.500v2h-1.500zM1214 973h1.500v5h-1.500zM1219 970h1.500v8h-1.500zM1220 975h1.500v3h-1.500zM1227 970h1.500v8h-1.500zM1232 975h1.500v3h-1.500zM1233 966h1.500v12h-1.500zM1235 975h1.500v3h-1.500zM1236 969h1.500v9h-1.500zM1238 974h1.500v4h-1.500zM1241 975h1.500v3h-1.500zM1243 971h1.500v7h-1.500zM1244 974h1.500v4h-1.500zM1246 974h1.500v4h-1.500zM1248 975h1.500v3h-1.500zM1249 974h1.500v4h-1.500zM1251 968h1.500v10h-1.500zM1255 961h1.500v17h-1.500zM1258 972h1.500v6h-1.500zM1261 967h1.500v11h-1.500zM1262 972h1.500v6h-1.500zM1265 965h1.500v13h-1.500zM1268 967h1.500v11h-1.500zM1270 971h1.500v7h-1.500zM1272 971h1.500v7h-1.500zM1274 975h1.500v3h-1.500zM1278 976h1.500v2h-1.500zM1279 971h1.500v7h-1.500zM1280 962h1.500v16h-1.500zM1281 976h1.500v2h-1.500zM1282 973h1.500v5h-1.500zM1283 975h1.500v3h-1.500zM1284 977h1.500v1h-1.500zM1285 977h1.500v1h-1.500zM1288 973h1.500v5h-1.500zM1290 975h1.500v3h-1.500zM1293 973h1.500v5h-1.500zM1295 976h1.500v2h-1.500zM1299 976h1.500v2h-1.500zM1302 972h1.500v6h-1.500zM1304 972h1.500v6h-1.500zM1307 976h1.500v2h-1.500zM1308 963h1.500v15h-1.500zM1309 976h1.500v2h-1.500zM1311 976h1.500v2h-1.500zM1313 977h1.500v1h-1.500zM1314 977h1.500v1h-1.500zM1315 975h1.500v3h-1.500zM1318 974h1.500v4h-1.500zM1321 977h1.500v1h-1.500zM1333 975h1.500v3h-1.500zM1335 977h1.500v1h-1.500zM1337 976h1.500v2h-1.500zM1338 976h1.500v2h-1.500zM1341 977h1.500v1h-1.500zM1342 976h1.500v2h-1.500zM1345 976h1.500v2h-1.500zM1350 977h1.500v1h-1.500zM1354 977h1.500v1h-1.500zM1356 977h1.500v1h-1.500zM1359 977h1.500v1h-1.500zM1361 977h1.500v1h-1.500zM1366 977h1.500v1h-1.500zM1368 976h1.500v2h-1.500zM1370 976h1.500v2h-1.500zM1371 976h1.500v2h-1.500zM1373 975h1.500v3h-1.500zM1376 977h1.500v1h-1.500zM1381 973h1.500v5h-1.500zM1384 977h1.500v1h-1.500zM1386 977h1.500v1h-1.500zM1389 975h1.500v3h-1.500zM1393 977h1.500v1h-1.500zM1395 977h1.500v1h-1.500zM1396 977h1.500v1h-1.500zM1397 976h1.500v2h-1.500zM1399 977h1.500v1h-1.500zM1401 975h1.500v3h-1.500zM1402 976h1.500v2h-1.500zM1405 977h1.500v1h-1.500zM1408 977h1.500v1h-1.500zM1409 975h1.500v3h-1.500zM1411 977h1.500v1h-1.500zM1415 977h1.500v1h-1.500zM1417 977h1.500v1h-1.500zM1419 977h1.500v1h-1.500zM1422 976h1.500v2h-1.500zM1423 977h1.500v1h-1.500zM1425 975h1.500v3h-1.500zM1426 976h1.500v2h-1.500zM1429 977h1.500v1h-1.500zM1431 974h1.500v4h-1.500zM1432 976h1.500v2h-1.500zM1436 976h1.500v2h-1.500zM1439 976h1.500v2h-1.500zM1442 977h1.500v1h-1.500zM1449 977h1.500v1h-1.500zM1452 977h1.500v1h-1.500zM1458 976h1.500v2h-1.500zM1461 975h1.500v3h-1.500zM1465 977h1.500v1h-1.500zM1472 976h1.500v2h-1.500zM1474 977h1.500v1h-1.500zM1481 975h1.500v3h-1.500zM1487 977h1.500v1h-1.500zM1488 976h1.500v2h-1.500zM1489 975h1.500v3h-1.500zM1490 976h1.500v2h-1.500zM1492 968h1.500v10h-1.500zM1493 971h1.500v7h-1.500zM1497 977h1.500v1h-1.500zM1499 975h1.500v3h-1.500zM1500 975h1.500v3h-1.500zM1503 972h1.500v6h-1.500zM1508 977h1.500v1h-1.500zM1510 973h1.500v5h-1.500zM1511 976h1.500v2h-1.500zM1512 977h1.500v1h-1.500zM1513 977h1.500v1h-1.500zM1515 972h1.500v6h-1.500zM1518 975h1.500v3h-1.500zM1520 976h1.500v2h-1.500zM1521 972h1.500v6h-1.500zM1524 977h1.500v1h-1.500zM1529 976h1.500v2h-1.500zM1531 976h1.500v2h-1.500zM1534 976h1.500v2h-1.500zM1537 977h1.500v1h-1.500zM1538 977h1.500v1h-1.500zM1540 976h1.500v2h-1.500zM1541 975h1.500v3h-1.500zM1542 976h1.500v2h-1.500zM1543 974h1.500v4h-1.500zM1544 977h1.500v1h-1.500zM1545 975h1.500v3h-1.500zM1546 975h1.500v3h-1.500zM1547 977h1.500v1h-1.500zM1548 977h1.500v1h-1.500zM1550 974h1.500v4h-1.500zM1551 977h1.500v1h-1.500zM1552 976h1.500v2h-1.500zM1553 968h1.500v10h-1.500zM1554 977h1.500v1h-1.500zM1556 977h1.500v1h-1.500zM1557 970h1.500v8h-1.500zM1559 977h1.500v1h-1.500zM1561 973h1.500v5h-1.500zM1564 974h1.500v4h-1.500zM1566 976h1.500v2h-1.500zM1569 976h1.500v2h-1.500zM1570 973h1.500v5h-1.500zM1571 975h1.500v3h-1.500zM1573 974h1.500v4h-1.500zM1575 973h1.500v5h-1.500zM1576 977h1.500v1h-1.500zM1578 977h1.500v1h-1.500zM1580 975h1.500v3h-1.500zM1581 976h1.500v2h-1.500zM1585 976h1.500v2h-1.500zM1588 977h1.500v1h-1.500zM1589 977h1.500v1h-1.500zM1592 976h1.500v2h-1.500zM1593 974h1.500v4h-1.500zM1594 976h1.500v2h-1.500zM1595 977h1.500v1h-1.500zM1597 974h1.500v4h-1.500zM1599 977h1.500v1h-1.500zM1601 976h1.500v2h-1.500zM1602 976h1.500v2h-1.500zM1603 975h1.500v3h-1.500zM1605 977h1.500v1h-1.500zM1607 973h1.500v5h-1.500zM1610 977h1.500v1h-1.500zM1612 976h1.500v2h-1.500zM1613 976h1.500v2h-1.500zM1614 971h1.500v7h-1.500zM1615 974h1.500v4h-1.500zM1617 977h1.500v1h-1.500zM1618 976h1.500v2h-1.500zM1621 977h1.500v1h-1.500zM1623 977h1.500v1h-1.500zM1624 972h1.500v6h-1.500zM1627 976h1.500v2h-1.500zM1632 976h1.500v2h-1.500zM1634 976h1.500v2h-1.500zM1637 974h1.500v4h-1.500zM1638 977h1.500v1h-1.500zM1639 976h1.500v2h-1.500zM1642 977h1.500v1h-1.500zM1643 976h1.500v2h-1.500zM1644 977h1.500v1h-1.500zM1647 976h1.500v2h-1.500zM1648 974h1.500v4h-1.500zM1650 976h1.500v2h-1.500zM1652 976h1.500v2h-1.500zM1658 976h1.500v2h-1.500zM1661 977h1.500v1h-1.500zM1662 976h1.500v2h-1.500zM1663 977h1.500v1h-1.500zM1666 973h1.500v5h-1.500zM1668 977h1.500v1h-1.500zM1672 973h1.500v5h-1.500zM1673 977h1.500v1h-1.500zM1674 977h1.500v1h-1.500zM1675 975h1.500v3h-1.500zM1679 973h1.500v5h-1.500zM1680 976h1.500v2h-1.500zM1682 975h1.500v3h-1.500zM1683 977h1.500v1h-1.500zM1686 977h1.500v1h-1.500zM1687 976h1.500v2h-1.500zM1688 977h1.500v1h-1.500zM1689 976h1.500v2h-1.500zM1693 977h1.500v1h-1.500zM1694 977h1.500v1h-1.500zM1695 976h1.500v2h-1.500zM1698 977h1.500v1h-1.500zM1704 977h1.500v1h-1.500zM1705 977h1.500v1h-1.500zM1707 977h1.500v1h-1.500zM1708 976h1.500v2h-1.500zM1710 975h1.500v3h-1.500zM1711 976h1.500v2h-1.500zM1713 977h1.500v1h-1.500zM1717 977h1.500v1h-1.500zM1718 976h1.500v2h-1.500zM1719 975h1.500v3h-1.500zM1722 976h1.500v2h-1.500zM1725 977h1.500v1h-1.500zM1726 976h1.500v2h-1.500zM1728 976h1.500v2h-1.500zM1730 977h1.500v1h-1.500zM1731 977h1.500v1h-1.500zM1733 977h1.500v1h-1.500zM1735 977h1.500v1h-1.500zM1739 975h1.500v3h-1.500zM1740 977h1.500v1h-1.500zM1744 972h1.500v6h-1.500zM1747 973h1.500v5h-1.500zM1751 977h1.500v1h-1.500zM1752 973h1.500v5h-1.500zM1753 977h1.500v1h-1.500zM1755 975h1.500v3h-1.500zM1758 977h1.500v1h-1.500zM1759 974h1.500v4h-1.500zM1760 977h1.500v1h-1.500zM1761 977h1.500v1h-1.500zM1765 975h1.500v3h-1.500zM1768 976h1.500v2h-1.500zM1769 974h1.500v4h-1.500zM1770 976h1.500v2h-1.500zM1771 977h1.500v1h-1.500zM1772 977h1.500v1h-1.500zM1774 976h1.500v2h-1.500zM1775 971h1.500v7h-1.500zM1776 977h1.500v1h-1.500zM1777 977h1.500v1h-1.500zM1779 977h1.500v1h-1.500zM1781 976h1.500v2h-1.500zM1782 976h1.500v2h-1.500zM1784 977h1.500v1h-1.500zM1787 975h1.500v3h-1.500zM1791 976h1.500v2h-1.500zM1792 977h1.500v1h-1.500zM1794 977h1.500v1h-1.500zM1796 977h1.500v1h-1.500zM1797 973h1.500v5h-1.500zM1798 976h1.500v2h-1.500zM1800 969h1.500v9h-1.500zM1803 977h1.500v1h-1.500zM1806 977h1.500v1h-1.500zM1809 976h1.500v2h-1.500zM1811 977h1.500v1h-1.500zM1814 974h1.500v4h-1.500zM1815 976h1.500v2h-1.500zM1816 970h1.500v8h-1.500zM1818 976h1.500v2h-1.500zM1819 973h1.500v5h-1.500zM1820 972h1.500v6h-1.500zM1821 972h1.500v6h-1.500zM1822 973h1.500v5h-1.500zM1823 975h1.500v3h-1.500zM1824 954h1.500v24h-1.500zM1825 954h1.500v24h-1.500zM1826 972h1.500v6h-1.500zM1827 975h1.500v3h-1.500zM1828 964h1.500v14h-1.500zM1831 976h1.500v2h-1.500zM1833 970h1.500v8h-1.500zM1835 977h1.500v1h-1.500zM1836 973h1.500v5h-1.500zM1840 972h1.500v6h-1.500zM1841 975h1.500v3h-1.500zM1843 977h1.500v1h-1.500zM1848 976h1.500v2h-1.500zM1849 976h1.500v2h-1.500zM1852 977h1.500v1h-1.500z" fill="#00FF00"/>
</g>
</g>
<line x1="4" y1="978.500" x2="1857" y2="978.500" stroke="#8a8a8a" stroke-width="1"/>
<path d="M1858.500 976 L1865 970 L1878.500 970 L1878.500 982 L1865 982 Z" fill="#a9a9a9" stroke="#000" stroke-width="1"/>
<text x="1866" y="980" class="ax">32</text>
<line x1="4" y1="983.500" x2="1858" y2="983.500" stroke="#000" stroke-width="1"/>
<line x1="28" y1="983" x2="28" y2="989.500" stroke="#000" stroke-width="2"/>
<text x="27.7" y="999.5" class="ax" text-anchor="middle">12/13</text>
<line x1="84.5" y1="983" x2="84.5" y2="989.500" stroke="#000" stroke-width="1"/>
<text x="83.6" y="999.5" class="ax" text-anchor="middle">00:57</text>
<line x1="135.5" y1="983" x2="135.5" y2="989.500" stroke="#000" stroke-width="1"/>
<text x="135.4" y="999.5" class="ax" text-anchor="middle">01:50</text>
<line x1="188.5" y1="983" x2="188.5" y2="989.500" stroke="#000" stroke-width="1"/>
<text x="187.8" y="999.5" class="ax" text-anchor="middle">02:43</text>
<line x1="240.5" y1="983" x2="240.5" y2="989.500" stroke="#000" stroke-width="1"/>
<text x="239.6" y="999.5" class="ax" text-anchor="middle">03:35</text>
<line x1="292.5" y1="983" x2="292.5" y2="989.500" stroke="#000" stroke-width="1"/>
<text x="291.8" y="999.5" class="ax" text-anchor="middle">04:28</text>
<line x1="344.5" y1="983" x2="344.5" y2="989.500" stroke="#000" stroke-width="1"/>
<text x="344" y="999.5" class="ax" text-anchor="middle">05:23</text>
<line x1="396.5" y1="983" x2="396.5" y2="989.500" stroke="#000" stroke-width="1"/>
<text x="396" y="999.5" class="ax" text-anchor="middle">06:18</text>
<line x1="448.5" y1="983" x2="448.5" y2="989.500" stroke="#000" stroke-width="1"/>
<text x="447.9" y="999.5" class="ax" text-anchor="middle">07:13</text>
<line x1="500.5" y1="983" x2="500.5" y2="989.500" stroke="#000" stroke-width="1"/>
<text x="499.7" y="999.5" class="ax" text-anchor="middle">08:09</text>
<line x1="552.5" y1="983" x2="552.5" y2="989.500" stroke="#000" stroke-width="1"/>
<text x="551.6" y="999.5" class="ax" text-anchor="middle">09:01</text>
<line x1="604.5" y1="983" x2="604.5" y2="989.500" stroke="#000" stroke-width="1"/>
<text x="603.8" y="999.5" class="ax" text-anchor="middle">09:53</text>
<line x1="656.5" y1="983" x2="656.5" y2="989.500" stroke="#000" stroke-width="1"/>
<text x="655.8" y="999.5" class="ax" text-anchor="middle">10:51</text>
<line x1="708.5" y1="983" x2="708.5" y2="989.500" stroke="#000" stroke-width="1"/>
<text x="707.8" y="999.5" class="ax" text-anchor="middle">11:49</text>
<line x1="760.5" y1="983" x2="760.5" y2="989.500" stroke="#000" stroke-width="1"/>
<text x="759.8" y="999.5" class="ax" text-anchor="middle">12:41</text>
<line x1="812.5" y1="983" x2="812.5" y2="989.500" stroke="#000" stroke-width="1"/>
<text x="811.8" y="999.5" class="ax" text-anchor="middle">13:33</text>
<line x1="864.5" y1="983" x2="864.5" y2="989.500" stroke="#000" stroke-width="1"/>
<text x="863.8" y="999.5" class="ax" text-anchor="middle">14:25</text>
<line x1="916.5" y1="983" x2="916.5" y2="989.500" stroke="#000" stroke-width="1"/>
<text x="915.8" y="999.5" class="ax" text-anchor="middle">15:17</text>
<line x1="968.5" y1="983" x2="968.5" y2="989.500" stroke="#000" stroke-width="1"/>
<text x="967.8" y="999.5" class="ax" text-anchor="middle">16:09</text>
<line x1="1020.5" y1="983" x2="1020.5" y2="989.500" stroke="#000" stroke-width="1"/>
<text x="1019.8" y="999.5" class="ax" text-anchor="middle">17:01</text>
<line x1="1072.5" y1="983" x2="1072.5" y2="989.500" stroke="#000" stroke-width="1"/>
<text x="1071.8" y="999.5" class="ax" text-anchor="middle">17:53</text>
<line x1="1124.5" y1="983" x2="1124.5" y2="989.500" stroke="#000" stroke-width="1"/>
<text x="1123.8" y="999.5" class="ax" text-anchor="middle">18:45</text>
<line x1="1176.5" y1="983" x2="1176.5" y2="989.500" stroke="#000" stroke-width="1"/>
<text x="1175.8" y="999.5" class="ax" text-anchor="middle">19:37</text>
<line x1="1228.5" y1="983" x2="1228.5" y2="989.500" stroke="#000" stroke-width="1"/>
<text x="1227.8" y="999.5" class="ax" text-anchor="middle">20:29</text>
<line x1="1280.5" y1="983" x2="1280.5" y2="989.500" stroke="#000" stroke-width="1"/>
<text x="1279.8" y="999.5" class="ax" text-anchor="middle">21:21</text>
<line x1="1332.5" y1="983" x2="1332.5" y2="989.500" stroke="#000" stroke-width="1"/>
<line x1="1380" y1="983" x2="1380" y2="989.500" stroke="#000" stroke-width="2"/>
<text x="1380.3" y="999.5" class="ax" text-anchor="middle">12/14</text>
<line x1="1435.5" y1="983" x2="1435.5" y2="989.500" stroke="#000" stroke-width="1"/>
<text x="1435.4" y="999.5" class="ax" text-anchor="middle">00:57</text>
<line x1="1488.5" y1="983" x2="1488.5" y2="989.500" stroke="#000" stroke-width="1"/>
<text x="1487.6" y="999.5" class="ax" text-anchor="middle">01:49</text>
<line x1="1539.5" y1="983" x2="1539.5" y2="989.500" stroke="#000" stroke-width="1"/>
<text x="1539.4" y="999.5" class="ax" text-anchor="middle">02:41</text>
<line x1="1591.5" y1="983" x2="1591.5" y2="989.500" stroke="#000" stroke-width="1"/>
<text x="1591.2" y="999.5" class="ax" text-anchor="middle">03:35</text>
<line x1="1643.5" y1="983" x2="1643.5" y2="989.500" stroke="#000" stroke-width="1"/>
<text x="1643.3" y="999.5" class="ax" text-anchor="middle">04:27</text>
<line x1="1696.5" y1="983" x2="1696.5" y2="989.500" stroke="#000" stroke-width="1"/>
<text x="1695.5" y="999.5" class="ax" text-anchor="middle">05:20</text>
<line x1="1748.5" y1="983" x2="1748.5" y2="989.500" stroke="#000" stroke-width="1"/>
<text x="1747.6" y="999.5" class="ax" text-anchor="middle">06:14</text>
<line x1="1800.5" y1="983" x2="1800.5" y2="989.500" stroke="#000" stroke-width="1"/>
<text x="1799.7" y="999.5" class="ax" text-anchor="middle">07:13</text>
<!-- dropdown -->
<rect x="1896.500" y="41.500" width="22" height="21" rx="2.500" fill="#f2f2f2" stroke="#8a8a8a" stroke-width="1"/>
<line x1="1898" y1="59.500" x2="1915" y2="59.500" stroke="#dcdcdc" stroke-width="1"/>
<path d="M1901.700 48 h9.400 l-4.700 5.200z" fill="#000"/>
</svg>
<div id="scroll"><div id="thumb"></div>
<div style="position:absolute;left:5px;top:7px;width:0;height:0;border-top:3.500px solid transparent;border-bottom:3.500px solid transparent;border-right:4px solid #000;"></div>
<div style="position:absolute;left:1908px;top:6px;width:0;height:0;border-top:4px solid transparent;border-bottom:4px solid transparent;border-left:4px solid #333;"></div>
<div style="position:absolute;left:288px;top:7px;width:7px;height:7px;background:repeating-linear-gradient(90deg,#444 0,#444 1px,transparent 1px,transparent 3px);"></div>
</div>
</body></html>
